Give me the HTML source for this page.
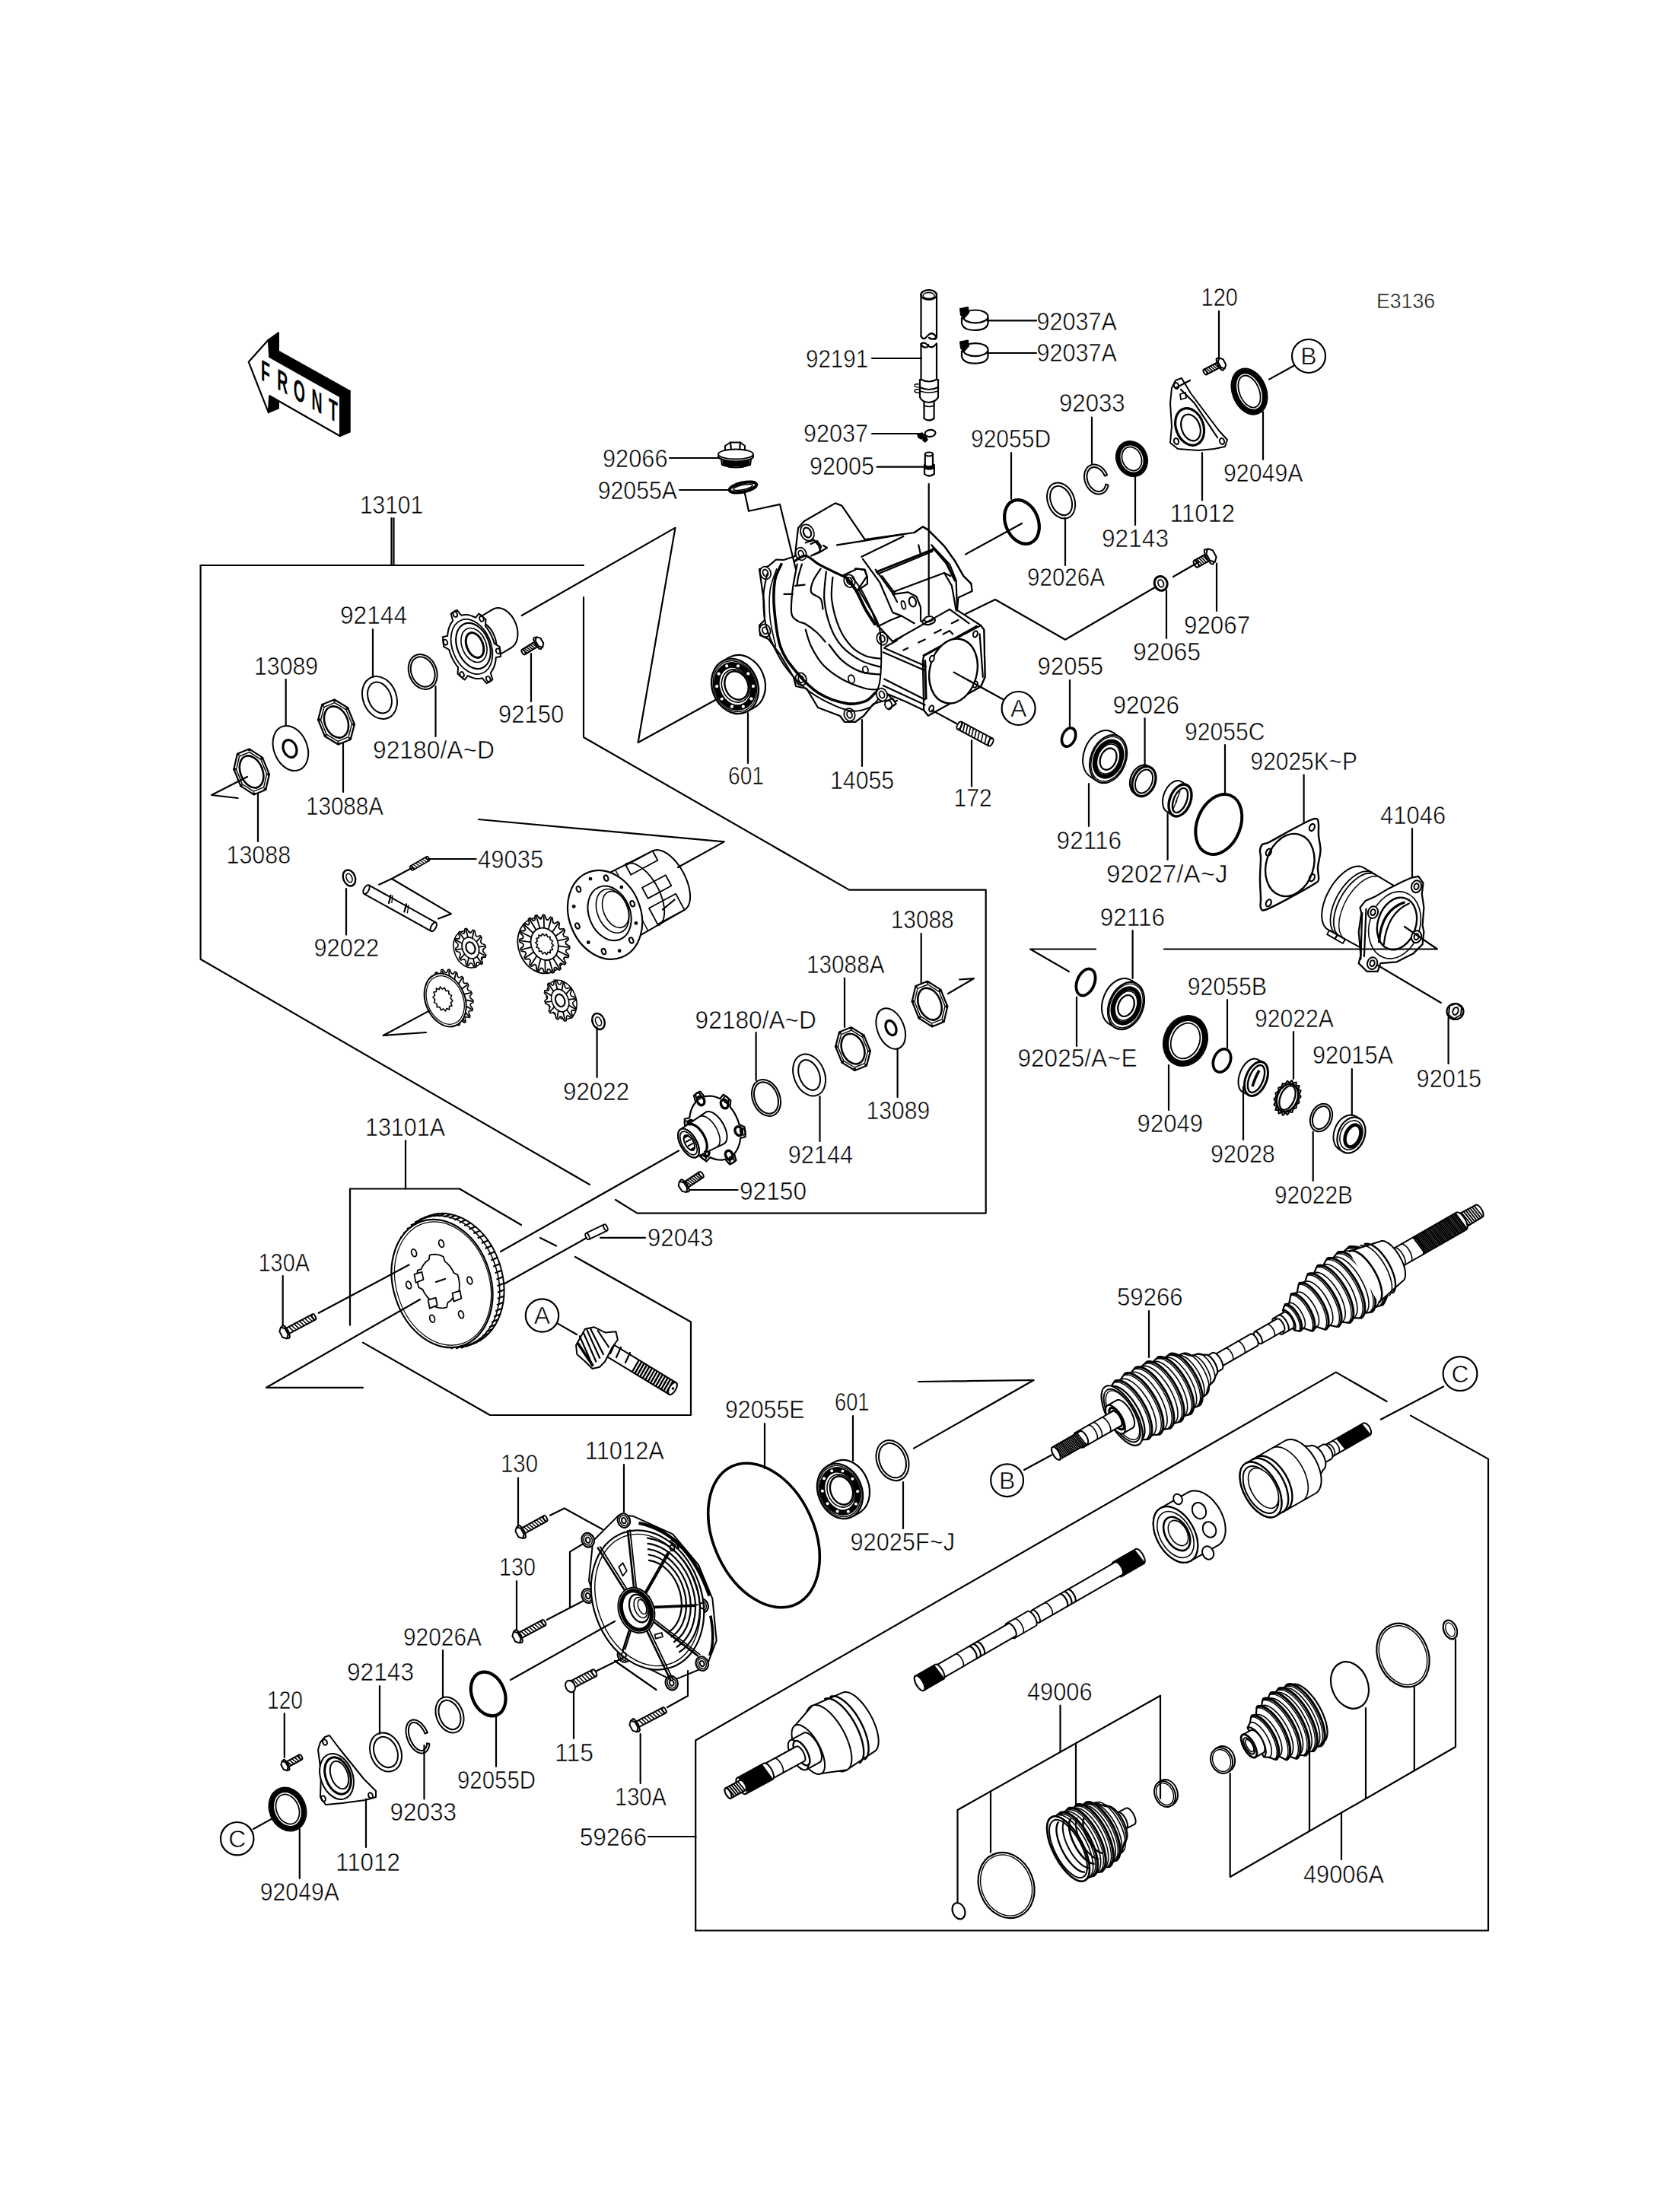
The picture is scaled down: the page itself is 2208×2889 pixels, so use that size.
<!DOCTYPE html>
<html><head><meta charset="utf-8"><style>
html,body{margin:0;padding:0;background:#fff;}
svg{display:block;}
text{font-family:"Liberation Sans",sans-serif;fill:#000;}
.lb{stroke:#fff;stroke-width:0.6px;}
.s{fill:none;stroke:#000;stroke-width:2.2;stroke-linejoin:round;stroke-linecap:round;}
.t{fill:none;stroke:#000;stroke-width:3.6;}
.f{fill:#000;stroke:none;}
.w{fill:#fff;stroke:#000;stroke-width:2.2;stroke-linejoin:round;}
.h{fill:none;stroke:#000;stroke-width:1.4;}
</style></head><body>
<svg xmlns="http://www.w3.org/2000/svg" width="2208" height="2889" viewBox="0 0 2208 2889">
<rect width="2208" height="2889" fill="#fff"/>
<ellipse cx="1343" cy="686" rx="21.5" ry="29.9" transform="rotate(-22 1343 686)" fill="none" stroke="#000" stroke-width="4.2"/>
<ellipse cx="1394.6" cy="658" rx="17.4" ry="24.4" transform="rotate(-22 1394.6 658)" fill="none" stroke="#000" stroke-width="2"/>
<ellipse cx="1394.6" cy="658" rx="13.4" ry="20" transform="rotate(-22 1394.6 658)" fill="none" stroke="#000" stroke-width="2"/>
<path d="M1456.7 637.6 L1456 640 L1455.1 642.3 L1454 644.3 L1452.5 646 L1450.9 647.4 L1449 648.4 L1447 649.1 L1444.9 649.5 L1442.7 649.4 L1440.5 649 L1438.2 648.2 L1436.1 647.1 L1434 645.6 L1432.1 643.8 L1430.3 641.7 L1428.8 639.5 L1427.4 637 L1426.4 634.4 L1425.6 631.7 L1425.2 629 L1425 626.3 L1425.2 623.7 L1425.6 621.1 L1426.4 618.8 L1427.4 616.7 L1428.7 614.8 L1430.3 613.3 L1432 612.1 L1434 611.2 L1436 610.6 L1438.2 610.5 L1440.4 610.7 L1442.6 611.4 L1444.8 612.3 L1447 613.6 L1449 615.3 L1450.8 617.2 L1452.5 619.4 L1453.9 621.8 L1455.1 624.3 L1451.9 625.6 L1450.9 623.5 L1449.7 621.5 L1448.4 619.7 L1446.9 618.1 L1445.3 616.7 L1443.6 615.6 L1441.9 614.8 L1440.2 614.2 L1438.4 614 L1436.8 614.1 L1435.2 614.5 L1433.7 615.1 L1432.3 616.1 L1431.2 617.4 L1430.2 618.9 L1429.4 620.6 L1428.9 622.5 L1428.5 624.5 L1428.5 626.6 L1428.7 628.9 L1429.1 631.1 L1429.7 633.3 L1430.6 635.5 L1431.7 637.5 L1432.9 639.4 L1434.3 641.1 L1435.9 642.6 L1437.5 643.9 L1439.2 644.8 L1441 645.5 L1442.7 645.9 L1444.4 646 L1446.1 645.8 L1447.6 645.2 L1449 644.4 L1450.3 643.3 L1451.4 641.9 L1452.2 640.3 L1452.9 638.5 L1453.3 636.5 Z" fill="none" stroke="#000" stroke-width="2.0" stroke-linejoin="round"/>
<ellipse cx="1487.5" cy="603" rx="20" ry="23.5" transform="rotate(-22 1487.5 603)" fill="#fff" stroke="#000" stroke-width="2"/>
<ellipse cx="1487.5" cy="603" rx="17" ry="20.5" transform="rotate(-22 1487.5 603)" fill="none" stroke="#000" stroke-width="5"/>
<ellipse cx="1487.5" cy="603" rx="12.5" ry="16" transform="rotate(-22 1487.5 603)" fill="none" stroke="#000" stroke-width="1.8"/>
<ellipse cx="1642" cy="514.6" rx="22" ry="31.1" transform="rotate(-22 1642 514.6)" fill="#fff" stroke="#000" stroke-width="2"/>
<ellipse cx="1642" cy="514.6" rx="18.4" ry="27.5" transform="rotate(-22 1642 514.6)" fill="none" stroke="#000" stroke-width="6"/>
<ellipse cx="1642" cy="514.6" rx="13" ry="22.1" transform="rotate(-22 1642 514.6)" fill="none" stroke="#000" stroke-width="1.8"/>
<ellipse cx="1404.6" cy="969" rx="8.5" ry="12.7" transform="rotate(22 1404.6 969)" fill="none" stroke="#000" stroke-width="3.6"/>
<ellipse cx="1601.8" cy="1083.5" rx="28.4" ry="41" transform="rotate(22 1601.8 1083.5)" fill="none" stroke="#000" stroke-width="4"/>
<ellipse cx="1427" cy="1291" rx="11.4" ry="18.4" transform="rotate(22 1427 1291)" fill="none" stroke="#000" stroke-width="3.8"/>
<ellipse cx="1558" cy="1368" rx="28.2" ry="33.7" transform="rotate(22 1558 1368)" fill="#fff" stroke="#000" stroke-width="2"/>
<ellipse cx="1558" cy="1368" rx="24.3" ry="29.8" transform="rotate(22 1558 1368)" fill="none" stroke="#000" stroke-width="6.5"/>
<ellipse cx="1558" cy="1368" rx="18.4" ry="24" transform="rotate(22 1558 1368)" fill="none" stroke="#000" stroke-width="1.8"/>
<ellipse cx="1606" cy="1394" rx="10.9" ry="15.8" transform="rotate(22 1606 1394)" fill="none" stroke="#000" stroke-width="3.6"/>
<ellipse cx="1736.5" cy="1469" rx="13.8" ry="18.9" transform="rotate(22 1736.5 1469)" fill="none" stroke="#000" stroke-width="2"/>
<ellipse cx="1736.5" cy="1469" rx="10.8" ry="15.6" transform="rotate(22 1736.5 1469)" fill="none" stroke="#000" stroke-width="2"/>
<ellipse cx="499" cy="917" rx="21.9" ry="28.9" transform="rotate(-22 499 917)" fill="none" stroke="#000" stroke-width="2"/>
<ellipse cx="499" cy="917" rx="14.9" ry="21.2" transform="rotate(-22 499 917)" fill="none" stroke="#000" stroke-width="2"/>
<ellipse cx="555.7" cy="883" rx="18.1" ry="23.7" transform="rotate(-22 555.7 883)" fill="none" stroke="#000" stroke-width="2"/>
<ellipse cx="555.7" cy="883" rx="15.1" ry="20.4" transform="rotate(-22 555.7 883)" fill="none" stroke="#000" stroke-width="2"/>
<ellipse cx="1063.6" cy="1413" rx="20.1" ry="28.5" transform="rotate(-22 1063.6 1413)" fill="none" stroke="#000" stroke-width="2"/>
<ellipse cx="1063.6" cy="1413" rx="13.1" ry="20.8" transform="rotate(-22 1063.6 1413)" fill="none" stroke="#000" stroke-width="2"/>
<ellipse cx="1007" cy="1443" rx="17.9" ry="24.9" transform="rotate(-22 1007 1443)" fill="none" stroke="#000" stroke-width="2"/>
<ellipse cx="1007" cy="1443" rx="14.9" ry="21.6" transform="rotate(-22 1007 1443)" fill="none" stroke="#000" stroke-width="2"/>
<ellipse cx="641.7" cy="2226.5" rx="21.5" ry="29.9" transform="rotate(-22 641.7 2226.5)" fill="none" stroke="#000" stroke-width="4.2"/>
<ellipse cx="591" cy="2254" rx="17.4" ry="24.4" transform="rotate(-22 591 2254)" fill="none" stroke="#000" stroke-width="2"/>
<ellipse cx="591" cy="2254" rx="13.4" ry="20" transform="rotate(-22 591 2254)" fill="none" stroke="#000" stroke-width="2"/>
<path d="M564.4 2292.3 L564 2294.9 L563.4 2297.3 L562.4 2299.4 L561.2 2301.2 L559.7 2302.6 L558.1 2303.7 L556.2 2304.3 L554.3 2304.5 L552.2 2304.3 L550 2303.6 L547.9 2302.5 L545.7 2301.1 L543.7 2299.3 L541.7 2297.1 L539.9 2294.7 L538.2 2292 L536.8 2289.2 L535.6 2286.2 L534.6 2283.1 L534 2280.1 L533.6 2277.1 L533.5 2274.1 L533.7 2271.4 L534.3 2268.9 L535.1 2266.6 L536.2 2264.6 L537.5 2263 L539.1 2261.8 L540.8 2261 L542.7 2260.5 L544.8 2260.6 L546.9 2261 L549 2261.9 L551.2 2263.1 L553.3 2264.8 L555.3 2266.8 L557.2 2269.1 L559 2271.6 L560.5 2274.4 L561.9 2277.3 L558.6 2278.6 L557.5 2276.1 L556.2 2273.8 L554.8 2271.6 L553.3 2269.6 L551.7 2267.9 L550 2266.4 L548.3 2265.3 L546.6 2264.5 L545 2264.1 L543.5 2264 L542 2264.2 L540.7 2264.9 L539.6 2265.8 L538.6 2267.1 L537.8 2268.7 L537.3 2270.6 L537 2272.7 L536.9 2275 L537.1 2277.4 L537.4 2280 L538.1 2282.5 L538.9 2285.1 L539.9 2287.6 L541.1 2290.1 L542.5 2292.4 L543.9 2294.4 L545.5 2296.3 L547.2 2297.9 L548.8 2299.2 L550.5 2300.1 L552.2 2300.8 L553.8 2301 L555.3 2300.9 L556.7 2300.5 L557.9 2299.7 L558.9 2298.5 L559.8 2297.1 L560.5 2295.4 L560.9 2293.4 L561.1 2291.2 Z" fill="none" stroke="#000" stroke-width="2.0" stroke-linejoin="round"/>
<ellipse cx="507" cy="2303" rx="20" ry="26.3" transform="rotate(-22 507 2303)" fill="none" stroke="#000" stroke-width="2"/>
<ellipse cx="507" cy="2303" rx="15" ry="20.8" transform="rotate(-22 507 2303)" fill="none" stroke="#000" stroke-width="2"/>
<ellipse cx="378" cy="2378" rx="23.6" ry="29.2" transform="rotate(-22 378 2378)" fill="#fff" stroke="#000" stroke-width="2"/>
<ellipse cx="378" cy="2378" rx="20" ry="25.6" transform="rotate(-22 378 2378)" fill="none" stroke="#000" stroke-width="6"/>
<ellipse cx="378" cy="2378" rx="14.6" ry="20.2" transform="rotate(-22 378 2378)" fill="none" stroke="#000" stroke-width="1.8"/>
<ellipse cx="1004" cy="2018" rx="66" ry="99.9" transform="rotate(-25 1004 2018)" fill="none" stroke="#000" stroke-width="3.6"/>
<ellipse cx="1173" cy="1919.6" rx="20.4" ry="27.4" transform="rotate(-22 1173 1919.6)" fill="none" stroke="#000" stroke-width="2"/>
<ellipse cx="1173" cy="1919.6" rx="16.9" ry="23.5" transform="rotate(-22 1173 1919.6)" fill="none" stroke="#000" stroke-width="2"/>
<path d="M1210.5 387 L1210.5 442" class="s"/>
<path d="M1231 387 L1231 442" class="s"/>
<ellipse cx="1220.7" cy="387.5" rx="10.3" ry="6.3" transform="rotate(0 1220.7 387.5)" class="s" />
<ellipse cx="1220.7" cy="388.5" rx="7.5" ry="4" transform="rotate(0 1220.7 388.5)" class="h" />
<path d="M1210.5 442 Q1213 446.5 1216 444.5 L1221 439.5 Q1224 437 1227.5 439.5 Q1231 442 1229.5 444.5 Q1225 447 1221 444 M1231 442 Q1231 445.5 1228 446" class="s"/>
<path d="M1210.5 452 Q1212 450 1216 451 L1221 455 Q1224 457.5 1227.5 455 L1231 451.5 M1210.5 452 Q1213 457.5 1217 456.5 Q1221 456 1220 453" class="s"/>
<path d="M1210.5 452 L1210.5 499" class="s"/>
<path d="M1231 452 L1231 499" class="s"/>
<path d="M1211 499 Q1220.7 504 1230.5 499" class="s"/>
<path d="M1209 499 L1209 522 Q1211 528 1220.7 529 Q1230.5 528 1233 522 L1233 499" class="s"/>
<path d="M1209 509 Q1220.7 515 1233 509" class="s"/>
<path d="M1209 514 Q1220.7 518 1233 514" class="h"/>
<path d="M1208 505 Q1202 504 1202 507 Q1203 509 1208 509 M1208 512 Q1202 511 1202 514 Q1203 517 1208 516" class="h"/>
<path d="M1214.5 528 L1214.5 550 Q1221 555 1227.6 550 L1227.6 528" class="s"/>
<path d="M1214.5 533 Q1221 536 1227.6 533" class="h"/>
<path d="M1264 418 L1264 425 Q1266 434 1281 434 Q1297 434 1298.5 425 L1298.5 418" class="s"/>
<ellipse cx="1282" cy="416" rx="16.5" ry="8.5" transform="rotate(0 1282 416)" class="s" />
<path d="M1268 421 Q1282 428 1296 421" class="h"/>
<path d="M1262 406 L1272 404 L1273 411 L1267 418 L1263 414 Z" fill="#000" stroke="#000" stroke-width="2" stroke-linejoin="round" stroke-linecap="round"/>
<path d="M1264 461.6 L1264 468.6 Q1266 477.6 1281 477.6 Q1297 477.6 1298.5 468.6 L1298.5 461.6" class="s"/>
<ellipse cx="1282" cy="459.6" rx="16.5" ry="8.5" transform="rotate(0 1282 459.6)" class="s" />
<path d="M1268 464.6 Q1282 471.6 1296 464.6" class="h"/>
<path d="M1262 449.6 L1272 447.6 L1273 454.6 L1267 461.6 L1263 457.6 Z" fill="#000" stroke="#000" stroke-width="2" stroke-linejoin="round" stroke-linecap="round"/>
<ellipse cx="1222.5" cy="569.5" rx="7" ry="4.5" transform="rotate(-8 1222.5 569.5)" class="s" />
<path d="M1206 571 L1212 569 L1215 573 L1211 577 L1207 575 Z" fill="#000" stroke="#000" stroke-width="1.5" stroke-linejoin="round" stroke-linecap="round"/>
<path d="M1213 575 L1217 574 L1219 578 L1216 581 L1213 579 Z" fill="#000" stroke="#000" stroke-width="1.5" stroke-linejoin="round" stroke-linecap="round"/>
<path d="M1215.8 597 L1215.8 611 M1226 597 L1226 611" class="s"/>
<ellipse cx="1221" cy="597" rx="5.1" ry="2.5" transform="rotate(0 1221 597)" class="s" />
<path d="M1215 611 Q1221 616 1227.8 611 M1215 611 L1215 623 Q1221 628 1227.8 623 L1227.8 611" class="s"/>
<path d="M1215 614 Q1221 618 1227.8 614" class="t"/>
<path d="M953 586 L960 581.5 L973 581.5 L979 586 L979 592 L953 592 Z" fill="#fff" stroke="#000" stroke-width="2" stroke-linejoin="round" stroke-linecap="round"/>
<path d="M960 581.5 L961 592 M973 581.5 L972 592" class="s"/>
<ellipse cx="967" cy="600" rx="23" ry="6.5" transform="rotate(0 967 600)" fill="#fff" stroke="#000" stroke-width="2.2"/>
<ellipse cx="967" cy="597" rx="23" ry="6.5" transform="rotate(0 967 597)" fill="#fff" stroke="#000" stroke-width="2"/>
<path d="M948 603 L949 611 Q967 618 986 611 L987 603" class="s"/>
<path d="M950 606 Q967 612 985 606 M950 609 Q967 615 985 609" class="t"/>
<ellipse cx="976.5" cy="640.5" rx="18" ry="6" transform="rotate(-12 976.5 640.5)" fill="none" stroke="#000" stroke-width="4.2"/>
<ellipse cx="976.5" cy="640.5" rx="13" ry="3" transform="rotate(-12 976.5 640.5)" fill="none" stroke="#000" stroke-width="1.5"/>
<path d="M1049 694 L1057 685 L1097.8 661.4 L1106.4 664.6 L1136.7 709.2 L1187.4 702.2 L1201.5 700 L1212.8 692.3 L1219.9 696.5 L1241 717.7 L1255 737.4 L1266.4 757.2 L1276.3 767 L1277.7 777 L1259.4 785.4 L1258 802 L1289 822 L1293.2 827.7 L1294.6 889.8 L1289 902.5 L1219.9 940.5 L1214.2 933.5 L1190 922 L1166 912 L1162 921 L1148 925 L1135 941 L1124 949 L1110 949 L1104 941 L1075 930 L1060 905 L1046 902 L1043 890 L1025 860 L1010 840 L999 835 L998 822 L1005 815 L1004 790 L1000 762 L998 748 L1010 744 L1020 735.5 L1030 736 L1045 731 L1046 720 L1049 694 Z" fill="#fff" stroke="#000" stroke-width="2.2" stroke-linejoin="round" stroke-linecap="round"/>
<ellipse cx="1006" cy="753" rx="7" ry="8.5" transform="rotate(-20 1006 753)" fill="#fff" stroke="#000" stroke-width="1.8"/>
<ellipse cx="1006" cy="753" rx="3.3" ry="4.6" transform="rotate(-20 1006 753)" fill="#fff" stroke="#000" stroke-width="1.8"/>
<ellipse cx="1052.7" cy="728" rx="7" ry="8.5" transform="rotate(-20 1052.7 728)" fill="#fff" stroke="#000" stroke-width="1.8"/>
<ellipse cx="1052.7" cy="728" rx="3.3" ry="4.6" transform="rotate(-20 1052.7 728)" fill="#fff" stroke="#000" stroke-width="1.8"/>
<ellipse cx="1116.5" cy="763.7" rx="7" ry="8.5" transform="rotate(-20 1116.5 763.7)" fill="#fff" stroke="#000" stroke-width="1.8"/>
<ellipse cx="1116.5" cy="763.7" rx="3.3" ry="4.6" transform="rotate(-20 1116.5 763.7)" fill="#fff" stroke="#000" stroke-width="1.8"/>
<ellipse cx="1159.5" cy="839.3" rx="7" ry="8.5" transform="rotate(-20 1159.5 839.3)" fill="#fff" stroke="#000" stroke-width="1.8"/>
<ellipse cx="1159.5" cy="839.3" rx="3.3" ry="4.6" transform="rotate(-20 1159.5 839.3)" fill="#fff" stroke="#000" stroke-width="1.8"/>
<ellipse cx="1159" cy="913" rx="7" ry="8.5" transform="rotate(-20 1159 913)" fill="#fff" stroke="#000" stroke-width="1.8"/>
<ellipse cx="1159" cy="913" rx="3.3" ry="4.6" transform="rotate(-20 1159 913)" fill="#fff" stroke="#000" stroke-width="1.8"/>
<ellipse cx="1116.5" cy="939.4" rx="7" ry="8.5" transform="rotate(-20 1116.5 939.4)" fill="#fff" stroke="#000" stroke-width="1.8"/>
<ellipse cx="1116.5" cy="939.4" rx="3.3" ry="4.6" transform="rotate(-20 1116.5 939.4)" fill="#fff" stroke="#000" stroke-width="1.8"/>
<ellipse cx="1052.7" cy="892.7" rx="7" ry="8.5" transform="rotate(-20 1052.7 892.7)" fill="#fff" stroke="#000" stroke-width="1.8"/>
<ellipse cx="1052.7" cy="892.7" rx="3.3" ry="4.6" transform="rotate(-20 1052.7 892.7)" fill="#fff" stroke="#000" stroke-width="1.8"/>
<ellipse cx="1005.4" cy="828.8" rx="7" ry="8.5" transform="rotate(-20 1005.4 828.8)" fill="#fff" stroke="#000" stroke-width="1.8"/>
<ellipse cx="1005.4" cy="828.8" rx="3.3" ry="4.6" transform="rotate(-20 1005.4 828.8)" fill="#fff" stroke="#000" stroke-width="1.8"/>
<ellipse cx="1061" cy="700" rx="4.8" ry="6.8" transform="rotate(-25 1061 700)" fill="#fff" stroke="#000" stroke-width="2.2"/>
<ellipse cx="1061" cy="700" rx="8.5" ry="11" transform="rotate(-25 1061 700)" fill="none" stroke="#000" stroke-width="1.8"/>
<path d="M1065.7 715 L1074 711 L1079 718 L1077 726 L1070 729" class="s"/>
<path d="M1077 726 L1087 720 L1082 717" class="s"/>
<path d="M1008.4 753.9 C1007.6 758.6 1003.9 771.3 1003.5 782.1 C1003.1 793 1003.7 807.7 1006 819 C1008.2 830.3 1012.3 839.7 1017 849.7 C1021.7 859.7 1027.3 870 1034.2 879.2 C1041.2 888.4 1049.8 897.6 1058.8 905 C1067.8 912.4 1078.2 918.5 1088.3 923.4 C1098.3 928.3 1109.8 933.4 1119 934.5 C1128.2 935.5 1137.6 932.2 1143.6 929.6 C1149.5 926.9 1152.8 920.3 1154.6 918.5" fill="none" stroke="#000" stroke-width="2.0" stroke-linejoin="round" stroke-linecap="round"/>
<path d="M1026.9 741.6 C1025.4 745.3 1019.8 753.9 1018.3 763.7 C1016.7 773.5 1016.4 786.2 1017.6 800.6 C1018.9 814.9 1021 836.2 1025.6 849.7 C1030.2 863.2 1036.9 871.4 1045.3 881.6 C1053.7 891.9 1064.7 904 1076 911.1 C1087.3 918.3 1102.6 922.9 1112.9 924.6 C1123.1 926.4 1131.3 923.8 1137.4 921.6 C1143.6 919.3 1147.7 912.9 1149.7 911.1" fill="none" stroke="#000" stroke-width="3.6" stroke-linejoin="round" stroke-linecap="round"/>
<path d="M1020.7 747.7 C1019.3 752.4 1013.5 765.1 1012.1 776 C1010.7 786.8 1010.9 800.6 1012.1 812.9 C1013.3 825.1 1018.3 843.6 1019.5 849.7" fill="none" stroke="#000" stroke-width="1.6" stroke-linejoin="round" stroke-linecap="round"/>
<path d="M1044.1 737.9 C1046.5 736.7 1053.5 729.9 1058.8 730.5 C1064.1 731.2 1069 737.7 1076 741.6 C1083 745.5 1094.4 750.9 1100.6 753.9 C1106.7 756.9 1110.8 758.5 1112.9 759.4" fill="none" stroke="#000" stroke-width="3.2" stroke-linejoin="round" stroke-linecap="round"/>
<path d="M1112.9 760 C1114.9 762.7 1121 769.2 1125.1 776 C1129.2 782.8 1133.3 793.2 1137.4 800.6 C1141.5 807.9 1147.7 816.9 1149.7 820.2" fill="none" stroke="#000" stroke-width="4.0" stroke-linejoin="round" stroke-linecap="round"/>
<path d="M1120.2 758.8 C1122.3 761.7 1128.4 769 1132.5 776 C1136.6 783 1140.9 792.4 1144.8 800.6 C1148.7 808.8 1153.6 814.9 1155.8 825.1 C1158.1 835.4 1158.3 849.7 1158.3 862 C1158.3 874.3 1157.3 890.7 1155.8 898.8 C1154.4 907 1150.7 909.1 1149.7 911.1" fill="none" stroke="#000" stroke-width="2.0" stroke-linejoin="round" stroke-linecap="round"/>
<path d="M1047.7 741.6 C1046.7 747.3 1042.8 765.1 1041.6 776 C1040.4 786.8 1039.1 800 1040.4 806.7 C1041.6 813.5 1045.9 814.3 1049 816.5 C1052 818.8 1054.7 817.8 1058.8 820.2 C1062.9 822.7 1069.2 827.4 1073.5 831.3 C1077.8 835.2 1082.8 841.5 1084.6 843.6" class="s"/>
<path d="M1078.5 747.7 C1076.8 750.4 1070.7 758.6 1068.6 763.7 C1066.6 768.8 1064.5 774.6 1066.2 778.5 C1067.8 782.3 1075.9 783.4 1078.5 787.1 C1081 790.7 1081 798.3 1081.5 800.6" class="s"/>
<path d="M1085.8 751.4 C1085.4 757.6 1082.3 776 1083.4 788.3 C1084.4 800.6 1088.1 814.9 1092 825.1 C1095.9 835.4 1100.2 842.5 1106.7 849.7 C1113.3 856.9 1122.9 863.6 1131.3 868.1 C1139.7 872.6 1152.8 875.3 1157.1 876.7" class="s"/>
<path d="M1094.4 758.8 C1094.2 763.7 1091.8 777.2 1093.2 788.3 C1094.6 799.3 1098.7 814.9 1103 825.1 C1107.3 835.4 1113.3 843.6 1119 849.7 C1124.7 855.8 1131.1 859.3 1137.4 862 C1143.8 864.7 1153.8 865.1 1157.1 865.7" class="s"/>
<path d="M1058.8 827.6 C1060 831.3 1062.3 841.9 1066.2 849.7 C1070.1 857.5 1075.4 867.1 1082.1 874.3 C1088.9 881.4 1097.5 887.6 1106.7 892.7 C1115.9 897.8 1129.4 902.7 1137.4 905 C1145.4 907.2 1151.8 906 1154.6 906.2" class="s"/>
<path d="M1089.5 847.2 C1092.4 850.7 1099.7 862.2 1106.7 868.1 C1113.7 874.1 1122.9 879.8 1131.3 882.9 C1139.7 885.9 1152.8 885.9 1157.1 886.6" class="s"/>
<path d="M1053.9 741.6 C1053.1 744.5 1050 754.1 1049 758.8 C1047.9 763.5 1047.9 768 1047.7 769.9" class="s"/>
<ellipse cx="1119" cy="892.7" rx="4" ry="5.5" transform="rotate(-15 1119 892.7)" fill="none" stroke="#000" stroke-width="1.8"/>
<ellipse cx="1137.4" cy="880.4" rx="3.5" ry="4.5" transform="rotate(-15 1137.4 880.4)" fill="none" stroke="#000" stroke-width="1.8"/>
<path d="M1045.3 769.9 L1057.6 768.6" class="s"/>
<path d="M1030.5 780.9 L1041.6 780.9" class="s"/>
<path d="M1058.8 713.3 L1069.9 709.7 L1076 717 L1078.5 724.4 L1066.2 730.5" class="s"/>
<path d="M1107.9 756.3 L1126.4 747.7 L1136.2 749 L1139.9 758.8 L1139.9 767.4 L1127.6 776" class="s"/>
<path d="M1100 716.3 L1136.7 710.6 L1187.4 702.2" class="s"/>
<path d="M1132.4 731.8 L1187.4 705" class="s"/>
<path d="M1152.2 751.6 L1226.9 721.9" fill="none" stroke="#000" stroke-width="3" stroke-linejoin="round" stroke-linecap="round"/>
<path d="M1153.6 754.4 L1225.5 724.8" class="s"/>
<path d="M1173.3 778.3 L1241 753 L1249.5 757.2" class="s"/>
<path d="M1241 753 L1250.9 769.9 L1256.6 802.3" class="s"/>
<path d="M1224.1 716.3 L1248.1 741.7 L1256.6 762.8 L1258 802.3" class="s"/>
<path d="M1226.9 720.5 L1243.9 740.3 L1255.1 762.8" fill="none" stroke="#000" stroke-width="3.2" stroke-linejoin="round" stroke-linecap="round"/>
<path d="M1150.8 748.7 L1173.3 779.8 L1179 791" class="s"/>
<path d="M1159.2 757.2 L1176.2 779.8" class="s"/>
<path d="M1133.9 734.6 L1156.4 765.7 L1173.3 805.1 L1184.6 809.4" class="s"/>
<path d="M1124 747.3 L1136.7 748.7 L1139.5 757.2 L1128.2 774.1" class="s"/>
<path d="M1128.2 774.1 L1146.5 805.1 L1153.6 823.5 L1170.5 815 L1184.6 809.4 L1201.6 819.3" class="s"/>
<path d="M1173.3 781.2 L1193.1 778.3 L1204.4 784 L1210 798.1 L1210 816.4" class="s"/>
<ellipse cx="1199.4" cy="791" rx="4.5" ry="6.5" transform="rotate(-15 1199.4 791)" fill="none" stroke="#000" stroke-width="2.2"/>
<ellipse cx="1187.4" cy="795.3" rx="2.5" ry="5.5" transform="rotate(-15 1187.4 795.3)" fill="none" stroke="#000" stroke-width="1.8"/>
<path d="M1219.9 696.5 L1241 717.7 L1255.1 737.4 L1266.4 757.2 L1276.3 767.1" class="s"/>
<path d="M1207.2 716.3 L1210 729" class="s"/>
<path d="M1201.6 700.1 L1212.8 692.3 L1219.9 696.5" class="s"/>
<ellipse cx="1220.6" cy="816.4" rx="8.5" ry="4.5" transform="rotate(-10 1220.6 816.4)" fill="#fff" stroke="#000" stroke-width="2.2"/>
<ellipse cx="1220.6" cy="813.6" rx="6" ry="3.5" transform="rotate(-10 1220.6 813.6)" fill="#fff" stroke="#000" stroke-width="2"/>
<path d="M1214.2 861.6 L1289 822.1 L1293.2 827.7 L1294.6 889.8 L1289 902.5 L1219.9 940.6 L1214.2 933.5 L1212.8 868.6 Z" fill="#fff" stroke="#000" stroke-width="2.2" stroke-linejoin="round" stroke-linecap="round"/>
<path d="M1214.2 861.6 L1248.1 843.2 L1283.4 823.5" fill="none" stroke="#000" stroke-width="3.2" stroke-linejoin="round" stroke-linecap="round"/>
<path d="M1287.6 833.4 L1291.8 889.8" class="s"/>
<ellipse cx="1253" cy="882" rx="31" ry="43" transform="rotate(14 1253 882)" fill="#fff" stroke="#000" stroke-width="2.4"/>
<ellipse cx="1281.9" cy="833.4" rx="2.8" ry="4.2" transform="rotate(20 1281.9 833.4)" fill="#fff" stroke="#000" stroke-width="2"/>
<ellipse cx="1224.8" cy="865.8" rx="2.8" ry="4.2" transform="rotate(20 1224.8 865.8)" fill="#fff" stroke="#000" stroke-width="2"/>
<ellipse cx="1281.9" cy="899.6" rx="2.8" ry="4.2" transform="rotate(20 1281.9 899.6)" fill="#fff" stroke="#000" stroke-width="2"/>
<ellipse cx="1224.1" cy="931.4" rx="2.8" ry="4.2" transform="rotate(20 1224.1 931.4)" fill="#fff" stroke="#000" stroke-width="2"/>
<path d="M1162.1 851.7 L1217.1 875.7" class="s"/>
<path d="M1160.6 857.3 L1215.7 881.3" class="s"/>
<path d="M1162.1 892.6 L1215.7 919.4" class="s"/>
<path d="M1160.6 901.1 L1215.7 926.4" class="s"/>
<path d="M1155 823.5 L1173.3 843.2 L1184.6 837.6" class="s"/>
<path d="M1173.3 843.2 L1248.1 800.9 L1273.5 819.3" class="s"/>
<path d="M1163.5 850.3 L1179 841.8" class="s"/>
<path d="M1215.7 868.6 L1217.1 918" fill="none" stroke="#000" stroke-width="3" stroke-linejoin="round" stroke-linecap="round"/>
<path d="M1166.3 912.3 L1176.2 922.2 L1179 920.8" class="s"/>
<path d="M1187.4 854.5 L1193.1 851.7" class="s"/>
<path d="M1207.2 844.6 L1215.7 840.4" class="s"/>
<path d="M1228.3 831.9 L1236.8 827.7" class="s"/>
<path d="M1250.9 819.3 L1259.4 815" class="s"/>
<path d="M1239.6 833.4 L1248.1 829.1 L1252.3 833.4" class="s"/>
<ellipse cx="1167.7" cy="926.4" rx="4.5" ry="6" transform="rotate(-20 1167.7 926.4)" fill="none" stroke="#000" stroke-width="1.8"/>
<path d="M1163.5 922.2 L1173.3 918 L1177.6 925 L1167.7 932.1" class="s"/>
<ellipse cx="1447.6" cy="991.6" rx="22.9" ry="32.7" transform="rotate(22 1447.6 991.6)" fill="#fff" stroke="#000" stroke-width="2"/><path d="M1471.8 968.8 L1462.8 962.8 L1432.4 1020.4 L1441.4 1026.4 Z" fill="#fff" stroke="none"/><path d="M1471.8 968.8 L1462.8 962.8 M1441.4 1026.4 L1432.4 1020.4" fill="none" stroke="#000" stroke-width="2"/><ellipse cx="1456.6" cy="997.6" rx="22.9" ry="32.7" transform="rotate(22 1456.6 997.6)" fill="#fff" stroke="#000" stroke-width="2.2"/>
<ellipse cx="1456.6" cy="997.6" rx="21.3" ry="30.4" transform="rotate(22 1456.6 997.6)" fill="none" stroke="#000" stroke-width="1.4"/>
<ellipse cx="1456.6" cy="997.6" rx="16.9" ry="24.2" transform="rotate(22 1456.6 997.6)" fill="none" stroke="#000" stroke-width="5.5"/>
<ellipse cx="1456.6" cy="997.6" rx="14.2" ry="20.3" transform="rotate(22 1456.6 997.6)" fill="none" stroke="#000" stroke-width="1.6"/>
<ellipse cx="1456.6" cy="997.6" rx="10.3" ry="14.7" transform="rotate(22 1456.6 997.6)" fill="#fff" stroke="#000" stroke-width="2.2"/>
<ellipse cx="1500.5" cy="1025" rx="14.6" ry="20.2" transform="rotate(22 1500.5 1025)" fill="#fff" stroke="#000" stroke-width="2.2"/><path d="M1513 1009.3 L1510 1007.3 L1491 1042.7 L1494 1044.7 Z" fill="#fff" stroke="none"/><path d="M1513 1009.3 L1510 1007.3 M1494 1044.7 L1491 1042.7" fill="none" stroke="#000" stroke-width="2.2"/><ellipse cx="1503.5" cy="1027" rx="14.6" ry="20.2" transform="rotate(22 1503.5 1027)" fill="#fff" stroke="#000" stroke-width="3.2"/>
<ellipse cx="1503.5" cy="1027" rx="10.6" ry="16.2" transform="rotate(22 1503.5 1027)" fill="none" stroke="#000" stroke-width="2"/>
<ellipse cx="1543" cy="1047" rx="13.5" ry="22" transform="rotate(22 1543 1047)" fill="#fff" stroke="#000" stroke-width="2"/><path d="M1560.5 1032.3 L1552.5 1027.3 L1533.5 1066.7 L1541.5 1071.7 Z" fill="#fff" stroke="none"/><path d="M1560.5 1032.3 L1552.5 1027.3 M1541.5 1071.7 L1533.5 1066.7" fill="none" stroke="#000" stroke-width="2"/><ellipse cx="1551" cy="1052" rx="13.5" ry="22" transform="rotate(22 1551 1052)" fill="#fff" stroke="#000" stroke-width="3.4"/>
<ellipse cx="1551" cy="1052" rx="8.5" ry="17" transform="rotate(22 1551 1052)" fill="none" stroke="#000" stroke-width="2.4"/>
<path d="M1541 1065 L1547 1052 L1545 1055 L1551 1040" class="h"/>
<ellipse cx="1472" cy="1317" rx="22.4" ry="32.2" transform="rotate(22 1472 1317)" fill="#fff" stroke="#000" stroke-width="2"/><path d="M1494.5 1293.4 L1486.5 1288.4 L1457.5 1345.6 L1465.5 1350.6 Z" fill="#fff" stroke="none"/><path d="M1494.5 1293.4 L1486.5 1288.4 M1465.5 1350.6 L1457.5 1345.6" fill="none" stroke="#000" stroke-width="2"/><ellipse cx="1480" cy="1322" rx="22.4" ry="32.2" transform="rotate(22 1480 1322)" fill="#fff" stroke="#000" stroke-width="2.2"/>
<ellipse cx="1480" cy="1322" rx="20.8" ry="29.9" transform="rotate(22 1480 1322)" fill="none" stroke="#000" stroke-width="1.4"/>
<ellipse cx="1480" cy="1322" rx="16.6" ry="23.8" transform="rotate(22 1480 1322)" fill="none" stroke="#000" stroke-width="5.5"/>
<ellipse cx="1480" cy="1322" rx="13.9" ry="20" transform="rotate(22 1480 1322)" fill="none" stroke="#000" stroke-width="1.6"/>
<ellipse cx="1480" cy="1322" rx="10.1" ry="14.5" transform="rotate(22 1480 1322)" fill="#fff" stroke="#000" stroke-width="2.2"/>
<ellipse cx="1643" cy="1414" rx="13.7" ry="23.6" transform="rotate(22 1643 1414)" fill="#fff" stroke="#000" stroke-width="2"/><path d="M1660.4 1396.4 L1652.4 1392.4 L1633.6 1435.6 L1641.6 1439.6 Z" fill="#fff" stroke="none"/><path d="M1660.4 1396.4 L1652.4 1392.4 M1641.6 1439.6 L1633.6 1435.6" fill="none" stroke="#000" stroke-width="2"/><ellipse cx="1651" cy="1418" rx="13.7" ry="23.6" transform="rotate(22 1651 1418)" fill="#fff" stroke="#000" stroke-width="3"/>
<ellipse cx="1651" cy="1418" rx="9.2" ry="19.1" transform="rotate(22 1651 1418)" fill="none" stroke="#000" stroke-width="2.4"/>
<path d="M1646 1428 Q1650 1415 1655 1407" class="t"/>
<path d="M1707.6 1449.3 L1703.9 1451.6 L1703.6 1456.5 L1699.8 1457.2 L1698.2 1462.1 L1694.8 1461.1 L1692.1 1465.3 L1689.4 1462.7 L1685.9 1465.9 L1684.3 1462 L1680.5 1463.7 L1680.2 1459 L1676.4 1459 L1677.5 1454.1 L1674.3 1452.4 L1676.5 1447.8 L1674.3 1444.6 L1677.4 1441 L1676.4 1436.7 L1680.1 1434.4 L1680.4 1429.5 L1684.2 1428.8 L1685.8 1423.9 L1689.2 1424.9 L1691.9 1420.7 L1694.6 1423.3 L1698.1 1420.1 L1699.7 1424 L1703.5 1422.3 L1703.8 1427 L1707.6 1427 L1706.5 1431.9 L1709.7 1433.6 L1707.5 1438.2 L1709.7 1441.4 L1706.6 1445 Z" fill="#fff" stroke="#000" stroke-width="2" stroke-linejoin="round" stroke-linecap="round"/>
<ellipse cx="1692" cy="1443" rx="13.5" ry="19.1" transform="rotate(22 1692 1443)" fill="none" stroke="#000" stroke-width="3"/>
<ellipse cx="1692" cy="1443" rx="9.3" ry="16.7" transform="rotate(22 1692 1443)" fill="#fff" stroke="#000" stroke-width="2.2"/>
<ellipse cx="1771" cy="1489" rx="17.4" ry="24.4" transform="rotate(22 1771 1489)" fill="#fff" stroke="#000" stroke-width="2"/><path d="M1786.9 1470.3 L1781.9 1467.3 L1760.1 1510.7 L1765.1 1513.7 Z" fill="#fff" stroke="none"/><path d="M1786.9 1470.3 L1781.9 1467.3 M1765.1 1513.7 L1760.1 1510.7" fill="none" stroke="#000" stroke-width="2"/><ellipse cx="1776" cy="1492" rx="17.4" ry="24.4" transform="rotate(22 1776 1492)" fill="#fff" stroke="#000" stroke-width="2.2"/>
<ellipse cx="1776" cy="1492" rx="14.2" ry="20" transform="rotate(22 1776 1492)" fill="none" stroke="#000" stroke-width="1.5"/>
<ellipse cx="1778" cy="1493" rx="9.5" ry="15.1" transform="rotate(22 1778 1493)" fill="#fff" stroke="#000" stroke-width="4.5"/>
<ellipse cx="1912.5" cy="1329.5" rx="11" ry="10.5" transform="rotate(0 1912.5 1329.5)" fill="#fff" stroke="#000" stroke-width="2.2"/>
<path d="M1905 1322 L1914 1319 L1921 1324 L1920 1334 L1911 1339 L1904 1334 Z" fill="#fff" stroke="#000" stroke-width="2" stroke-linejoin="round" stroke-linecap="round"/>
<ellipse cx="1913" cy="1329" rx="3.5" ry="5" transform="rotate(20 1913 1329)" fill="none" stroke="#000" stroke-width="2"/>
<ellipse cx="1525.7" cy="766.8" rx="8.3" ry="9.5" transform="rotate(-20 1525.7 766.8)" fill="#fff" stroke="#000" stroke-width="3"/>
<ellipse cx="1525.7" cy="766.8" rx="3.5" ry="5" transform="rotate(-20 1525.7 766.8)" fill="none" stroke="#000" stroke-width="1.8"/>
<path d="M1585.2 728 L1569.6 736.6 L1574.4 745.4 L1590 736.8 Z" fill="#fff" stroke="none"/><path d="M1585.2 728 L1569.6 736.6 M1574.4 745.4 L1590 736.8" fill="none" stroke="#000" stroke-width="2"/><ellipse cx="1587.6" cy="732.4" rx="2.5" ry="5" transform="rotate(151.2 1587.6 732.4)" fill="#fff" stroke="#000" stroke-width="2"/><ellipse cx="1572" cy="741" rx="2.5" ry="5" transform="rotate(151.2 1572 741)" fill="#fff" stroke="#000" stroke-width="2"/><path d="M1580.9 730.4 L1588.3 737.7 M1578.2 731.9 L1585.6 739.2 M1575.5 733.4 L1582.9 740.7 M1572.7 734.9 L1580.2 742.2 M1570 736.4 L1577.5 743.7 " fill="none" stroke="#000" stroke-width="1.5"/><ellipse cx="1588.9" cy="731.7" rx="3.5" ry="11" transform="rotate(151.2 1588.9 731.7)" fill="#fff" stroke="#000" stroke-width="2"/><path d="M1585.4 727.9 L1587.2 721.2 L1593.8 723.3 L1598.6 732.1 L1596.8 738.8 L1590.2 736.7 Z" fill="#fff" stroke="#000" stroke-width="2" stroke-linejoin="round"/>
<path d="M1600.7 476 L1582.2 485.6 L1585.8 492.4 L1604.2 482.7 Z" fill="#fff" stroke="none"/><path d="M1600.7 476 L1582.2 485.6 M1585.8 492.4 L1604.2 482.7" fill="none" stroke="#000" stroke-width="2"/><ellipse cx="1602.5" cy="479.4" rx="1.9" ry="3.8" transform="rotate(152.4 1602.5 479.4)" fill="#fff" stroke="#000" stroke-width="2"/><ellipse cx="1584" cy="489" rx="1.9" ry="3.8" transform="rotate(152.4 1584 489)" fill="#fff" stroke="#000" stroke-width="2"/><path d="M1596.1 478.4 L1602.2 483.8 M1593.4 479.8 L1599.6 485.1 M1590.7 481.2 L1596.9 486.5 M1588 482.6 L1594.2 487.9 M1585.4 484 L1591.5 489.3 M1582.7 485.4 L1588.9 490.7 " fill="none" stroke="#000" stroke-width="1.5"/><ellipse cx="1603.5" cy="478.8" rx="2.8" ry="8.8" transform="rotate(152.4 1603.5 478.8)" fill="#fff" stroke="#000" stroke-width="2"/><path d="M1600.8 475.7 L1602.3 470.4 L1607.5 472.2 L1611.2 479.3 L1609.7 484.6 L1604.5 482.8 Z" fill="#fff" stroke="#000" stroke-width="2" stroke-linejoin="round"/>
<path d="M1258.4 958.3 L1299.4 980.3 L1304.6 970.7 L1263.6 948.7 Z" fill="#fff" stroke="none"/><path d="M1258.4 958.3 L1299.4 980.3 M1304.6 970.7 L1263.6 948.7" fill="none" stroke="#000" stroke-width="2"/><ellipse cx="1261" cy="953.5" rx="2.8" ry="5.5" transform="rotate(28.2 1261 953.5)" fill="#fff" stroke="#000" stroke-width="2"/><ellipse cx="1302" cy="975.5" rx="2.8" ry="5.5" transform="rotate(28.2 1302 975.5)" fill="#fff" stroke="#000" stroke-width="2"/>
<path d="M1261.7 960.1 L1264.3 948.9 M1265.5 962.1 L1268.1 951 M1269.3 964.2 L1271.9 953.1 M1273.1 966.2 L1275.7 955.1 M1276.9 968.3 L1279.5 957.2 M1280.7 970.4 L1283.3 959.2 " fill="none" stroke="#000" stroke-width="1.6"/>
<path d="M1284.7 972.6 L1287.3 961.4 M1289.4 975.1 L1291.9 963.9 M1294.1 977.6 L1296.6 966.4 M1298.7 980.1 L1301.3 968.9 " fill="none" stroke="#000" stroke-width="1.6"/>
<path d="M1545 500 L1553 497 L1565 517 L1602 566 L1613 578 L1610 587 L1596 590 L1575 592 L1548 590 L1538 582 L1540 560 L1538 530 L1540 510 Z" fill="#fff" stroke="#000" stroke-width="2" stroke-linejoin="round" stroke-linecap="round"/>
<path d="M1552 512 L1570 530 L1600 575" class="s"/>
<ellipse cx="1563.6" cy="561" rx="18" ry="25" transform="rotate(-20 1563.6 561)" fill="#fff" stroke="#000" stroke-width="3.2"/>
<ellipse cx="1565" cy="562" rx="12" ry="18" transform="rotate(-20 1565 562)" fill="#fff" stroke="#000" stroke-width="2.2"/>
<ellipse cx="1546" cy="507" rx="3" ry="4" transform="rotate(-20 1546 507)" fill="none" stroke="#000" stroke-width="2"/>
<ellipse cx="1546" cy="580" rx="3" ry="4" transform="rotate(-20 1546 580)" fill="none" stroke="#000" stroke-width="2"/>
<ellipse cx="1606" cy="580" rx="3" ry="4" transform="rotate(-20 1606 580)" fill="none" stroke="#000" stroke-width="2"/>
<path d="M1551 518 L1558 516 L1559 523 L1552 525 Z" fill="none" stroke="#000" stroke-width="1.8" stroke-linejoin="round" stroke-linecap="round"/>
<path d="M1659 1110 C1661 1108.2 1662 1110 1668 1107 C1674 1104 1686 1096.8 1695 1092 C1704 1087.2 1716 1080.6 1722 1078 C1728 1075.4 1729.2 1075.5 1731 1076.5 C1732.8 1077.5 1732.7 1080.4 1733 1084 C1733.3 1087.6 1732.6 1092.3 1733 1098 C1733.4 1103.7 1735.7 1111 1735.5 1118 C1735.3 1125 1732.4 1133.7 1732 1140 C1731.6 1146.3 1733.8 1152.3 1733 1156 C1732.2 1159.7 1733 1158.2 1727 1162 C1721 1165.8 1707.5 1173.4 1697 1179 C1686.5 1184.6 1670.7 1193.2 1664 1195.5 C1657.3 1197.8 1658.2 1195.6 1657 1193 C1655.8 1190.4 1657.2 1186.3 1657 1180 C1656.8 1173.7 1656 1163.7 1656 1155 C1656 1146.3 1657 1134.2 1657 1128 C1657 1121.8 1655.7 1121 1656 1118 C1656.3 1115 1657 1111.8 1659 1110 Z" fill="#fff" stroke="#000" stroke-width="2.4" stroke-linejoin="round"/>
<ellipse cx="1695.3" cy="1137" rx="31" ry="42" transform="rotate(18 1695.3 1137)" fill="none" stroke="#000" stroke-width="2.4"/>
<ellipse cx="1724.4" cy="1087.5" rx="3.2" ry="4.8" transform="rotate(25 1724.4 1087.5)" fill="none" stroke="#000" stroke-width="2.2"/>
<ellipse cx="1667.3" cy="1120.2" rx="3.2" ry="4.8" transform="rotate(25 1667.3 1120.2)" fill="none" stroke="#000" stroke-width="2.2"/>
<ellipse cx="1667.3" cy="1186.9" rx="3.2" ry="4.8" transform="rotate(25 1667.3 1186.9)" fill="none" stroke="#000" stroke-width="2.2"/>
<ellipse cx="1724.4" cy="1153.6" rx="3.2" ry="4.8" transform="rotate(25 1724.4 1153.6)" fill="none" stroke="#000" stroke-width="2.2"/>
<path d="M1799.6 1251.9 L1745.4 1221.9 L1742.8 1220 L1740.7 1217.4 L1739 1214.1 L1737.9 1210.4 L1737.3 1206.1 L1737.2 1201.4 L1737.7 1196.3 L1738.7 1191 L1740.2 1185.5 L1742.2 1179.9 L1744.7 1174.4 L1747.6 1169 L1750.8 1163.8 L1754.3 1158.8 L1758.1 1154.3 L1762.1 1150.2 L1766.2 1146.7 L1770.3 1143.7 L1774.4 1141.4 L1778.4 1139.8 L1782.3 1138.8 L1785.9 1138.6 L1789.2 1139.1 L1792.2 1140.4 L1845.4 1172.1 Z" fill="#fff" stroke="none" stroke-width="0" stroke-linejoin="round" stroke-linecap="round"/><path d="M1799.6 1251.9 L1745.4 1221.9 L1742.8 1220 L1740.7 1217.4 L1739 1214.1 L1737.9 1210.4 L1737.3 1206.1 L1737.2 1201.4 L1737.7 1196.3 L1738.7 1191 L1740.2 1185.5 L1742.2 1179.9 L1744.7 1174.4 L1747.6 1169 L1750.8 1163.8 L1754.3 1158.8 L1758.1 1154.3 L1762.1 1150.2 L1766.2 1146.7 L1770.3 1143.7 L1774.4 1141.4 L1778.4 1139.8 L1782.3 1138.8 L1785.9 1138.6 L1789.2 1139.1 L1792.2 1140.4 L1845.4 1172.1" fill="none" stroke="#000" stroke-width="2" stroke-linejoin="round"/><ellipse cx="1822.5" cy="1212" rx="23.9" ry="46" transform="rotate(-150.1 1822.5 1212)" fill="#fff" stroke="#000" stroke-width="2"/>
<path d="M1761 1230.9 L1758.4 1228.9 L1756.3 1226.3 L1754.6 1223.1 L1753.5 1219.3 L1752.9 1215 L1752.8 1210.3 L1753.3 1205.3 L1754.3 1199.9 L1755.8 1194.5 L1757.8 1188.9 L1760.3 1183.4 L1763.2 1177.9 L1766.4 1172.7 L1770 1167.8 L1773.7 1163.3 L1777.7 1159.2 L1781.8 1155.6 L1785.9 1152.7 L1790 1150.4 L1794 1148.7 L1797.9 1147.8 L1801.5 1147.6 L1804.8 1148.1 L1807.8 1149.3" fill="none" stroke="#000" stroke-width="1.8"/>
<path d="M1756.6 1228.4 L1754.1 1226.4 L1751.9 1223.8 L1750.3 1220.6 L1749.2 1216.8 L1748.6 1212.5 L1748.5 1207.8 L1749 1202.8 L1750 1197.5 L1751.5 1192 L1753.5 1186.4 L1756 1180.9 L1758.8 1175.4 L1762.1 1170.2 L1765.6 1165.3 L1769.4 1160.8 L1773.4 1156.7 L1777.5 1153.1 L1781.6 1150.2 L1785.7 1147.9 L1789.7 1146.2 L1793.5 1145.3 L1797.2 1145.1 L1800.5 1145.6 L1803.4 1146.9" fill="none" stroke="#000" stroke-width="1.8"/>
<path d="M1767.9 1234.8 L1765.3 1232.9 L1763.2 1230.3 L1761.6 1227.1 L1760.4 1223.3 L1759.8 1219 L1759.8 1214.3 L1760.2 1209.2 L1761.3 1203.9 L1762.8 1198.4 L1764.8 1192.9 L1767.2 1187.3 L1770.1 1181.9 L1773.3 1176.7 L1776.9 1171.8 L1780.7 1167.2 L1784.7 1163.2 L1788.7 1159.6 L1792.9 1156.7 L1797 1154.3 L1801 1152.7 L1804.8 1151.8 L1808.4 1151.6 L1811.7 1152.1 L1814.7 1153.3" fill="none" stroke="#000" stroke-width="1.4"/>
<path d="M1767.9 1234.8 L1764.9 1240 L1744.1 1228.1 L1747.1 1222.9 Z" fill="#fff" stroke="#000" stroke-width="1.8" stroke-linejoin="round" stroke-linecap="round"/>
<path d="M1757.5 1228.9 L1754.5 1234.1" class="s"/>
<path d="M1855.4 1153.6 L1864.3 1151.8 L1870.5 1160.7 L1868.8 1175 L1871.4 1192.9 L1869.6 1216.1 L1871.4 1225 L1869.6 1241.1 L1857.1 1253.6 L1835.7 1264.3 L1814.3 1266.1 L1810.7 1276.8 L1796.4 1276.8 L1785.7 1266.1 L1788.4 1255.4 L1785.7 1225 L1789.3 1200 L1787.5 1192.9 L1794.6 1183.9 L1807.1 1178.6 L1825 1167.9 L1842.9 1158.9 Z" fill="#fff" stroke="#000" stroke-width="2.2" stroke-linejoin="round" stroke-linecap="round"/>
<ellipse cx="1833" cy="1216" rx="33" ry="45" transform="rotate(18 1833 1216)" fill="none" stroke="#000" stroke-width="1.6"/>
<ellipse cx="1836" cy="1214" rx="25" ry="35" transform="rotate(18 1836 1214)" fill="#fff" stroke="#000" stroke-width="2.4"/>
<path d="M1846.4 1185.7 Q1814.3 1196.4 1812.5 1239.3" fill="none" stroke="#000" stroke-width="3.2"/>
<path d="M1851.8 1187.5 Q1823.2 1200 1818.8 1241.1" class="s"/>
<path d="M1790.2 1200 L1788.4 1260.7" class="s"/>
<path d="M1795.5 1194.6 L1792.9 1257.1" class="s"/>
<ellipse cx="1861.6" cy="1165.2" rx="6.5" ry="8" transform="rotate(15 1861.6 1165.2)" fill="#fff" stroke="#000" stroke-width="2"/>
<ellipse cx="1861.6" cy="1165.2" rx="3" ry="4" transform="rotate(15 1861.6 1165.2)" fill="#fff" stroke="#000" stroke-width="2"/>
<ellipse cx="1804.5" cy="1199.1" rx="6.5" ry="8" transform="rotate(15 1804.5 1199.1)" fill="#fff" stroke="#000" stroke-width="2"/>
<ellipse cx="1804.5" cy="1199.1" rx="3" ry="4" transform="rotate(15 1804.5 1199.1)" fill="#fff" stroke="#000" stroke-width="2"/>
<ellipse cx="1861.6" cy="1231.2" rx="6.5" ry="8" transform="rotate(15 1861.6 1231.2)" fill="#fff" stroke="#000" stroke-width="2"/>
<ellipse cx="1861.6" cy="1231.2" rx="3" ry="4" transform="rotate(15 1861.6 1231.2)" fill="#fff" stroke="#000" stroke-width="2"/>
<ellipse cx="1803.6" cy="1266.1" rx="6.5" ry="8" transform="rotate(15 1803.6 1266.1)" fill="#fff" stroke="#000" stroke-width="2"/>
<ellipse cx="1803.6" cy="1266.1" rx="3" ry="4" transform="rotate(15 1803.6 1266.1)" fill="#fff" stroke="#000" stroke-width="2"/>
<path d="M353.9 1017.9 L349.2 1038.1 L333.7 1044.4 L316.3 1033.1 L307.3 1010.9 L312 990.7 L327.5 984.4 L344.9 995.7 Z" fill="#fff" stroke="#000" stroke-width="2.2" stroke-linejoin="round" stroke-linecap="round"/><path d="M350.6 1017.4 L346.6 1034.8 L333.2 1040.2 L318.3 1030.5 L310.6 1011.4 L314.6 994 L328 988.6 L342.9 998.3 Z" fill="none" stroke="#000" stroke-width="1.4" stroke-linejoin="round" stroke-linecap="round"/><ellipse cx="330.6" cy="1014.4" rx="14.5" ry="21.9" transform="rotate(-22 330.6 1014.4)" fill="#fff" stroke="#000" stroke-width="2.6"/><circle cx="353" cy="1017.8" r="2" fill="#000"/><circle cx="348.5" cy="1037.2" r="2" fill="#000"/><circle cx="333.5" cy="1043.2" r="2" fill="#000"/><circle cx="316.9" cy="1032.4" r="2" fill="#000"/><circle cx="308.2" cy="1011" r="2" fill="#000"/><circle cx="312.7" cy="991.6" r="2" fill="#000"/><circle cx="327.7" cy="985.6" r="2" fill="#000"/><circle cx="344.3" cy="996.4" r="2" fill="#000"/>
<path d="M465.9 952 L460.7 971.9 L444.5 978.5 L426.9 967.7 L418.1 946 L423.3 926.1 L439.5 919.5 L457.1 930.3 Z" fill="#fff" stroke="#000" stroke-width="2.2" stroke-linejoin="round" stroke-linecap="round"/><path d="M462.5 951.6 L458 968.7 L444.2 974.3 L429 965.1 L421.5 946.4 L426 929.3 L439.8 923.7 L455 932.9 Z" fill="none" stroke="#000" stroke-width="1.4" stroke-linejoin="round" stroke-linecap="round"/><ellipse cx="442" cy="949" rx="15" ry="21.4" transform="rotate(-22 442 949)" fill="#fff" stroke="#000" stroke-width="2.6"/><circle cx="464.9" cy="951.9" r="2" fill="#000"/><circle cx="459.9" cy="971" r="2" fill="#000"/><circle cx="444.4" cy="977.3" r="2" fill="#000"/><circle cx="427.5" cy="967" r="2" fill="#000"/><circle cx="419.1" cy="946.1" r="2" fill="#000"/><circle cx="424.1" cy="927" r="2" fill="#000"/><circle cx="439.6" cy="920.7" r="2" fill="#000"/><circle cx="456.5" cy="931" r="2" fill="#000"/>
<ellipse cx="381.9" cy="983.5" rx="21.9" ry="30.6" transform="rotate(-22 381.9 983.5)" fill="#fff" stroke="#000" stroke-width="2"/>
<ellipse cx="381" cy="984" rx="8.6" ry="11.8" transform="rotate(-22 381 984)" fill="#fff" stroke="#000" stroke-width="3.2"/>
<ellipse cx="660" cy="826" rx="19" ry="28" transform="rotate(-22 660 826)" fill="#fff" stroke="#000" stroke-width="2"/><path d="M644.3 867.9 L672.3 851.1 L647.7 800.9 L619.7 817.7 Z" fill="#fff" stroke="none"/><path d="M644.3 867.9 L672.3 851.1 M619.7 817.7 L647.7 800.9" fill="none" stroke="#000" stroke-width="2"/><ellipse cx="632" cy="842.8" rx="19" ry="28" transform="rotate(-22 632 842.8)" fill="#fff" stroke="#000" stroke-width="2"/><path d="M647.4 838.9 L648.7 842.5 L649.8 846.1 L656.6 849.8 L657.3 854.1 L657.8 858.4 L658 862.7 L651.8 864.2 L651.5 867.6 L651 870.8 L650.2 873.9 L649.1 876.8 L647.9 879.6 L646.4 882 L644.8 884.3 L647.3 893.2 L644.9 895.2 L642.3 896.9 L639.5 898.2 L633.9 891.3 L631.4 891.8 L628.7 892 L626 891.9 L623.3 891.4 L620.5 890.6 L617.7 889.5 L614.9 888.2 L610.7 893.4 L607.5 891.1 L604.5 888.5 L601.5 885.5 L602.1 877.2 L599.8 874.3 L597.8 871.2 L595.9 867.9 L594.1 864.6 L592.6 861.1 L591.3 857.5 L590.2 853.9 L583.4 850.2 L582.7 845.9 L582.2 841.6 L582 837.3 L588.2 835.8 L588.5 832.4 L589 829.2 L589.8 826.1 L590.9 823.2 L592.1 820.4 L593.6 818 L595.2 815.7 L592.7 806.8 L595.1 804.8 L597.7 803.1 L600.5 801.8 L606.1 808.7 L608.6 808.2 L611.3 808 L614 808.1 L616.7 808.6 L619.5 809.4 L622.3 810.5 L625.1 811.8 L629.3 806.6 L632.5 808.9 L635.5 811.5 L638.5 814.5 L637.9 822.8 L640.2 825.7 L642.2 828.8 L644.1 832.1 L645.9 835.4 Z" fill="#fff" stroke="#000" stroke-width="2" stroke-linejoin="round" stroke-linecap="round"/><ellipse cx="654.6" cy="855.8" rx="2.6" ry="3.6" transform="rotate(-22 654.6 855.8)" fill="none" stroke="#000" stroke-width="1.8"/><ellipse cx="641.7" cy="892.4" rx="2.6" ry="3.6" transform="rotate(-22 641.7 892.4)" fill="none" stroke="#000" stroke-width="1.8"/><ellipse cx="607.1" cy="886.6" rx="2.6" ry="3.6" transform="rotate(-22 607.1 886.6)" fill="none" stroke="#000" stroke-width="1.8"/><ellipse cx="585.4" cy="844.2" rx="2.6" ry="3.6" transform="rotate(-22 585.4 844.2)" fill="none" stroke="#000" stroke-width="1.8"/><ellipse cx="598.3" cy="807.6" rx="2.6" ry="3.6" transform="rotate(-22 598.3 807.6)" fill="none" stroke="#000" stroke-width="1.8"/><ellipse cx="632.9" cy="813.4" rx="2.6" ry="3.6" transform="rotate(-22 632.9 813.4)" fill="none" stroke="#000" stroke-width="1.8"/><ellipse cx="620" cy="850" rx="25.3" ry="37.5" transform="rotate(-22 620 850)" fill="none" stroke="#000" stroke-width="1.8"/><ellipse cx="622" cy="849" rx="21.1" ry="31.2" transform="rotate(-22 622 849)" fill="none" stroke="#000" stroke-width="2.2"/><ellipse cx="623" cy="848" rx="15.8" ry="23.4" transform="rotate(-22 623 848)" fill="none" stroke="#000" stroke-width="1.6"/><ellipse cx="624" cy="848" rx="10.6" ry="17.2" transform="rotate(-22 624 848)" fill="#fff" stroke="#000" stroke-width="3"/>
<path d="M703.6 842.9 L686 853.8 L690 860.2 L707.6 849.3 Z" fill="#fff" stroke="none"/><path d="M703.6 842.9 L686 853.8 M690 860.2 L707.6 849.3" fill="none" stroke="#000" stroke-width="2"/><ellipse cx="705.6" cy="846.1" rx="1.9" ry="3.8" transform="rotate(148.2 705.6 846.1)" fill="#fff" stroke="#000" stroke-width="2"/><ellipse cx="688" cy="857" rx="1.9" ry="3.8" transform="rotate(148.2 688 857)" fill="#fff" stroke="#000" stroke-width="2"/><path d="M699.2 845.6 L705.7 850.5 M696.6 847.2 L703.2 852.1 M694.1 848.8 L700.6 853.7 M691.5 850.3 L698.1 855.2 M689 851.9 L695.5 856.8 M686.4 853.5 L693 858.4 " fill="none" stroke="#000" stroke-width="1.5"/><ellipse cx="706.6" cy="845.5" rx="2.8" ry="8.8" transform="rotate(148.2 706.6 845.5)" fill="#fff" stroke="#000" stroke-width="2"/><path d="M703.7 842.6 L704.8 837.2 L710.1 838.6 L714.3 845.4 L713.2 850.8 L707.9 849.4 Z" fill="#fff" stroke="#000" stroke-width="2" stroke-linejoin="round"/>
<path d="M1245.3 1323 L1240.6 1343.1 L1225 1349.4 L1207.6 1338.3 L1198.7 1316.2 L1203.4 1296.1 L1219 1289.8 L1236.4 1300.9 Z" fill="#fff" stroke="#000" stroke-width="2.2" stroke-linejoin="round" stroke-linecap="round"/><path d="M1242 1322.5 L1238 1339.8 L1224.5 1345.2 L1209.6 1335.6 L1202 1316.7 L1206 1299.4 L1219.5 1294 L1234.4 1303.6 Z" fill="none" stroke="#000" stroke-width="1.4" stroke-linejoin="round" stroke-linecap="round"/><ellipse cx="1222" cy="1319.6" rx="14.5" ry="21.8" transform="rotate(-22 1222 1319.6)" fill="#fff" stroke="#000" stroke-width="2.6"/><circle cx="1244.4" cy="1322.9" r="2" fill="#000"/><circle cx="1239.8" cy="1342.2" r="2" fill="#000"/><circle cx="1224.8" cy="1348.2" r="2" fill="#000"/><circle cx="1208.2" cy="1337.5" r="2" fill="#000"/><circle cx="1199.6" cy="1316.3" r="2" fill="#000"/><circle cx="1204.2" cy="1297" r="2" fill="#000"/><circle cx="1219.2" cy="1291" r="2" fill="#000"/><circle cx="1235.8" cy="1301.7" r="2" fill="#000"/>
<path d="M1143.9 1381.5 L1138.9 1400.7 L1123.5 1407 L1106.6 1396.6 L1098.1 1375.7 L1103.1 1356.5 L1118.5 1350.2 L1135.4 1360.6 Z" fill="#fff" stroke="#000" stroke-width="2.2" stroke-linejoin="round" stroke-linecap="round"/><path d="M1140.7 1381.1 L1136.4 1397.6 L1123.1 1403 L1108.6 1394.1 L1101.3 1376.1 L1105.6 1359.6 L1118.9 1354.2 L1133.4 1363.1 Z" fill="none" stroke="#000" stroke-width="1.4" stroke-linejoin="round" stroke-linecap="round"/><ellipse cx="1121" cy="1378.6" rx="14.4" ry="20.6" transform="rotate(-22 1121 1378.6)" fill="#fff" stroke="#000" stroke-width="2.6"/><circle cx="1143" cy="1381.4" r="2" fill="#000"/><circle cx="1138.2" cy="1399.8" r="2" fill="#000"/><circle cx="1123.4" cy="1405.8" r="2" fill="#000"/><circle cx="1107.2" cy="1395.9" r="2" fill="#000"/><circle cx="1099" cy="1375.8" r="2" fill="#000"/><circle cx="1103.8" cy="1357.4" r="2" fill="#000"/><circle cx="1118.6" cy="1351.4" r="2" fill="#000"/><circle cx="1134.8" cy="1361.3" r="2" fill="#000"/>
<ellipse cx="1170.7" cy="1352" rx="17.5" ry="28" transform="rotate(-22 1170.7 1352)" fill="#fff" stroke="#000" stroke-width="2"/>
<ellipse cx="1171" cy="1351" rx="6.5" ry="10" transform="rotate(-22 1171 1351)" fill="#fff" stroke="#000" stroke-width="3.2"/>
<path d="M969.1 1470.7 L970.4 1474.2 L971.5 1477.9 L978.5 1481.3 L979.2 1485.7 L979.6 1490 L979.7 1494.3 L973.1 1495.9 L972.7 1499.4 L972 1502.7 L971 1505.8 L969.9 1508.8 L968.5 1511.5 L966.9 1514.1 L965 1516.4 L967.5 1525.2 L964.8 1527.3 L962 1529.1 L959.1 1530.5 L953.3 1523.7 L950.6 1524.3 L947.8 1524.6 L944.9 1524.5 L942 1524.1 L939.1 1523.4 L936.2 1522.4 L933.3 1521.1 L928.6 1526.5 L925.3 1524.2 L922.1 1521.7 L919.1 1518.8 L919.9 1510.4 L917.6 1507.5 L915.5 1504.5 L913.6 1501.3 L911.8 1497.9 L910.3 1494.4 L909 1490.9 L907.9 1487.3 L900.9 1483.8 L900.2 1479.5 L899.8 1475.1 L899.7 1470.8 L906.3 1469.2 L906.7 1465.8 L907.4 1462.5 L908.3 1459.3 L909.5 1456.4 L910.9 1453.6 L912.5 1451.1 L914.3 1448.8 L911.9 1439.9 L914.5 1437.8 L917.3 1436 L920.3 1434.6 L926 1441.4 L928.8 1440.8 L931.6 1440.6 L934.4 1440.7 L937.4 1441 L940.3 1441.7 L943.2 1442.8 L946.1 1444.1 L950.7 1438.7 L954 1440.9 L957.2 1443.5 L960.3 1446.3 L959.4 1454.8 L961.7 1457.6 L963.9 1460.7 L965.8 1463.9 L967.5 1467.2 Z" fill="#fff" stroke="#000" stroke-width="2.2" stroke-linejoin="round" stroke-linecap="round"/>
<ellipse cx="976.2" cy="1487.4" rx="3.2" ry="4.4" transform="rotate(-22 976.2 1487.4)" fill="none" stroke="#000" stroke-width="2"/>
<ellipse cx="970.7" cy="1486.7" rx="4.5" ry="6" transform="rotate(-22 970.7 1486.7)" fill="none" stroke="#000" stroke-width="3.5"/>
<ellipse cx="961.6" cy="1524.6" rx="3.2" ry="4.4" transform="rotate(-22 961.6 1524.6)" fill="none" stroke="#000" stroke-width="2"/>
<ellipse cx="958.2" cy="1518.2" rx="4.5" ry="6" transform="rotate(-22 958.2 1518.2)" fill="none" stroke="#000" stroke-width="3.5"/>
<ellipse cx="925" cy="1519.7" rx="3.2" ry="4.4" transform="rotate(-22 925 1519.7)" fill="none" stroke="#000" stroke-width="2"/>
<ellipse cx="927.2" cy="1514.1" rx="4.5" ry="6" transform="rotate(-22 927.2 1514.1)" fill="none" stroke="#000" stroke-width="3.5"/>
<ellipse cx="903.1" cy="1477.7" rx="3.2" ry="4.4" transform="rotate(-22 903.1 1477.7)" fill="none" stroke="#000" stroke-width="2"/>
<ellipse cx="908.7" cy="1478.4" rx="4.5" ry="6" transform="rotate(-22 908.7 1478.4)" fill="none" stroke="#000" stroke-width="3.5"/>
<ellipse cx="917.8" cy="1440.5" rx="3.2" ry="4.4" transform="rotate(-22 917.8 1440.5)" fill="none" stroke="#000" stroke-width="2"/>
<ellipse cx="921.1" cy="1446.9" rx="4.5" ry="6" transform="rotate(-22 921.1 1446.9)" fill="none" stroke="#000" stroke-width="3.5"/>
<ellipse cx="954.4" cy="1445.4" rx="3.2" ry="4.4" transform="rotate(-22 954.4 1445.4)" fill="none" stroke="#000" stroke-width="2"/>
<ellipse cx="952.1" cy="1451" rx="4.5" ry="6" transform="rotate(-22 952.1 1451)" fill="none" stroke="#000" stroke-width="3.5"/>
<path d="M894.5 1484.3 L927.7 1461.8 L929.2 1461.2 L930.8 1460.9 L932.6 1461.1 L934.5 1461.6 L936.5 1462.4 L938.6 1463.6 L940.7 1465.2 L942.7 1467 L944.7 1469.1 L946.6 1471.4 L948.4 1473.9 L950.1 1476.6 L951.6 1479.4 L952.8 1482.2 L953.9 1485 L954.7 1487.8 L955.2 1490.5 L955.5 1493.1 L955.5 1495.4 L955.2 1497.6 L954.7 1499.5 L953.9 1501.1 L952.9 1502.4 L951.6 1503.4 L915.5 1520.7 Z" fill="#fff" stroke="none" stroke-width="0" stroke-linejoin="round" stroke-linecap="round"/><path d="M894.5 1484.3 L927.7 1461.8 L929.2 1461.2 L930.8 1460.9 L932.6 1461.1 L934.5 1461.6 L936.5 1462.4 L938.6 1463.6 L940.7 1465.2 L942.7 1467 L944.7 1469.1 L946.6 1471.4 L948.4 1473.9 L950.1 1476.6 L951.6 1479.4 L952.8 1482.2 L953.9 1485 L954.7 1487.8 L955.2 1490.5 L955.5 1493.1 L955.5 1495.4 L955.2 1497.6 L954.7 1499.5 L953.9 1501.1 L952.9 1502.4 L951.6 1503.4 L915.5 1520.7" fill="none" stroke="#000" stroke-width="2" stroke-linejoin="round"/><ellipse cx="905" cy="1502.5" rx="10.5" ry="21" transform="rotate(-29.9 905 1502.5)" fill="#fff" stroke="#000" stroke-width="2"/>
<path d="M904.9 1478.3 L906.2 1477.8 L907.7 1477.6 L909.2 1477.7 L910.9 1478.1 L912.6 1478.9 L914.4 1479.9 L916.3 1481.3 L918.1 1482.9 L919.8 1484.7 L921.5 1486.8 L923.1 1489 L924.5 1491.3 L925.8 1493.7 L926.9 1496.2 L927.8 1498.7 L928.5 1501.1 L929 1503.5 L929.2 1505.7 L929.2 1507.8 L929 1509.7 L928.6 1511.3 L927.9 1512.8 L927 1513.9 L925.9 1514.7" fill="none" stroke="#000" stroke-width="3.2"/>
<path d="M919.5 1467.6 L920.9 1467 L922.5 1466.8 L924.2 1466.9 L926.1 1467.4 L928 1468.2 L930 1469.4 L931.9 1470.9 L933.9 1472.6 L935.8 1474.6 L937.7 1476.9 L939.4 1479.3 L941 1481.8 L942.4 1484.5 L943.6 1487.2 L944.6 1489.9 L945.4 1492.6 L945.9 1495.1 L946.2 1497.6 L946.2 1499.9 L945.9 1502 L945.4 1503.8 L944.7 1505.3 L943.7 1506.6 L942.5 1507.5" fill="none" stroke="#000" stroke-width="1.6"/>
<ellipse cx="905" cy="1502.5" rx="10.5" ry="21" transform="rotate(-29.9 905 1502.5)" fill="#fff" stroke="#000" stroke-width="2.2"/>
<ellipse cx="905" cy="1502.5" rx="8.5" ry="17" transform="rotate(-29.9 905 1502.5)" fill="#fff" stroke="#000" stroke-width="1.6"/>
<ellipse cx="905.9" cy="1502" rx="5.5" ry="11" transform="rotate(-30 905.9 1502)" fill="#fff" stroke="#000" stroke-width="2"/>
<path d="M898.8 1495.7 L904 1492.7" class="s"/>
<path d="M901.8 1500.9 L907 1497.9" class="s"/>
<path d="M904.8 1506.1 L910 1503.1" class="s"/>
<path d="M907.8 1511.3 L913 1508.3" class="s"/>
<path d="M903.5 1561.4 L924.1 1547.7 L919.1 1540.3 L898.6 1553.9 Z" fill="#fff" stroke="none"/><path d="M903.5 1561.4 L924.1 1547.7 M919.1 1540.3 L898.6 1553.9" fill="none" stroke="#000" stroke-width="2"/><ellipse cx="901" cy="1557.6" rx="2.2" ry="4.5" transform="rotate(-33.6 901 1557.6)" fill="#fff" stroke="#000" stroke-width="2"/><ellipse cx="921.6" cy="1544" rx="2.2" ry="4.5" transform="rotate(-33.6 921.6 1544)" fill="#fff" stroke="#000" stroke-width="2"/><path d="M908.4 1558.2 L900.9 1552.3 M910.9 1556.5 L903.5 1550.6 M913.5 1554.8 L906 1548.9 M916 1553.1 L908.6 1547.3 M918.6 1551.4 L911.1 1545.6 M921.1 1549.7 L913.6 1543.9 M923.7 1548 L916.2 1542.2 " fill="none" stroke="#000" stroke-width="1.5"/><ellipse cx="900" cy="1558.4" rx="3" ry="9.4" transform="rotate(-33.6 900 1558.4)" fill="#fff" stroke="#000" stroke-width="2"/><path d="M903.2 1561.3 L902.2 1567.1 L896.5 1565.8 L891.8 1558.7 L892.8 1552.9 L898.5 1554.2 Z" fill="#fff" stroke="#000" stroke-width="2" stroke-linejoin="round"/>
<path d="M773.9 1629.1 L797.9 1617.6 L794.1 1609.4 L770.1 1620.9 Z" fill="#fff" stroke="none"/><path d="M773.9 1629.1 L797.9 1617.6 M794.1 1609.4 L770.1 1620.9" fill="none" stroke="#000" stroke-width="1.8"/><ellipse cx="772" cy="1625" rx="2.2" ry="4.5" transform="rotate(-25.6 772 1625)" fill="#fff" stroke="#000" stroke-width="1.8"/><ellipse cx="796" cy="1613.5" rx="2.2" ry="4.5" transform="rotate(-25.6 796 1613.5)" fill="#fff" stroke="#000" stroke-width="1.8"/>
<path d="M542.6 1143.8 L564.1 1131.4 L560.9 1125.8 L539.4 1138.2 Z" fill="#fff" stroke="none"/><path d="M542.6 1143.8 L564.1 1131.4 M560.9 1125.8 L539.4 1138.2" fill="none" stroke="#000" stroke-width="1.6"/><ellipse cx="541" cy="1141" rx="1.6" ry="3.2" transform="rotate(-30 541 1141)" fill="#fff" stroke="#000" stroke-width="1.6"/><ellipse cx="562.5" cy="1128.6" rx="1.6" ry="3.2" transform="rotate(-30 562.5 1128.6)" fill="#fff" stroke="#000" stroke-width="1.6"/>
<path d="M545.9 1142 L540.1 1138 M548.9 1140.3 L543.1 1136.2 M551.9 1138.5 L546.1 1134.5 M554.9 1136.8 L549.1 1132.7 M557.9 1135 L552.1 1131 M560.9 1133.3 L555.1 1129.2 M563.9 1131.5 L558.1 1127.5 " fill="none" stroke="#000" stroke-width="1.2"/>
<ellipse cx="459" cy="1154" rx="7.8" ry="10.8" transform="rotate(-22 459 1154)" fill="#fff" stroke="#000" stroke-width="2.4"/>
<ellipse cx="459" cy="1154" rx="3.6" ry="6" transform="rotate(-22 459 1154)" fill="none" stroke="#000" stroke-width="1.6"/>
<ellipse cx="786.5" cy="1342.5" rx="7.8" ry="10.8" transform="rotate(-22 786.5 1342.5)" fill="#fff" stroke="#000" stroke-width="2.4"/>
<ellipse cx="786.5" cy="1342.5" rx="3.6" ry="6" transform="rotate(-22 786.5 1342.5)" fill="none" stroke="#000" stroke-width="1.6"/>
<path d="M498.2 1162.7 L514.8 1155 L592.9 1201.1 L576.2 1207.5" class="s"/>
<path d="M478.4 1174.8 L566.7 1223.9 L573 1212.6 L484.7 1163.4 Z" fill="#fff" stroke="none"/><path d="M478.4 1174.8 L566.7 1223.9 M573 1212.6 L484.7 1163.4" fill="none" stroke="#000" stroke-width="2"/><ellipse cx="481.5" cy="1169.1" rx="3.2" ry="6.5" transform="rotate(29.1 481.5 1169.1)" fill="#fff" stroke="#000" stroke-width="2"/><ellipse cx="569.8" cy="1218.2" rx="3.2" ry="6.5" transform="rotate(29.1 569.8 1218.2)" fill="#fff" stroke="#000" stroke-width="2"/>
<path d="M513.5 1176.8 L511 1187" class="s"/>
<path d="M534 1188.3 L531.4 1198.5" class="s"/>
<path d="M516.1 1176.8 L514.8 1187" class="h"/>
<path d="M537.1 1189.6 L535.3 1200.3" class="h"/>
<ellipse cx="615.4" cy="1247.9" rx="18.4" ry="25" transform="rotate(-22 615.4 1247.9)" fill="#fff" stroke="#000" stroke-width="1.6"/><path d="M632.8 1240.1 L637.5 1241.9 L638.3 1245.2 L634.7 1248 L634.8 1250.6 L638.7 1255 L638.1 1258.1 L633.4 1257.9 L632.4 1259.9 L634.4 1265.7 L632.6 1267.6 L628.1 1264.5 L626.3 1265.5 L625.8 1271.1 L623.3 1271.4 L620.2 1266.2 L618.1 1265.7 L615.3 1269.7 L612.7 1268.3 L611.8 1262.4 L609.9 1260.7 L605.6 1262 L603.6 1259.2 L605.2 1254.2 L604 1251.7 L599.3 1249.9 L598.5 1246.6 L602.1 1243.8 L602 1241.2 L598.1 1236.8 L598.7 1233.7 L603.4 1233.9 L604.4 1231.9 L602.4 1226.1 L604.2 1224.2 L608.7 1227.3 L610.5 1226.3 L611 1220.7 L613.5 1220.4 L616.6 1225.6 L618.7 1226.1 L621.5 1222.1 L624.1 1223.5 L625 1229.4 L626.9 1231.1 L631.2 1229.8 L633.2 1232.6 L631.6 1237.6 Z" fill="#fff" stroke="#000" stroke-width="1.6" stroke-linejoin="round" stroke-linecap="round"/><path d="M637.4 1243.6 L629.2 1244.6 M637.8 1256.2 L629.4 1251.8 M633.1 1266.1 L626.7 1257.3 M624.4 1270.5 L621.8 1259.9 M614.1 1268.4 L616 1258.6 M605 1260.2 L610.8 1254 M599.4 1248.2 L607.6 1247.2 M599 1235.6 L607.4 1240 M603.7 1225.7 L610.1 1234.5 M612.4 1221.3 L615 1231.9 M622.7 1223.4 L620.8 1233.2 M631.8 1231.6 L626 1237.8 " fill="none" stroke="#000" stroke-width="1.8"/><ellipse cx="618.4" cy="1245.9" rx="10.7" ry="14.5" transform="rotate(-22 618.4 1245.9)" fill="#fff" stroke="#000" stroke-width="1.6"/><ellipse cx="618.4" cy="1245.9" rx="5.8" ry="7.9" transform="rotate(-22 618.4 1245.9)" fill="#fff" stroke="#000" stroke-width="2.2"/>
<ellipse cx="711.7" cy="1242.8" rx="30.2" ry="37.5" transform="rotate(-22 711.7 1242.8)" fill="#fff" stroke="#000" stroke-width="1.8"/><path d="M741.1 1230.5 L746.3 1231.8 L747.2 1234.8 L743.3 1238.2 L743.8 1240.8 L748.6 1243.8 L748.7 1246.8 L744 1248.5 L743.7 1251 L747.7 1255.5 L747 1258.3 L741.8 1258.1 L740.9 1260.2 L743.7 1265.8 L742.3 1268 L737.2 1266 L735.6 1267.6 L737 1273.6 L734.9 1275.1 L730.4 1271.4 L728.4 1272.3 L728.1 1278.2 L725.7 1278.8 L722.1 1273.8 L720 1273.9 L718.1 1279.2 L715.5 1278.8 L713.3 1273 L711.1 1272.3 L707.8 1276.4 L705.3 1275.1 L704.7 1269 L702.7 1267.6 L698.3 1270.1 L696.1 1268 L697.1 1262.3 L695.5 1260.3 L690.5 1260.9 L688.9 1258.3 L691.4 1253.5 L690.3 1251.1 L685.1 1249.8 L684.2 1246.8 L688.1 1243.4 L687.6 1240.8 L682.8 1237.8 L682.7 1234.8 L687.4 1233.1 L687.7 1230.6 L683.7 1226.1 L684.4 1223.3 L689.6 1223.5 L690.5 1221.4 L687.7 1215.8 L689.1 1213.6 L694.2 1215.6 L695.8 1214 L694.4 1208 L696.5 1206.5 L701 1210.2 L703 1209.3 L703.3 1203.4 L705.7 1202.8 L709.3 1207.8 L711.4 1207.7 L713.3 1202.4 L715.9 1202.8 L718.1 1208.6 L720.3 1209.3 L723.6 1205.2 L726.1 1206.5 L726.7 1212.6 L728.7 1214 L733.1 1211.5 L735.3 1213.6 L734.3 1219.3 L735.9 1221.3 L740.9 1220.7 L742.5 1223.3 L740 1228.1 Z" fill="#fff" stroke="#000" stroke-width="1.8" stroke-linejoin="round" stroke-linecap="round"/><path d="M745.8 1233.5 L732.8 1236.7 M747.7 1245.2 L733.8 1243.3 M746.5 1256.4 L733.1 1249.7 M742.2 1266.1 L730.7 1255.2 M735.4 1273.4 L726.8 1259.3 M726.6 1277.4 L721.9 1261.6 M716.7 1277.9 L716.3 1261.8 M706.8 1274.7 L710.7 1260 M697.7 1268.2 L705.5 1256.4 M690.4 1259.1 L701.4 1251.2 M685.6 1248.1 L698.6 1244.9 M683.7 1236.4 L697.6 1238.3 M684.9 1225.2 L698.3 1231.9 M689.2 1215.5 L700.7 1226.4 M696 1208.2 L704.6 1222.3 M704.8 1204.2 L709.5 1220 M714.7 1203.7 L715.1 1219.8 M724.6 1206.9 L720.7 1221.6 M733.7 1213.4 L725.9 1225.2 M741 1222.5 L730 1230.4 " fill="none" stroke="#000" stroke-width="1.8"/><ellipse cx="715.7" cy="1240.8" rx="17.5" ry="21.7" transform="rotate(-22 715.7 1240.8)" fill="#fff" stroke="#000" stroke-width="1.8"/><path d="M726.3 1236.5 L724.9 1239.8 L727.6 1242.7 L725 1244.7 L726.5 1248.4 L723.2 1248.8 L723.3 1252.7 L720 1251.3 L718.5 1254.6 L715.9 1251.8 L713.2 1253.8 L711.7 1250.1 L708.4 1250.4 L708.4 1246.5 L705.1 1245.1 L706.5 1241.8 L703.8 1238.9 L706.4 1236.9 L704.9 1233.2 L708.2 1232.8 L708.1 1228.9 L711.4 1230.3 L712.9 1227 L715.5 1229.8 L718.2 1227.8 L719.7 1231.5 L723 1231.2 L723 1235.1 Z" fill="#fff" stroke="#000" stroke-width="1.6" stroke-linejoin="round" stroke-linecap="round"/>
<ellipse cx="738.2" cy="1314" rx="18.6" ry="26.6" transform="rotate(-22 738.2 1314)" fill="#fff" stroke="#000" stroke-width="1.6"/><path d="M750.8 1309.1 L755.6 1311.1 L756.5 1314.6 L752.9 1317.5 L753 1320.3 L757 1325 L756.5 1328.2 L751.7 1327.9 L750.7 1330.1 L752.9 1336.2 L751 1338.2 L746.4 1334.8 L744.6 1335.8 L744.2 1341.7 L741.6 1342 L738.4 1336.5 L736.2 1335.9 L733.5 1340.1 L730.8 1338.6 L729.8 1332.3 L727.8 1330.5 L723.4 1331.7 L721.3 1328.8 L722.9 1323.5 L721.6 1320.9 L716.8 1318.9 L715.9 1315.4 L719.5 1312.5 L719.4 1309.7 L715.4 1305 L715.9 1301.8 L720.7 1302.1 L721.7 1299.9 L719.5 1293.8 L721.4 1291.8 L726 1295.2 L727.8 1294.2 L728.2 1288.3 L730.8 1288 L734 1293.5 L736.2 1294.1 L738.9 1289.9 L741.6 1291.4 L742.6 1297.7 L744.6 1299.5 L749 1298.3 L751.1 1301.2 L749.5 1306.5 Z" fill="#fff" stroke="#000" stroke-width="1.6" stroke-linejoin="round" stroke-linecap="round"/><path d="M755.5 1312.9 L747.1 1313.8 M756.2 1326.3 L747.5 1321.4 M751.5 1336.6 L744.9 1327.2 M742.7 1341.1 L739.9 1329.8 M732.2 1338.6 L733.9 1328.4 M722.8 1329.9 L728.6 1323.4 M716.9 1317.1 L725.3 1316.2 M716.2 1303.7 L724.9 1308.6 M720.9 1293.4 L727.5 1302.8 M729.7 1288.9 L732.5 1300.2 M740.2 1291.4 L738.5 1301.6 M749.6 1300.1 L743.8 1306.6 " fill="none" stroke="#000" stroke-width="1.8"/><ellipse cx="736.2" cy="1315" rx="10.8" ry="15.4" transform="rotate(-22 736.2 1315)" fill="#fff" stroke="#000" stroke-width="1.6"/><ellipse cx="736.2" cy="1315" rx="5.9" ry="8.4" transform="rotate(-22 736.2 1315)" fill="#fff" stroke="#000" stroke-width="2.2"/>
<path d="M615.2 1301.6 L619.4 1303.2 L620.3 1306 L617.5 1309.2 L618 1311.7 L621.8 1314.7 L622 1317.6 L618.4 1319.3 L618.2 1321.7 L621.3 1325.9 L620.8 1328.5 L616.6 1328.6 L615.8 1330.7 L618 1335.6 L616.7 1337.7 L612.5 1336.2 L611.2 1337.8 L612.1 1343 L610.3 1344.3 L606.4 1341.4 L604.6 1342.2 L604.2 1347.2 L602 1347.7 L598.8 1343.5 L596.8 1343.6 L595.1 1347.8 L592.8 1347.4 L590.6 1342.5 L588.6 1341.7 L585.8 1344.9 L583.5 1343.6 L582.5 1338.4 L580.6 1336.9 L577 1338.6 L575 1336.6 L575.4 1331.6 L573.8 1329.6 L569.7 1329.6 L568.2 1327.1 L569.9 1322.8 L568.8 1320.4 L564.6 1318.8 L563.7 1316 L566.5 1312.8 L566 1310.3 L562.2 1307.3 L562 1304.4 L565.6 1302.7 L565.8 1300.3 L562.7 1296.1 L563.2 1293.5 L567.4 1293.4 L568.2 1291.3 L566 1286.4 L567.3 1284.3 L571.5 1285.8 L572.8 1284.2 L571.9 1279 L573.7 1277.7 L577.6 1280.6 L579.4 1279.8 L579.8 1274.8 L582 1274.3 L585.2 1278.5 L587.2 1278.4 L588.9 1274.2 L591.2 1274.6 L593.4 1279.5 L595.4 1280.3 L598.2 1277.1 L600.5 1278.4 L601.5 1283.6 L603.4 1285.1 L607 1283.4 L609 1285.4 L608.6 1290.4 L610.2 1292.4 L614.3 1292.4 L615.8 1294.9 L614.1 1299.2 Z" fill="#fff" stroke="#000" stroke-width="1.6" stroke-linejoin="round" stroke-linecap="round"/><path d="M619 1304.8 L609.3 1307 M621 1316 L610.6 1314.2 M620.2 1326.7 L610 1321.1 M616.6 1335.9 L607.7 1326.9 M610.6 1342.7 L603.9 1331.3 M602.8 1346.3 L598.9 1333.6 M593.9 1346.5 L593.2 1333.7 M584.8 1343.3 L587.4 1331.6 M576.5 1336.8 L582.1 1327.5 M569.6 1327.8 L577.7 1321.8 M565 1317.2 L574.7 1315 M563 1306 L573.4 1307.8 M563.8 1295.3 L574 1300.9 M567.4 1286.1 L576.3 1295.1 M573.4 1279.3 L580.1 1290.7 M581.2 1275.7 L585.1 1288.4 M590.1 1275.5 L590.8 1288.3 M599.2 1278.7 L596.6 1290.4 M607.5 1285.2 L601.9 1294.5 M614.4 1294.2 L606.3 1300.2 " fill="none" stroke="#000" stroke-width="1.8"/><ellipse cx="592" cy="1311" rx="17.6" ry="23.7" transform="rotate(-22 592 1311)" fill="#fff" stroke="#000" stroke-width="1.6"/><ellipse cx="592" cy="1311" rx="11.4" ry="15.3" transform="rotate(-22 592 1311)" fill="#fff" stroke="#000" stroke-width="2.2"/>
<ellipse cx="585.2" cy="1314.5" rx="25.9" ry="36.1" transform="rotate(-22 585.2 1314.5)" fill="#fff" stroke="#000" stroke-width="2"/>
<ellipse cx="585.2" cy="1314.5" rx="23.6" ry="32.9" transform="rotate(-22 585.2 1314.5)" fill="none" stroke="#000" stroke-width="1.3"/>
<path d="M593.5 1308.4 L592.2 1312.1 L595 1315.5 L592.4 1317.8 L594 1322.1 L590.5 1322.5 L590.6 1326.9 L587 1325.4 L585.5 1328.9 L582.5 1325.8 L579.7 1327.8 L577.9 1323.6 L574.3 1323.8 L574.1 1319.4 L570.5 1317.6 L571.8 1313.9 L569 1310.5 L571.6 1308.2 L570 1303.9 L573.5 1303.5 L573.4 1299.1 L577 1300.6 L578.5 1297.1 L581.5 1300.2 L584.3 1298.2 L586.1 1302.4 L589.7 1302.2 L589.9 1306.6 Z" fill="#fff" stroke="#000" stroke-width="1.6" stroke-linejoin="round" stroke-linecap="round"/>
<path d="M790.8 1152.4 L857.7 1118.5 L860.4 1117.5 L863.4 1117.1 L866.7 1117.4 L870.2 1118.5 L873.8 1120.1 L877.5 1122.4 L881.2 1125.3 L884.9 1128.8 L888.5 1132.7 L891.9 1137.1 L895.1 1141.8 L898 1146.7 L900.5 1151.9 L902.7 1157.1 L904.5 1162.4 L905.9 1167.5 L906.7 1172.5 L907.1 1177.2 L907 1181.5 L906.4 1185.5 L905.4 1189 L903.8 1191.9 L901.9 1194.2 L899.6 1195.9 L834.5 1233.3 Z" fill="#fff" stroke="none" stroke-width="0" stroke-linejoin="round" stroke-linecap="round"/><path d="M790.8 1152.4 L857.7 1118.5 L860.4 1117.5 L863.4 1117.1 L866.7 1117.4 L870.2 1118.5 L873.8 1120.1 L877.5 1122.4 L881.2 1125.3 L884.9 1128.8 L888.5 1132.7 L891.9 1137.1 L895.1 1141.8 L898 1146.7 L900.5 1151.9 L902.7 1157.1 L904.5 1162.4 L905.9 1167.5 L906.7 1172.5 L907.1 1177.2 L907 1181.5 L906.4 1185.5 L905.4 1189 L903.8 1191.9 L901.9 1194.2 L899.6 1195.9 L834.5 1233.3" fill="none" stroke="#000" stroke-width="2" stroke-linejoin="round"/><ellipse cx="812.7" cy="1192.9" rx="23" ry="46" transform="rotate(-28.4 812.7 1192.9)" fill="#fff" stroke="#000" stroke-width="2"/>
<path d="M853 1193.8 L888.1 1174.8 L899.6 1195.9 L864.4 1214.9 Z" fill="#fff" stroke="#000" stroke-width="1.8" stroke-linejoin="round" stroke-linecap="round"/>
<path d="M822.5 1137.5 L857.7 1118.5 L864.4 1130.8 L829.2 1149.8 Z" fill="#fff" stroke="#000" stroke-width="1.8" stroke-linejoin="round" stroke-linecap="round"/>
<path d="M844 1166.8 L874.8 1150.2 L882.4 1164.2 L851.6 1180.9 Z" fill="#fff" stroke="#000" stroke-width="1.8" stroke-linejoin="round" stroke-linecap="round"/>
<path d="M821.6 1135.8 L824.4 1134.7 L827.5 1134.3 L831 1134.7 L834.6 1135.7 L838.4 1137.5 L842.3 1139.9 L846.2 1142.9 L850 1146.5 L853.8 1150.6 L857.3 1155.2 L860.6 1160.1 L863.7 1165.3 L866.4 1170.7 L868.6 1176.1 L870.5 1181.6 L871.9 1187 L872.8 1192.2 L873.2 1197.1 L873.1 1201.7 L872.5 1205.8 L871.4 1209.4 L869.8 1212.5 L867.8 1214.9 L865.3 1216.7" fill="none" stroke="#000" stroke-width="1.8"/>
<path d="M852.1 1223.8 L808.4 1142.9" class="h"/>
<path d="M870.9 1195.5 L886.6 1182.5" class="s"/>
<ellipse cx="795.1" cy="1202.4" rx="47" ry="60" transform="rotate(-22 795.1 1202.4)" fill="#fff" stroke="#000" stroke-width="2.2"/>
<ellipse cx="801.1" cy="1200.4" rx="27" ry="37" transform="rotate(-22 801.1 1200.4)" fill="#fff" stroke="#000" stroke-width="2"/>
<ellipse cx="805.1" cy="1197.4" rx="20" ry="30" transform="rotate(-22 805.1 1197.4)" fill="none" stroke="#000" stroke-width="1.6"/>
<ellipse cx="809.1" cy="1195.4" rx="16" ry="25" transform="rotate(-22 809.1 1195.4)" fill="none" stroke="#000" stroke-width="1.6"/>
<ellipse cx="831.2" cy="1187.8" rx="2.6" ry="3.8" transform="rotate(-22 831.2 1187.8)" fill="none" stroke="#000" stroke-width="2"/>
<circle cx="835.9" cy="1213.4" r="2.4" fill="#000"/>
<ellipse cx="829.7" cy="1236" rx="2.6" ry="3.8" transform="rotate(-22 829.7 1236)" fill="none" stroke="#000" stroke-width="2"/>
<circle cx="814.2" cy="1249.7" r="2.4" fill="#000"/>
<ellipse cx="793.5" cy="1250.6" rx="2.6" ry="3.8" transform="rotate(-22 793.5 1250.6)" fill="none" stroke="#000" stroke-width="2"/>
<circle cx="773.3" cy="1238.7" r="2.4" fill="#000"/>
<ellipse cx="758.9" cy="1217" rx="2.6" ry="3.8" transform="rotate(-22 758.9 1217)" fill="none" stroke="#000" stroke-width="2"/>
<circle cx="754.2" cy="1191.4" r="2.4" fill="#000"/>
<ellipse cx="760.4" cy="1168.7" rx="2.6" ry="3.8" transform="rotate(-22 760.4 1168.7)" fill="none" stroke="#000" stroke-width="2"/>
<circle cx="776" cy="1155.1" r="2.4" fill="#000"/>
<ellipse cx="796.6" cy="1154.1" rx="2.6" ry="3.8" transform="rotate(-22 796.6 1154.1)" fill="none" stroke="#000" stroke-width="2"/>
<circle cx="816.8" cy="1166.1" r="2.4" fill="#000"/>
<ellipse cx="593" cy="1682" rx="67" ry="89" transform="rotate(-18 593 1682)" fill="#fff" stroke="#000" stroke-width="2"/>
<path d="M656.7 1661.3 L648.3 1664.8 M659.1 1669.7 L650.7 1673.2 M660.9 1678.2 L652.5 1681.7 M662 1686.8 L653.6 1690.3 M662.4 1695.3 L654 1698.8 M662.2 1703.6 L653.8 1707.1 M661.3 1711.8 L652.9 1715.3 M659.7 1719.7 L651.3 1723.2 M657.5 1727.2 L649.1 1730.7 M654.7 1734.3 L646.3 1737.8 M651.3 1740.9 L642.9 1744.4 M647.3 1746.9 L638.9 1750.4 M642.8 1752.3 L634.4 1755.8 M637.8 1757 L629.4 1760.5 M632.4 1761 L624 1764.5 M626.6 1764.2 L618.2 1767.7 M620.5 1766.6 L612.1 1770.1 M614.1 1768.3 L605.7 1771.8 M607.5 1769.1 L599.1 1772.6 M600.8 1769 L592.4 1772.5 M594 1768.1 L585.6 1771.6 M587.2 1766.4 L578.8 1769.9 M580.5 1763.9 L572.1 1767.4 M573.8 1760.6 L565.4 1764.1 M567.4 1756.5 L559 1760 M561.2 1751.7 L552.8 1755.2 M555.3 1746.2 L546.9 1749.7 M549.8 1740.2 L541.4 1743.7 M544.7 1733.5 L536.3 1737 M540 1726.4 L531.6 1729.9 M535.9 1718.8 L527.5 1722.3 M532.3 1710.9 L523.9 1714.4 M529.3 1702.7 L520.9 1706.2 M526.9 1694.3 L518.5 1697.8 M525.1 1685.8 L516.7 1689.3 M524 1677.2 L515.6 1680.7 M523.6 1668.7 L515.2 1672.2 M523.8 1660.4 L515.4 1663.9 M524.7 1652.2 L516.3 1655.7 M526.3 1644.3 L517.9 1647.8 M528.5 1636.8 L520.1 1640.3 M531.3 1629.7 L522.9 1633.2 M534.7 1623.1 L526.3 1626.6 M538.7 1617.1 L530.3 1620.6 M543.2 1611.7 L534.8 1615.2 M548.2 1607 L539.8 1610.5 M553.6 1603 L545.2 1606.5 M559.4 1599.8 L551 1603.3 M565.5 1597.4 L557.1 1600.9 M571.9 1595.7 L563.5 1599.2 M578.5 1594.9 L570.1 1598.4 M585.2 1595 L576.8 1598.5 M592 1595.9 L583.6 1599.4 M598.8 1597.6 L590.4 1601.1 M605.5 1600.1 L597.1 1603.6 M612.2 1603.4 L603.8 1606.9 M618.6 1607.5 L610.2 1611 M624.8 1612.3 L616.4 1615.8 M630.7 1617.8 L622.3 1621.3 M636.2 1623.8 L627.8 1627.3 M641.3 1630.5 L632.9 1634 M646 1637.6 L637.6 1641.1 M650.1 1645.2 L641.7 1648.7 M653.7 1653.1 L645.3 1656.6 " fill="none" stroke="#000" stroke-width="2.2"/>
<ellipse cx="588.2" cy="1684" rx="66" ry="88" transform="rotate(-18 588.2 1684)" fill="none" stroke="#000" stroke-width="1.6"/>
<ellipse cx="581" cy="1687" rx="64" ry="86" transform="rotate(-18 581 1687)" fill="#fff" stroke="#000" stroke-width="2.2"/>
<ellipse cx="582" cy="1687" rx="61" ry="83" transform="rotate(-18 582 1687)" fill="none" stroke="#000" stroke-width="1.2"/>
<path d="M601.6 1675.7 L602.8 1680.2 L603.6 1684.9 L603.9 1689.5 L603.7 1694 L603.1 1698.3 L598.3 1699.8 L596.9 1703 L595.2 1705.9 L593.2 1708.5 L590.9 1710.6 L588.3 1712.3 L587.2 1718.4 L583.7 1719.1 L580.2 1719.3 L576.5 1718.9 L572.9 1717.9 L569.3 1716.3 L567.3 1709.9 L564.4 1707.6 L561.8 1704.9 L559.4 1701.8 L557.3 1698.5 L555.5 1694.9 L550.4 1692.3 L549.2 1687.8 L548.4 1683.1 L548.1 1678.5 L548.3 1674 L548.9 1669.7 L553.7 1668.2 L555.1 1665 L556.8 1662.1 L558.8 1659.5 L561.1 1657.4 L563.7 1655.7 L564.8 1649.6 L568.3 1648.9 L571.8 1648.7 L575.5 1649.1 L579.1 1650.1 L582.7 1651.7 L584.7 1658.1 L587.6 1660.4 L590.2 1663.1 L592.6 1666.2 L594.7 1669.5 L596.5 1673.1 Z" fill="#fff" stroke="#000" stroke-width="1.8" stroke-linejoin="round" stroke-linecap="round"/>
<path d="M562.7 1708.7 L572.7 1705.7 L574.7 1715.7 L564.7 1719.7 Z" fill="#fff" stroke="#000" stroke-width="1.8" stroke-linejoin="round" stroke-linecap="round"/>
<path d="M544.5 1674.9 L554.5 1671.9 L556.5 1681.9 L546.5 1685.9 Z" fill="#fff" stroke="#000" stroke-width="1.8" stroke-linejoin="round" stroke-linecap="round"/>
<path d="M594.5 1699.7 L604.5 1696.7 L606.5 1706.7 L596.5 1710.7 Z" fill="#fff" stroke="#000" stroke-width="1.8" stroke-linejoin="round" stroke-linecap="round"/>
<ellipse cx="617.3" cy="1683.1" rx="3.2" ry="5" transform="rotate(-18 617.3 1683.1)" fill="#fff" stroke="#000" stroke-width="1.8"/>
<ellipse cx="606" cy="1727.8" rx="3.2" ry="5" transform="rotate(-18 606 1727.8)" fill="#fff" stroke="#000" stroke-width="1.8"/>
<ellipse cx="568.1" cy="1733.2" rx="3.2" ry="5" transform="rotate(-18 568.1 1733.2)" fill="#fff" stroke="#000" stroke-width="1.8"/>
<ellipse cx="537.1" cy="1689.1" rx="3.2" ry="5" transform="rotate(-18 537.1 1689.1)" fill="#fff" stroke="#000" stroke-width="1.8"/>
<ellipse cx="544.1" cy="1646.8" rx="3.2" ry="5" transform="rotate(-18 544.1 1646.8)" fill="#fff" stroke="#000" stroke-width="1.8"/>
<ellipse cx="580.1" cy="1634.5" rx="3.2" ry="5" transform="rotate(-18 580.1 1634.5)" fill="#fff" stroke="#000" stroke-width="1.8"/>
<path d="M573 1685 L585 1681" class="s"/>
<path d="M795.3 1781.7 L879.3 1832.7 L888.7 1817.3 L804.7 1766.3 Z" fill="#fff" stroke="none"/><path d="M795.3 1781.7 L879.3 1832.7 M888.7 1817.3 L804.7 1766.3" fill="none" stroke="#000" stroke-width="2"/><ellipse cx="800" cy="1774" rx="4" ry="9" transform="rotate(31.3 800 1774)" fill="#fff" stroke="#000" stroke-width="2"/><ellipse cx="884" cy="1825" rx="4" ry="9" transform="rotate(31.3 884 1825)" fill="#fff" stroke="#000" stroke-width="2"/>
<path d="M808 1766 L802 1779" class="s"/>
<path d="M816 1771 L810 1784" class="s"/>
<path d="M828 1778 L822 1791" class="s"/>
<path d="M839.6 1788 L830.4 1804 M843.1 1790.1 L833.9 1806.1 M846.5 1792.2 L837.3 1808.2 M850 1794.2 L840.8 1810.2 M853.4 1796.3 L844.2 1812.3 M856.9 1798.4 L847.7 1814.4 M860.4 1800.5 L851.2 1816.5 M863.8 1802.5 L854.6 1818.5 M867.3 1804.6 L858.1 1820.6 M870.8 1806.7 L861.6 1822.7 M874.2 1808.8 L865 1824.8 M877.7 1810.8 L868.5 1826.8 M881.1 1812.9 L871.9 1828.9 M884.6 1815 L875.4 1831 " fill="none" stroke="#000" stroke-width="2.4"/>
<ellipse cx="884" cy="1825" rx="4.2" ry="9" transform="rotate(31 884 1825)" fill="#fff" stroke="#000" stroke-width="2"/>
<circle cx="884.5" cy="1825" r="1.8" fill="#000"/>
<path d="M757.1 1768.1 L769 1746.7 L781 1744.3 L795.2 1751.4 L809.5 1750.2 L811.9 1761 L804.8 1770.5 L795.2 1789.5 L788.1 1796.7 L778.6 1799 L769 1789.5 L758.3 1780 Z" fill="#fff" stroke="#000" stroke-width="2" stroke-linejoin="round" stroke-linecap="round"/>
<path d="M761.9 1756.2 L778.6 1794.3" class="s"/>
<path d="M766.7 1751.4 L783.3 1789.5" class="s"/>
<path d="M771.4 1747.9 L788.1 1784.8" class="s"/>
<path d="M776.2 1746.7 L792.9 1780" class="s"/>
<path d="M785.7 1749 L800 1770.5" class="s"/>
<path d="M759.5 1765.7 L778.6 1794.3" fill="none" stroke="#000" stroke-width="3.5" stroke-linejoin="round" stroke-linecap="round"/>
<path d="M378.7 1753.7 L414.5 1734.7 L410.5 1727.3 L374.8 1746.3 Z" fill="#fff" stroke="none"/><path d="M378.7 1753.7 L414.5 1734.7 M410.5 1727.3 L374.8 1746.3" fill="none" stroke="#000" stroke-width="2"/><ellipse cx="376.8" cy="1750" rx="2.1" ry="4.2" transform="rotate(-28 376.8 1750)" fill="#fff" stroke="#000" stroke-width="2"/><ellipse cx="412.5" cy="1731" rx="2.1" ry="4.2" transform="rotate(-28 412.5 1731)" fill="#fff" stroke="#000" stroke-width="2"/><path d="M386 1749.9 L379.4 1743.9 M389.5 1748 L382.9 1742 M393 1746.1 L386.4 1740.1 M396.5 1744.3 L389.9 1738.3 M400 1742.4 L393.4 1736.4 M403.5 1740.5 L396.9 1734.5 M407 1738.7 L400.4 1732.7 M410.5 1736.8 L403.9 1730.8 M414 1734.9 L407.4 1728.9 " fill="none" stroke="#000" stroke-width="1.5"/><ellipse cx="375.6" cy="1750.6" rx="3" ry="9.4" transform="rotate(-28 375.6 1750.6)" fill="#fff" stroke="#000" stroke-width="2"/><path d="M378.6 1753.9 L377 1759.5 L371.4 1757.7 L367.4 1750.1 L369 1744.5 L374.6 1746.3 Z" fill="#fff" stroke="#000" stroke-width="2" stroke-linejoin="round"/>
<path d="M813.3 1991.4 L831.7 1992.7 L884.1 2016.3 L918.1 2056.9 L936.4 2101.4 L941.7 2156.4 L928.6 2190.5 L884.1 2208.8 L831.7 2182.6 L795 2140.7 L774 2077.9 L779.3 2025.5 Z" fill="#fff" stroke="#000" stroke-width="2" stroke-linejoin="round" stroke-linecap="round"/>
<path d="M839.5 2001.9 Q903.7 2015 932.5 2097.5" fill="none" stroke="#000" stroke-width="4.5"/>
<path d="M933.8 2123.7 Q940.4 2156.4 932.5 2176.1" fill="none" stroke="#000" stroke-width="3.5"/>
<ellipse cx="819.9" cy="1998.6" rx="8" ry="9.5" transform="rotate(-20 819.9 1998.6)" fill="#fff" stroke="#000" stroke-width="2.2"/>
<ellipse cx="819.9" cy="1998.6" rx="5.5" ry="7" transform="rotate(-20 819.9 1998.6)" fill="none" stroke="#000" stroke-width="1.4"/>
<ellipse cx="772.7" cy="2024.2" rx="8" ry="9.5" transform="rotate(-20 772.7 2024.2)" fill="#fff" stroke="#000" stroke-width="2.2"/>
<ellipse cx="772.7" cy="2024.2" rx="5.5" ry="7" transform="rotate(-20 772.7 2024.2)" fill="none" stroke="#000" stroke-width="1.4"/>
<ellipse cx="883.4" cy="2034.6" rx="8" ry="9.5" transform="rotate(-20 883.4 2034.6)" fill="#fff" stroke="#000" stroke-width="2.2"/>
<ellipse cx="883.4" cy="2034.6" rx="5.5" ry="7" transform="rotate(-20 883.4 2034.6)" fill="none" stroke="#000" stroke-width="1.4"/>
<ellipse cx="772.7" cy="2097.5" rx="8" ry="9.5" transform="rotate(-20 772.7 2097.5)" fill="#fff" stroke="#000" stroke-width="2.2"/>
<ellipse cx="772.7" cy="2097.5" rx="5.5" ry="7" transform="rotate(-20 772.7 2097.5)" fill="none" stroke="#000" stroke-width="1.4"/>
<ellipse cx="922.7" cy="2110.6" rx="8" ry="9.5" transform="rotate(-20 922.7 2110.6)" fill="#fff" stroke="#000" stroke-width="2.2"/>
<ellipse cx="922.7" cy="2110.6" rx="5.5" ry="7" transform="rotate(-20 922.7 2110.6)" fill="none" stroke="#000" stroke-width="1.4"/>
<ellipse cx="819.9" cy="2175.4" rx="8" ry="9.5" transform="rotate(-20 819.9 2175.4)" fill="#fff" stroke="#000" stroke-width="2.2"/>
<ellipse cx="819.9" cy="2175.4" rx="5.5" ry="7" transform="rotate(-20 819.9 2175.4)" fill="none" stroke="#000" stroke-width="1.4"/>
<ellipse cx="922.7" cy="2186.6" rx="8" ry="9.5" transform="rotate(-20 922.7 2186.6)" fill="#fff" stroke="#000" stroke-width="2.2"/>
<ellipse cx="922.7" cy="2186.6" rx="5.5" ry="7" transform="rotate(-20 922.7 2186.6)" fill="none" stroke="#000" stroke-width="1.4"/>
<ellipse cx="882.7" cy="2212.1" rx="8" ry="9.5" transform="rotate(-20 882.7 2212.1)" fill="#fff" stroke="#000" stroke-width="2.2"/>
<ellipse cx="882.7" cy="2212.1" rx="5.5" ry="7" transform="rotate(-20 882.7 2212.1)" fill="none" stroke="#000" stroke-width="1.4"/>
<ellipse cx="851" cy="2103" rx="71" ry="94" transform="rotate(-20 851 2103)" fill="#fff" stroke="#000" stroke-width="2.2"/>
<ellipse cx="851" cy="2103" rx="66" ry="89" transform="rotate(-20 851 2103)" fill="none" stroke="#000" stroke-width="1.4"/>
<ellipse cx="819.9" cy="1998.6" rx="2.8" ry="3.8" transform="rotate(-20 819.9 1998.6)" fill="none" stroke="#000" stroke-width="2"/>
<ellipse cx="772.7" cy="2024.2" rx="2.8" ry="3.8" transform="rotate(-20 772.7 2024.2)" fill="none" stroke="#000" stroke-width="2"/>
<ellipse cx="883.4" cy="2034.6" rx="2.8" ry="3.8" transform="rotate(-20 883.4 2034.6)" fill="none" stroke="#000" stroke-width="2"/>
<ellipse cx="772.7" cy="2097.5" rx="2.8" ry="3.8" transform="rotate(-20 772.7 2097.5)" fill="none" stroke="#000" stroke-width="2"/>
<ellipse cx="922.7" cy="2110.6" rx="2.8" ry="3.8" transform="rotate(-20 922.7 2110.6)" fill="none" stroke="#000" stroke-width="2"/>
<ellipse cx="819.9" cy="2175.4" rx="2.8" ry="3.8" transform="rotate(-20 819.9 2175.4)" fill="none" stroke="#000" stroke-width="2"/>
<ellipse cx="922.7" cy="2186.6" rx="2.8" ry="3.8" transform="rotate(-20 922.7 2186.6)" fill="none" stroke="#000" stroke-width="2"/>
<ellipse cx="882.7" cy="2212.1" rx="2.8" ry="3.8" transform="rotate(-20 882.7 2212.1)" fill="none" stroke="#000" stroke-width="2"/>
<path d="M851 2021.6 A61.1 80.8 -20 0 1 893 2171.3" class="s"/>
<path d="M851.5 2028.9 A55.4 73.3 -20 0 1 889.6 2164.7" class="s"/>
<path d="M851.9 2036.2 A49.7 65.8 -20 0 1 886.1 2158" class="s"/>
<path d="M852.4 2043.5 A44 58.3 -20 0 1 882.7 2151.4" class="s"/>
<path d="M852.9 2050.8 A38.3 50.8 -20 0 1 879.2 2144.8" class="s"/>
<path d="M836 2114 L877.5 2041.2" fill="none" stroke="#000" stroke-width="2.6" stroke-linejoin="round" stroke-linecap="round"/>
<path d="M839 2112.5 L880.5 2039.7" fill="none" stroke="#000" stroke-width="1.8" stroke-linejoin="round" stroke-linecap="round"/>
<path d="M836 2114 L914.2 2110.6" fill="none" stroke="#000" stroke-width="2.6" stroke-linejoin="round" stroke-linecap="round"/>
<path d="M839 2112.5 L917.2 2109.1" fill="none" stroke="#000" stroke-width="1.8" stroke-linejoin="round" stroke-linecap="round"/>
<path d="M836 2114 L916.8 2176.1" fill="none" stroke="#000" stroke-width="2.6" stroke-linejoin="round" stroke-linecap="round"/>
<path d="M839 2112.5 L919.8 2174.6" fill="none" stroke="#000" stroke-width="1.8" stroke-linejoin="round" stroke-linecap="round"/>
<path d="M836 2114 L785.8 2034.6" fill="none" stroke="#000" stroke-width="2.6" stroke-linejoin="round" stroke-linecap="round"/>
<path d="M839 2112.5 L788.8 2033.1" fill="none" stroke="#000" stroke-width="1.8" stroke-linejoin="round" stroke-linecap="round"/>
<path d="M836 2114 L825.1 2012.4" fill="none" stroke="#000" stroke-width="2.6" stroke-linejoin="round" stroke-linecap="round"/>
<path d="M839 2112.5 L828.1 2010.9" fill="none" stroke="#000" stroke-width="1.8" stroke-linejoin="round" stroke-linecap="round"/>
<path d="M836 2114 L881.4 2208.8" fill="none" stroke="#000" stroke-width="2.6" stroke-linejoin="round" stroke-linecap="round"/>
<path d="M839 2112.5 L884.4 2207.3" fill="none" stroke="#000" stroke-width="1.8" stroke-linejoin="round" stroke-linecap="round"/>
<path d="M836 2114 L818.6 2169.5" fill="none" stroke="#000" stroke-width="2.6" stroke-linejoin="round" stroke-linecap="round"/>
<path d="M839 2112.5 L821.6 2168" fill="none" stroke="#000" stroke-width="1.8" stroke-linejoin="round" stroke-linecap="round"/>
<ellipse cx="836.4" cy="2116.5" rx="23" ry="30.5" transform="rotate(-20 836.4 2116.5)" fill="#fff" stroke="#000" stroke-width="2"/>
<ellipse cx="836.4" cy="2116.5" rx="19" ry="26.5" transform="rotate(-20 836.4 2116.5)" fill="#fff" stroke="#000" stroke-width="5"/>
<ellipse cx="840" cy="2114" rx="12" ry="19" transform="rotate(-20 840 2114)" fill="#fff" stroke="#000" stroke-width="2.2"/>
<ellipse cx="842" cy="2113" rx="8" ry="14" transform="rotate(-20 842 2113)" fill="none" stroke="#000" stroke-width="1.6"/>
<ellipse cx="844" cy="2112" rx="5" ry="10" transform="rotate(-20 844 2112)" fill="none" stroke="#000" stroke-width="1.4"/>
<path d="M813.3 2059.5 L818.6 2054.3 L823.8 2064.8 L818.6 2071.3 Z" fill="#fff" stroke="#000" stroke-width="1.8" stroke-linejoin="round" stroke-linecap="round"/>
<path d="M860.5 2148.6 L869.6 2146 L871 2151.2 L861.8 2153.8 Z" fill="#fff" stroke="#000" stroke-width="1.8" stroke-linejoin="round" stroke-linecap="round"/>
<path d="M688.8 2016.2 L718.7 1999.7 L714.7 1992.3 L684.7 2008.9 Z" fill="#fff" stroke="none"/><path d="M688.8 2016.2 L718.7 1999.7 M714.7 1992.3 L684.7 2008.9" fill="none" stroke="#000" stroke-width="2"/><ellipse cx="686.7" cy="2012.5" rx="2.1" ry="4.2" transform="rotate(-28.9 686.7 2012.5)" fill="#fff" stroke="#000" stroke-width="2"/><ellipse cx="716.7" cy="1996" rx="2.1" ry="4.2" transform="rotate(-28.9 716.7 1996)" fill="#fff" stroke="#000" stroke-width="2"/><path d="M695.1 2012.7 L688.4 2006.8 M698.4 2010.9 L691.7 2005 M701.7 2009.1 L695.1 2003.1 M705 2007.2 L698.4 2001.3 M708.4 2005.4 L701.7 1999.5 M711.7 2003.6 L705 1997.7 M715 2001.7 L708.3 1995.8 M718.3 1999.9 L711.6 1994 " fill="none" stroke="#000" stroke-width="1.5"/><ellipse cx="685.6" cy="2013.2" rx="3" ry="9.4" transform="rotate(-28.9 685.6 2013.2)" fill="#fff" stroke="#000" stroke-width="2"/><path d="M688.6 2016.4 L687.1 2022 L681.5 2020.3 L677.4 2012.8 L678.9 2007.2 L684.5 2008.9 Z" fill="#fff" stroke="#000" stroke-width="2" stroke-linejoin="round"/>
<path d="M684.7 2153.7 L716.6 2136.7 L712.6 2129.3 L680.8 2146.3 Z" fill="#fff" stroke="none"/><path d="M684.7 2153.7 L716.6 2136.7 M712.6 2129.3 L680.8 2146.3" fill="none" stroke="#000" stroke-width="2"/><ellipse cx="682.7" cy="2150" rx="2.1" ry="4.2" transform="rotate(-28.1 682.7 2150)" fill="#fff" stroke="#000" stroke-width="2"/><ellipse cx="714.6" cy="2133" rx="2.1" ry="4.2" transform="rotate(-28.1 714.6 2133)" fill="#fff" stroke="#000" stroke-width="2"/><path d="M691.4 2150.1 L684.8 2144.1 M694.9 2148.3 L688.3 2142.3 M698.5 2146.4 L691.9 2140.4 M702 2144.5 L695.4 2138.5 M705.5 2142.6 L698.9 2136.6 M709.1 2140.7 L702.5 2134.7 M712.6 2138.8 L706 2132.8 M716.1 2136.9 L709.5 2130.9 " fill="none" stroke="#000" stroke-width="1.5"/><ellipse cx="681.6" cy="2150.6" rx="3" ry="9.4" transform="rotate(-28.1 681.6 2150.6)" fill="#fff" stroke="#000" stroke-width="2"/><path d="M684.6 2153.8 L683 2159.5 L677.4 2157.7 L673.4 2150.2 L675 2144.5 L680.6 2146.3 Z" fill="#fff" stroke="#000" stroke-width="2" stroke-linejoin="round"/>
<path d="M838.7 2270.7 L875 2251.7 L871 2244.3 L834.8 2263.3 Z" fill="#fff" stroke="none"/><path d="M838.7 2270.7 L875 2251.7 M871 2244.3 L834.8 2263.3" fill="none" stroke="#000" stroke-width="2"/><ellipse cx="836.8" cy="2267" rx="2.1" ry="4.2" transform="rotate(-27.7 836.8 2267)" fill="#fff" stroke="#000" stroke-width="2"/><ellipse cx="873" cy="2248" rx="2.1" ry="4.2" transform="rotate(-27.7 873 2248)" fill="#fff" stroke="#000" stroke-width="2"/><path d="M846 2266.9 L839.5 2260.9 M849.6 2265 L843 2259 M853.2 2263.2 L846.6 2257.1 M856.7 2261.3 L850.2 2255.2 M860.3 2259.4 L853.7 2253.4 M863.8 2257.6 L857.3 2251.5 M867.4 2255.7 L860.8 2249.6 M871 2253.8 L864.4 2247.8 M874.5 2252 L867.9 2245.9 " fill="none" stroke="#000" stroke-width="1.5"/><ellipse cx="835.6" cy="2267.6" rx="3" ry="9.4" transform="rotate(-27.7 835.6 2267.6)" fill="#fff" stroke="#000" stroke-width="2"/><path d="M838.6 2270.9 L837 2276.5 L831.4 2274.6 L827.4 2267.1 L829 2261.5 L834.6 2263.4 Z" fill="#fff" stroke="#000" stroke-width="2" stroke-linejoin="round"/>
<path d="M754.3 2218.4 L783.3 2203.4 L778.7 2194.6 L749.7 2209.6 Z" fill="#fff" stroke="none"/><path d="M754.3 2218.4 L783.3 2203.4 M778.7 2194.6 L749.7 2209.6" fill="none" stroke="#000" stroke-width="2"/><ellipse cx="752" cy="2214" rx="2.5" ry="5" transform="rotate(-27.3 752 2214)" fill="#fff" stroke="#000" stroke-width="2"/><ellipse cx="781" cy="2199" rx="2.5" ry="5" transform="rotate(-27.3 781 2199)" fill="#fff" stroke="#000" stroke-width="2"/>
<path d="M760.6 2215.2 L753.4 2207.8 M764.3 2213.3 L757 2205.8 M768 2211.4 L760.7 2203.9 M771.6 2209.5 L764.4 2202 M775.3 2207.6 L768 2200.1 M779 2205.7 L771.7 2198.2 M782.6 2203.7 L775.4 2196.3 " fill="none" stroke="#000" stroke-width="1.5"/>
<ellipse cx="749.5" cy="2216.5" rx="6" ry="8" transform="rotate(-28 749.5 2216.5)" fill="#fff" stroke="#000" stroke-width="2"/>
<path d="M427 2283 L433 2281 L445 2297 L478 2338 L494 2354 L494 2362 L480 2366 L450 2370 L428 2372 L421 2362 L422 2330 L418 2300 L421 2290 Z" fill="#fff" stroke="#000" stroke-width="2" stroke-linejoin="round" stroke-linecap="round"/>
<ellipse cx="442.5" cy="2335" rx="21" ry="31" transform="rotate(-20 442.5 2335)" fill="#fff" stroke="#000" stroke-width="2"/>
<ellipse cx="444" cy="2334" rx="16" ry="25" transform="rotate(-20 444 2334)" fill="#fff" stroke="#000" stroke-width="3"/>
<ellipse cx="446" cy="2333" rx="11" ry="19" transform="rotate(-20 446 2333)" fill="#fff" stroke="#000" stroke-width="2"/>
<ellipse cx="427" cy="2290" rx="2.8" ry="3.8" transform="rotate(-20 427 2290)" fill="none" stroke="#000" stroke-width="2"/>
<ellipse cx="425" cy="2364" rx="2.8" ry="3.8" transform="rotate(-20 425 2364)" fill="none" stroke="#000" stroke-width="2"/>
<ellipse cx="487" cy="2360" rx="2.8" ry="3.8" transform="rotate(-20 487 2360)" fill="none" stroke="#000" stroke-width="2"/>
<path d="M378.8 2322.5 L396.7 2312.8 L393.3 2306.4 L375.4 2316.2 Z" fill="#fff" stroke="none"/><path d="M378.8 2322.5 L396.7 2312.8 M393.3 2306.4 L375.4 2316.2" fill="none" stroke="#000" stroke-width="2"/><ellipse cx="377.1" cy="2319.3" rx="1.8" ry="3.6" transform="rotate(-28.5 377.1 2319.3)" fill="#fff" stroke="#000" stroke-width="2"/><ellipse cx="395" cy="2309.6" rx="1.8" ry="3.6" transform="rotate(-28.5 395 2309.6)" fill="#fff" stroke="#000" stroke-width="2"/><path d="M383.3 2320.1 L377.2 2315.2 M386.5 2318.3 L380.4 2313.4 M389.8 2316.5 L383.7 2311.6 M393 2314.8 L387 2309.9 M396.3 2313 L390.2 2308.1 " fill="none" stroke="#000" stroke-width="1.5"/><ellipse cx="376.2" cy="2319.8" rx="2.4" ry="7.7" transform="rotate(-28.5 376.2 2319.8)" fill="#fff" stroke="#000" stroke-width="2"/><path d="M378.6 2322.5 L377.3 2327.2 L372.7 2325.7 L369.4 2319.5 L370.7 2314.8 L375.3 2316.3 Z" fill="#fff" stroke="#000" stroke-width="2" stroke-linejoin="round"/>
<path d="M1913.9 1597.3 L1939.6 1583.8 L1940 1583.6 L1940.6 1583.6 L1941.2 1583.7 L1941.8 1583.9 L1942.5 1584.3 L1943.2 1584.7 L1943.9 1585.4 L1944.7 1586.1 L1945.4 1586.9 L1946.1 1587.8 L1946.7 1588.7 L1947.3 1589.7 L1947.9 1590.8 L1948.4 1591.8 L1948.8 1592.8 L1949.1 1593.9 L1949.4 1594.9 L1949.5 1595.8 L1949.6 1596.6 L1949.6 1597.4 L1949.4 1598.1 L1949.2 1598.7 L1948.9 1599.1 L1948.5 1599.4 L1923.9 1614.7 Z" fill="#fff" stroke="none" stroke-width="0" stroke-linejoin="round" stroke-linecap="round"/><path d="M1913.9 1597.3 L1939.6 1583.8 L1940 1583.6 L1940.6 1583.6 L1941.2 1583.7 L1941.8 1583.9 L1942.5 1584.3 L1943.2 1584.7 L1943.9 1585.4 L1944.7 1586.1 L1945.4 1586.9 L1946.1 1587.8 L1946.7 1588.7 L1947.3 1589.7 L1947.9 1590.8 L1948.4 1591.8 L1948.8 1592.8 L1949.1 1593.9 L1949.4 1594.9 L1949.5 1595.8 L1949.6 1596.6 L1949.6 1597.4 L1949.4 1598.1 L1949.2 1598.7 L1948.9 1599.1 L1948.5 1599.4 L1923.9 1614.7" fill="none" stroke="#000" stroke-width="2" stroke-linejoin="round"/><ellipse cx="1918.9" cy="1606" rx="4.2" ry="10" transform="rotate(-29.8 1918.9 1606)" fill="#fff" stroke="#000" stroke-width="2"/>
<path d="M1927.8 1612.5 L1915.2 1596.6 M1930.5 1610.9 L1917.9 1595 M1933.2 1609.3 L1920.6 1593.5 M1935.9 1607.8 L1923.4 1591.9 M1938.6 1606.2 L1926.1 1590.4 M1941.3 1604.7 L1928.8 1588.8 M1944 1603.1 L1931.5 1587.3 M1946.8 1601.6 L1934.2 1585.7 M1949.5 1600 L1936.9 1584.2 " fill="none" stroke="#000" stroke-width="1.8"/>
<path d="M1819.6 1647.9 L1914.2 1593.7 L1914.8 1593.5 L1915.6 1593.4 L1916.5 1593.6 L1917.4 1593.9 L1918.4 1594.4 L1919.4 1595.1 L1920.5 1596 L1921.5 1597 L1922.5 1598.2 L1923.5 1599.5 L1924.5 1600.9 L1925.4 1602.3 L1926.2 1603.8 L1926.9 1605.3 L1927.5 1606.8 L1928 1608.3 L1928.3 1609.7 L1928.5 1611.1 L1928.6 1612.3 L1928.6 1613.4 L1928.4 1614.4 L1928.1 1615.2 L1927.7 1615.8 L1927.1 1616.3 L1832.5 1670.5 Z" fill="#fff" stroke="none" stroke-width="0" stroke-linejoin="round" stroke-linecap="round"/><path d="M1819.6 1647.9 L1914.2 1593.7 L1914.8 1593.5 L1915.6 1593.4 L1916.5 1593.6 L1917.4 1593.9 L1918.4 1594.4 L1919.4 1595.1 L1920.5 1596 L1921.5 1597 L1922.5 1598.2 L1923.5 1599.5 L1924.5 1600.9 L1925.4 1602.3 L1926.2 1603.8 L1926.9 1605.3 L1927.5 1606.8 L1928 1608.3 L1928.3 1609.7 L1928.5 1611.1 L1928.6 1612.3 L1928.6 1613.4 L1928.4 1614.4 L1928.1 1615.2 L1927.7 1615.8 L1927.1 1616.3 L1832.5 1670.5" fill="none" stroke="#000" stroke-width="2" stroke-linejoin="round"/><ellipse cx="1826.1" cy="1659.2" rx="5.5" ry="13" transform="rotate(-29.8 1826.1 1659.2)" fill="#fff" stroke="#000" stroke-width="2"/>
<path d="M1872.9 1647.4 L1857.3 1626.3 M1874.8 1646.3 L1859.2 1625.2 M1876.7 1645.2 L1861.2 1624.1 M1878.6 1644.1 L1863.1 1623 M1880.5 1643 L1865 1621.9 M1882.4 1641.9 L1866.9 1620.8 M1884.3 1640.8 L1868.8 1619.7 M1886.2 1639.7 L1870.7 1618.7 M1888.1 1638.6 L1872.6 1617.6 M1890 1637.5 L1874.5 1616.5 M1892 1636.4 L1876.4 1615.4 M1893.9 1635.3 L1878.3 1614.3 M1895.8 1634.2 L1880.2 1613.2 M1897.7 1633.2 L1882.2 1612.1 M1899.6 1632.1 L1884.1 1611 M1901.5 1631 L1886 1609.9 M1903.4 1629.9 L1887.9 1608.8 M1905.3 1628.8 L1889.8 1607.7 M1907.2 1627.7 L1891.7 1606.6 M1909.1 1626.6 L1893.6 1605.5 M1911 1625.5 L1895.5 1604.4 M1913 1624.4 L1897.4 1603.3 M1914.9 1623.3 L1899.3 1602.2 M1916.8 1622.2 L1901.2 1601.2 M1918.7 1621.1 L1903.1 1600.1 M1920.6 1620 L1905.1 1599 M1922.5 1618.9 L1907 1597.9 M1924.4 1617.8 L1908.9 1596.8 M1926.3 1616.7 L1910.8 1595.7 M1928.2 1615.7 L1912.7 1594.6 " fill="none" stroke="#000" stroke-width="2.0"/>
<path d="M1856.9 1626.6 L1857.6 1626.3 L1858.3 1626.2 L1859.2 1626.4 L1860.1 1626.7 L1861.1 1627.2 L1862.1 1627.9 L1863.2 1628.8 L1864.2 1629.8 L1865.3 1631 L1866.3 1632.3 L1867.2 1633.7 L1868.1 1635.1 L1868.9 1636.6 L1869.6 1638.1 L1870.2 1639.6 L1870.7 1641.1 L1871.1 1642.5 L1871.3 1643.9 L1871.4 1645.1 L1871.3 1646.2 L1871.2 1647.2 L1870.8 1648 L1870.4 1648.7 L1869.8 1649.1" fill="none" stroke="#000" stroke-width="2.2"/>
<path d="M1841.3 1635.5 L1842 1635.2 L1842.7 1635.2 L1843.6 1635.3 L1844.5 1635.7 L1845.5 1636.2 L1846.5 1636.9 L1847.6 1637.8 L1848.6 1638.8 L1849.7 1640 L1850.7 1641.2 L1851.6 1642.6 L1852.5 1644.1 L1853.3 1645.6 L1854 1647.1 L1854.6 1648.6 L1855.1 1650.1 L1855.4 1651.5 L1855.7 1652.8 L1855.8 1654.1 L1855.7 1655.2 L1855.5 1656.2 L1855.2 1657 L1854.8 1657.6 L1854.2 1658.1" fill="none" stroke="#000" stroke-width="1.6"/>
<path d="M1832.6 1640.5 L1833.3 1640.2 L1834.1 1640.2 L1834.9 1640.3 L1835.8 1640.6 L1836.8 1641.2 L1837.9 1641.9 L1838.9 1642.7 L1839.9 1643.8 L1841 1644.9 L1842 1646.2 L1842.9 1647.6 L1843.8 1649 L1844.6 1650.5 L1845.3 1652.1 L1845.9 1653.6 L1846.4 1655 L1846.8 1656.5 L1847 1657.8 L1847.1 1659.1 L1847 1660.2 L1846.9 1661.1 L1846.5 1662 L1846.1 1662.6 L1845.5 1663" fill="none" stroke="#000" stroke-width="1.6"/>
<path d="M1700.8 1748.3 L1708.5 1749.7 L1713.2 1745.8 L1724.6 1749.6 L1730.5 1743.9 L1741.9 1747.8 L1747.9 1742 L1758.3 1744.1 L1763.8 1737.6 L1773.7 1738.8 L1779.1 1732.2 L1788.6 1732.6 L1794 1726 L1802.4 1724.6 L1807.9 1718 L1815.8 1715.8 L1818.7 1710.7 L1818.7 1710.7 L1820.5 1709.3 L1821.9 1707.3 L1822.8 1704.7 L1823.4 1701.7 L1823.6 1698.1 L1823.3 1694.2 L1822.6 1690 L1821.4 1685.5 L1819.9 1680.8 L1818 1676.1 L1815.8 1671.3 L1813.2 1666.6 L1810.4 1662 L1807.4 1657.6 L1804.3 1653.6 L1801 1649.9 L1797.7 1646.7 L1794.4 1643.9 L1791.2 1641.7 L1788.1 1640 L1785.2 1639 L1782.5 1638.5 L1780 1638.7 L1777.9 1639.6 L1777.9 1639.6 L1772.1 1639.4 L1766.1 1645.1 L1757.7 1646.5 L1752.2 1653.1 L1743.8 1654.5 L1739.4 1662.8 L1730.9 1664.2 L1727 1673.4 L1718.5 1674.7 L1715.1 1684.8 L1707.1 1687 L1704.7 1698.8 L1696.7 1701 L1694.3 1712.8 L1688.6 1715 L1685.9 1722.3 Z" fill="#fff" stroke="#000" stroke-width="2.2" stroke-linejoin="round" stroke-linecap="round"/>
<path d="M1688.6 1715 L1689.6 1714.6 L1690.8 1714.5 L1692.1 1714.7 L1693.5 1715.2 L1695.1 1716 L1696.6 1717.1 L1698.2 1718.4 L1699.9 1720 L1701.4 1721.8 L1703 1723.8 L1704.4 1725.9 L1705.8 1728.1 L1707 1730.4 L1708.1 1732.8 L1709.1 1735.1 L1709.8 1737.4 L1710.3 1739.6 L1710.7 1741.6 L1710.8 1743.5 L1710.8 1745.2 L1710.5 1746.7 L1710 1748 L1709.3 1749 L1708.5 1749.7" fill="none" stroke="#000" stroke-width="3"/>
<path d="M1687 1716.6 L1688 1716.2 L1689.1 1716.1 L1690.4 1716.3 L1691.8 1716.8 L1693.3 1717.6 L1694.8 1718.6 L1696.3 1719.9 L1697.9 1721.5 L1699.4 1723.2 L1700.9 1725.1 L1702.4 1727.2 L1703.7 1729.3 L1704.9 1731.6 L1705.9 1733.8 L1706.8 1736.1 L1707.6 1738.3 L1708.1 1740.4 L1708.4 1742.4 L1708.6 1744.3 L1708.5 1745.9 L1708.2 1747.4 L1707.8 1748.6 L1707.1 1749.6 L1706.3 1750.2" fill="none" stroke="#000" stroke-width="1.4"/>
<path d="M1694.3 1712.8 L1695.3 1712.5 L1696.4 1712.4 L1697.6 1712.6 L1699 1713.1 L1700.4 1713.8 L1701.9 1714.9 L1703.5 1716.1 L1705 1717.6 L1706.5 1719.3 L1708 1721.2 L1709.4 1723.2 L1710.6 1725.4 L1711.8 1727.5 L1712.9 1729.8 L1713.7 1732 L1714.4 1734.1 L1715 1736.2 L1715.3 1738.2 L1715.4 1740 L1715.4 1741.6 L1715.1 1743 L1714.6 1744.2 L1714 1745.1 L1713.2 1745.8" fill="none" stroke="#000" stroke-width="1.6"/>
<path d="M1696.7 1701 L1698.2 1700.5 L1699.9 1700.4 L1701.7 1700.7 L1703.7 1701.4 L1705.8 1702.5 L1708 1704 L1710.3 1705.9 L1712.5 1708.1 L1714.8 1710.6 L1716.9 1713.4 L1719 1716.4 L1720.9 1719.5 L1722.6 1722.7 L1724.1 1726 L1725.4 1729.2 L1726.5 1732.4 L1727.2 1735.5 L1727.7 1738.4 L1727.9 1741.1 L1727.8 1743.5 L1727.4 1745.5 L1726.7 1747.3 L1725.8 1748.7 L1724.6 1749.6" fill="none" stroke="#000" stroke-width="3"/>
<path d="M1695.2 1702.9 L1696.7 1702.3 L1698.3 1702.2 L1700.1 1702.5 L1702 1703.2 L1704.1 1704.3 L1706.2 1705.8 L1708.4 1707.6 L1710.6 1709.7 L1712.7 1712.2 L1714.8 1714.9 L1716.8 1717.7 L1718.6 1720.8 L1720.3 1723.9 L1721.8 1727.1 L1723.1 1730.2 L1724.1 1733.3 L1724.8 1736.3 L1725.3 1739.1 L1725.5 1741.7 L1725.4 1744 L1725 1746 L1724.4 1747.7 L1723.4 1749.1 L1722.3 1750" fill="none" stroke="#000" stroke-width="1.4"/>
<path d="M1704.7 1698.8 L1706 1698.3 L1707.6 1698.2 L1709.3 1698.4 L1711.1 1699.1 L1713.1 1700.2 L1715.2 1701.6 L1717.2 1703.3 L1719.3 1705.4 L1721.4 1707.7 L1723.4 1710.3 L1725.3 1713 L1727.1 1715.9 L1728.7 1718.9 L1730.1 1722 L1731.3 1725 L1732.3 1727.9 L1733 1730.8 L1733.4 1733.5 L1733.6 1736 L1733.5 1738.2 L1733.2 1740.1 L1732.5 1741.8 L1731.7 1743 L1730.5 1743.9" fill="none" stroke="#000" stroke-width="1.6"/>
<path d="M1707.1 1687 L1709 1686.3 L1711 1686.2 L1713.3 1686.5 L1715.9 1687.4 L1718.5 1688.8 L1721.3 1690.7 L1724.1 1693.1 L1726.9 1695.9 L1729.7 1699 L1732.4 1702.5 L1734.9 1706.2 L1737.3 1710.1 L1739.5 1714.1 L1741.4 1718.2 L1743 1722.3 L1744.3 1726.2 L1745.3 1730.1 L1745.9 1733.7 L1746.1 1737 L1746 1740 L1745.5 1742.6 L1744.7 1744.8 L1743.5 1746.5 L1741.9 1747.8" fill="none" stroke="#000" stroke-width="3"/>
<path d="M1705.8 1689 L1707.5 1688.4 L1709.5 1688.2 L1711.8 1688.6 L1714.2 1689.4 L1716.8 1690.8 L1719.4 1692.6 L1722.2 1694.9 L1724.9 1697.6 L1727.6 1700.7 L1730.2 1704 L1732.7 1707.6 L1735 1711.4 L1737.1 1715.3 L1739 1719.3 L1740.5 1723.2 L1741.8 1727.1 L1742.7 1730.8 L1743.3 1734.3 L1743.6 1737.5 L1743.4 1740.4 L1743 1743 L1742.1 1745.1 L1741 1746.8 L1739.5 1747.9" fill="none" stroke="#000" stroke-width="1.4"/>
<path d="M1715.1 1684.8 L1716.8 1684.1 L1718.7 1684 L1720.9 1684.3 L1723.3 1685.2 L1725.8 1686.5 L1728.4 1688.3 L1731 1690.5 L1733.7 1693.1 L1736.3 1696.1 L1738.9 1699.3 L1741.3 1702.8 L1743.5 1706.5 L1745.5 1710.3 L1747.3 1714.2 L1748.9 1718 L1750.1 1721.8 L1751 1725.4 L1751.6 1728.8 L1751.8 1731.9 L1751.7 1734.8 L1751.2 1737.2 L1750.4 1739.3 L1749.3 1740.9 L1747.9 1742" fill="none" stroke="#000" stroke-width="1.6"/>
<path d="M1718.5 1674.7 L1720.6 1673.9 L1723 1673.7 L1725.6 1674.2 L1728.5 1675.2 L1731.5 1676.8 L1734.7 1679 L1737.9 1681.7 L1741.1 1684.8 L1744.3 1688.4 L1747.4 1692.4 L1750.3 1696.6 L1753 1701.1 L1755.5 1705.7 L1757.7 1710.3 L1759.5 1715 L1761 1719.6 L1762.1 1723.9 L1762.8 1728.1 L1763.1 1731.9 L1762.9 1735.3 L1762.4 1738.3 L1761.4 1740.8 L1760 1742.8 L1758.3 1744.1" fill="none" stroke="#000" stroke-width="3"/>
<path d="M1717.2 1676.9 L1719.2 1676.1 L1721.5 1675.9 L1724.1 1676.3 L1726.9 1677.3 L1729.8 1678.9 L1732.9 1681 L1736 1683.6 L1739.1 1686.7 L1742.2 1690.2 L1745.2 1694 L1748 1698.1 L1750.7 1702.4 L1753.1 1706.9 L1755.2 1711.4 L1757 1715.9 L1758.4 1720.3 L1759.5 1724.6 L1760.2 1728.6 L1760.4 1732.3 L1760.3 1735.6 L1759.8 1738.5 L1758.8 1740.9 L1757.5 1742.8 L1755.8 1744.2" fill="none" stroke="#000" stroke-width="1.4"/>
<path d="M1727 1673.4 L1728.9 1672.6 L1731.1 1672.4 L1733.5 1672.8 L1736.2 1673.8 L1739 1675.3 L1741.9 1677.3 L1744.9 1679.8 L1747.8 1682.7 L1750.8 1686 L1753.6 1689.7 L1756.3 1693.6 L1758.8 1697.7 L1761.1 1702 L1763.2 1706.3 L1764.9 1710.6 L1766.2 1714.8 L1767.3 1718.9 L1767.9 1722.7 L1768.2 1726.2 L1768 1729.4 L1767.5 1732.2 L1766.6 1734.5 L1765.4 1736.3 L1763.8 1737.6" fill="none" stroke="#000" stroke-width="1.6"/>
<path d="M1730.9 1664.2 L1733.2 1663.3 L1735.7 1663.1 L1738.6 1663.6 L1741.6 1664.7 L1744.9 1666.4 L1748.3 1668.7 L1751.7 1671.6 L1755.2 1675 L1758.6 1678.9 L1761.9 1683.1 L1765.1 1687.7 L1768 1692.5 L1770.6 1697.4 L1773 1702.5 L1775 1707.5 L1776.6 1712.4 L1777.8 1717.1 L1778.5 1721.5 L1778.8 1725.6 L1778.7 1729.3 L1778.1 1732.5 L1777 1735.2 L1775.5 1737.3 L1773.7 1738.8" fill="none" stroke="#000" stroke-width="3"/>
<path d="M1729.7 1666.4 L1731.8 1665.6 L1734.3 1665.4 L1737.1 1665.8 L1740 1666.9 L1743.2 1668.6 L1746.5 1670.8 L1749.8 1673.6 L1753.2 1676.9 L1756.5 1680.7 L1759.7 1684.8 L1762.8 1689.2 L1765.6 1693.9 L1768.2 1698.7 L1770.4 1703.5 L1772.4 1708.4 L1773.9 1713.1 L1775.1 1717.7 L1775.8 1722 L1776.1 1726 L1776 1729.6 L1775.4 1732.7 L1774.4 1735.3 L1772.9 1737.3 L1771.1 1738.8" fill="none" stroke="#000" stroke-width="1.4"/>
<path d="M1739.4 1662.8 L1741.4 1662 L1743.8 1661.8 L1746.5 1662.2 L1749.3 1663.3 L1752.3 1664.9 L1755.5 1667.1 L1758.7 1669.7 L1761.9 1672.9 L1765.1 1676.5 L1768.2 1680.4 L1771.1 1684.7 L1773.8 1689.1 L1776.3 1693.7 L1778.5 1698.4 L1780.3 1703.1 L1781.8 1707.6 L1782.9 1712 L1783.6 1716.1 L1783.9 1719.9 L1783.8 1723.4 L1783.2 1726.4 L1782.2 1728.9 L1780.9 1730.8 L1779.1 1732.2" fill="none" stroke="#000" stroke-width="1.6"/>
<path d="M1743.8 1654.5 L1746.1 1653.6 L1748.8 1653.4 L1751.8 1653.9 L1755 1655 L1758.4 1656.8 L1762 1659.3 L1765.6 1662.3 L1769.2 1665.9 L1772.8 1669.9 L1776.2 1674.3 L1779.5 1679.1 L1782.6 1684.1 L1785.4 1689.3 L1787.8 1694.6 L1789.9 1699.8 L1791.6 1704.9 L1792.8 1709.8 L1793.6 1714.5 L1793.9 1718.8 L1793.8 1722.6 L1793.1 1726 L1792 1728.8 L1790.5 1731 L1788.6 1732.6" fill="none" stroke="#000" stroke-width="3"/>
<path d="M1742.6 1656.7 L1744.8 1655.9 L1747.4 1655.7 L1750.3 1656.1 L1753.4 1657.3 L1756.7 1659 L1760.2 1661.4 L1763.7 1664.3 L1767.2 1667.8 L1770.7 1671.7 L1774 1676 L1777.2 1680.6 L1780.2 1685.5 L1782.9 1690.5 L1785.3 1695.6 L1787.3 1700.7 L1788.9 1705.7 L1790.1 1710.4 L1790.9 1715 L1791.2 1719.1 L1791 1722.9 L1790.4 1726.1 L1789.4 1728.8 L1787.9 1731 L1786 1732.5" fill="none" stroke="#000" stroke-width="1.4"/>
<path d="M1752.2 1653.1 L1754.4 1652.3 L1756.9 1652.1 L1759.7 1652.5 L1762.7 1653.6 L1765.9 1655.3 L1769.2 1657.6 L1772.6 1660.4 L1775.9 1663.7 L1779.3 1667.5 L1782.5 1671.6 L1785.6 1676.1 L1788.4 1680.8 L1791 1685.6 L1793.3 1690.5 L1795.3 1695.4 L1796.8 1700.2 L1798 1704.8 L1798.7 1709.1 L1799 1713.1 L1798.9 1716.7 L1798.3 1719.9 L1797.3 1722.5 L1795.8 1724.5 L1794 1726" fill="none" stroke="#000" stroke-width="1.6"/>
<path d="M1757.7 1646.5 L1760 1645.6 L1762.7 1645.4 L1765.7 1645.9 L1768.9 1647.1 L1772.3 1648.9 L1775.8 1651.3 L1779.5 1654.3 L1783.1 1657.9 L1786.7 1661.9 L1790.1 1666.4 L1793.4 1671.2 L1796.5 1676.2 L1799.3 1681.3 L1801.7 1686.6 L1803.8 1691.8 L1805.5 1697 L1806.7 1701.9 L1807.5 1706.5 L1807.8 1710.8 L1807.6 1714.7 L1807 1718 L1805.9 1720.8 L1804.4 1723.1 L1802.4 1724.6" fill="none" stroke="#000" stroke-width="3"/>
<path d="M1756.5 1648.8 L1758.7 1647.9 L1761.3 1647.7 L1764.2 1648.2 L1767.3 1649.3 L1770.6 1651.1 L1774.1 1653.4 L1777.6 1656.4 L1781.1 1659.8 L1784.6 1663.7 L1787.9 1668.1 L1791.1 1672.7 L1794.1 1677.5 L1796.8 1682.6 L1799.1 1687.7 L1801.2 1692.7 L1802.8 1697.7 L1804 1702.5 L1804.8 1707 L1805.1 1711.2 L1804.9 1714.9 L1804.3 1718.2 L1803.2 1720.9 L1801.8 1723 L1799.9 1724.5" fill="none" stroke="#000" stroke-width="1.4"/>
<path d="M1766.1 1645.1 L1768.3 1644.3 L1770.8 1644.1 L1773.6 1644.6 L1776.6 1645.6 L1779.8 1647.3 L1783.1 1649.6 L1786.4 1652.4 L1789.8 1655.8 L1793.2 1659.5 L1796.4 1663.7 L1799.5 1668.1 L1802.3 1672.8 L1804.9 1677.7 L1807.2 1682.5 L1809.1 1687.4 L1810.7 1692.2 L1811.9 1696.8 L1812.6 1701.2 L1812.9 1705.2 L1812.8 1708.8 L1812.2 1711.9 L1811.1 1714.5 L1809.7 1716.6 L1807.9 1718" fill="none" stroke="#000" stroke-width="1.6"/>
<path d="M1772.1 1639.4 L1774.4 1638.6 L1777 1638.4 L1779.9 1638.8 L1783 1640 L1786.4 1641.7 L1789.8 1644.1 L1793.4 1647.1 L1796.9 1650.6 L1800.4 1654.5 L1803.8 1658.9 L1807 1663.5 L1810 1668.4 L1812.7 1673.5 L1815.1 1678.6 L1817.1 1683.7 L1818.8 1688.7 L1820 1693.6 L1820.8 1698.1 L1821.1 1702.3 L1820.9 1706.1 L1820.3 1709.4 L1819.2 1712.1 L1817.7 1714.3 L1815.8 1715.8" fill="none" stroke="#000" stroke-width="3"/>
<path d="M1770.8 1641.7 L1773 1640.8 L1775.6 1640.6 L1778.4 1641.1 L1781.4 1642.2 L1784.7 1643.9 L1788 1646.2 L1791.5 1649.1 L1794.9 1652.5 L1798.3 1656.3 L1801.6 1660.5 L1804.7 1665 L1807.6 1669.8 L1810.2 1674.7 L1812.6 1679.7 L1814.5 1684.6 L1816.1 1689.5 L1817.3 1694.2 L1818 1698.6 L1818.3 1702.7 L1818.2 1706.3 L1817.6 1709.5 L1816.6 1712.2 L1815.1 1714.3 L1813.3 1715.7" fill="none" stroke="#000" stroke-width="1.4"/>
<path d="M1685.9 1722.3 L1686.6 1722 L1687.5 1721.9 L1688.5 1722.1 L1689.6 1722.4 L1690.7 1723.1 L1691.9 1723.9 L1693.1 1724.9 L1694.3 1726.1 L1695.5 1727.4 L1696.7 1728.9 L1697.8 1730.5 L1698.8 1732.2 L1699.7 1733.9 L1700.5 1735.6 L1701.2 1737.4 L1701.8 1739.1 L1702.2 1740.7 L1702.4 1742.3 L1702.6 1743.7 L1702.5 1745 L1702.3 1746.1 L1701.9 1747 L1701.4 1747.8 L1700.8 1748.3" fill="none" stroke="#000" stroke-width="2.2"/>
<path d="M1772.8 1644.8 L1813.7 1631.7 L1815.3 1631.1 L1817.1 1631 L1819.1 1631.3 L1821.2 1632.1 L1823.5 1633.3 L1825.8 1634.9 L1828.3 1636.9 L1830.7 1639.3 L1833.1 1642 L1835.4 1644.9 L1837.6 1648.1 L1839.6 1651.5 L1841.4 1654.9 L1843.1 1658.4 L1844.5 1661.9 L1845.6 1665.3 L1846.4 1668.6 L1846.9 1671.7 L1847.1 1674.6 L1847 1677.1 L1846.6 1679.4 L1845.9 1681.2 L1844.9 1682.7 L1843.6 1683.8 L1811.6 1712.4 Z" fill="#fff" stroke="none" stroke-width="0" stroke-linejoin="round" stroke-linecap="round"/><path d="M1772.8 1644.8 L1813.7 1631.7 L1815.3 1631.1 L1817.1 1631 L1819.1 1631.3 L1821.2 1632.1 L1823.5 1633.3 L1825.8 1634.9 L1828.3 1636.9 L1830.7 1639.3 L1833.1 1642 L1835.4 1644.9 L1837.6 1648.1 L1839.6 1651.5 L1841.4 1654.9 L1843.1 1658.4 L1844.5 1661.9 L1845.6 1665.3 L1846.4 1668.6 L1846.9 1671.7 L1847.1 1674.6 L1847 1677.1 L1846.6 1679.4 L1845.9 1681.2 L1844.9 1682.7 L1843.6 1683.8 L1811.6 1712.4" fill="none" stroke="#000" stroke-width="2" stroke-linejoin="round"/>
<path d="M1772.8 1644.8 L1774.8 1644 L1777.2 1643.8 L1779.7 1644.2 L1782.5 1645.2 L1785.5 1646.8 L1788.6 1648.9 L1791.7 1651.5 L1794.8 1654.6 L1797.9 1658.1 L1800.9 1662 L1803.8 1666.1 L1806.4 1670.5 L1808.8 1674.9 L1811 1679.5 L1812.8 1684 L1814.2 1688.5 L1815.3 1692.7 L1816 1696.8 L1816.3 1700.5 L1816.1 1703.8 L1815.6 1706.8 L1814.6 1709.2 L1813.3 1711.1 L1811.6 1712.4" fill="none" stroke="#000" stroke-width="2.6"/>
<path d="M1787.2 1637.7 L1789.2 1636.9 L1791.4 1636.8 L1793.9 1637.2 L1796.7 1638.1 L1799.5 1639.7 L1802.5 1641.7 L1805.6 1644.3 L1808.6 1647.3 L1811.7 1650.7 L1814.6 1654.5 L1817.4 1658.5 L1819.9 1662.7 L1822.3 1667.1 L1824.4 1671.5 L1826.1 1675.9 L1827.5 1680.3 L1828.6 1684.4 L1829.3 1688.4 L1829.5 1692 L1829.4 1695.2 L1828.9 1698.1 L1827.9 1700.4 L1826.6 1702.3 L1825 1703.6" fill="none" stroke="#000" stroke-width="1.6"/>
<path d="M1792.9 1635.6 L1794.8 1634.8 L1797 1634.7 L1799.5 1635.1 L1802.1 1636 L1804.9 1637.5 L1807.8 1639.5 L1810.8 1642 L1813.8 1644.9 L1816.7 1648.2 L1819.6 1651.9 L1822.3 1655.8 L1824.8 1659.9 L1827.1 1664.2 L1829.1 1668.5 L1830.8 1672.8 L1832.2 1677 L1833.2 1681.1 L1833.8 1684.9 L1834.1 1688.4 L1834 1691.6 L1833.5 1694.4 L1832.6 1696.7 L1831.3 1698.5 L1829.7 1699.8" fill="none" stroke="#000" stroke-width="2.4"/>
<path d="M1673.5 1732.8 L1687.3 1724.9 L1688 1724.6 L1688.7 1724.6 L1689.5 1724.7 L1690.3 1725 L1691.2 1725.5 L1692.2 1726.2 L1693.1 1727 L1694.1 1727.9 L1695.1 1729 L1696 1730.2 L1696.9 1731.4 L1697.7 1732.8 L1698.4 1734.2 L1699.1 1735.6 L1699.6 1737 L1700.1 1738.3 L1700.4 1739.6 L1700.6 1740.9 L1700.7 1742 L1700.7 1743.1 L1700.5 1743.9 L1700.2 1744.7 L1699.8 1745.3 L1699.3 1745.7 L1685.4 1753.7 Z" fill="#fff" stroke="none" stroke-width="0" stroke-linejoin="round" stroke-linecap="round"/><path d="M1673.5 1732.8 L1687.3 1724.9 L1688 1724.6 L1688.7 1724.6 L1689.5 1724.7 L1690.3 1725 L1691.2 1725.5 L1692.2 1726.2 L1693.1 1727 L1694.1 1727.9 L1695.1 1729 L1696 1730.2 L1696.9 1731.4 L1697.7 1732.8 L1698.4 1734.2 L1699.1 1735.6 L1699.6 1737 L1700.1 1738.3 L1700.4 1739.6 L1700.6 1740.9 L1700.7 1742 L1700.7 1743.1 L1700.5 1743.9 L1700.2 1744.7 L1699.8 1745.3 L1699.3 1745.7 L1685.4 1753.7" fill="none" stroke="#000" stroke-width="2" stroke-linejoin="round"/><ellipse cx="1679.4" cy="1743.2" rx="5" ry="12" transform="rotate(-29.8 1679.4 1743.2)" fill="#fff" stroke="#000" stroke-width="2"/>
<path d="M1680.4 1728.9 L1681 1728.6 L1681.7 1728.6 L1682.5 1728.7 L1683.4 1729 L1684.3 1729.5 L1685.2 1730.1 L1686.2 1730.9 L1687.2 1731.9 L1688.1 1733 L1689 1734.1 L1689.9 1735.4 L1690.7 1736.8 L1691.5 1738.1 L1692.1 1739.5 L1692.7 1740.9 L1693.1 1742.3 L1693.5 1743.6 L1693.7 1744.9 L1693.8 1746 L1693.7 1747 L1693.6 1747.9 L1693.3 1748.7 L1692.9 1749.3 L1692.3 1749.7" fill="none" stroke="#000" stroke-width="2"/>
<path d="M1648.9 1750.3 L1678.4 1733.4 L1678.9 1733.3 L1679.4 1733.2 L1680 1733.3 L1680.7 1733.6 L1681.3 1733.9 L1682.1 1734.4 L1682.8 1735 L1683.5 1735.7 L1684.2 1736.5 L1684.9 1737.4 L1685.6 1738.4 L1686.2 1739.4 L1686.7 1740.4 L1687.2 1741.5 L1687.6 1742.5 L1688 1743.5 L1688.2 1744.5 L1688.4 1745.4 L1688.4 1746.3 L1688.4 1747.1 L1688.3 1747.7 L1688.1 1748.3 L1687.8 1748.7 L1687.4 1749.1 L1657.9 1766 Z" fill="#fff" stroke="none" stroke-width="0" stroke-linejoin="round" stroke-linecap="round"/><path d="M1648.9 1750.3 L1678.4 1733.4 L1678.9 1733.3 L1679.4 1733.2 L1680 1733.3 L1680.7 1733.6 L1681.3 1733.9 L1682.1 1734.4 L1682.8 1735 L1683.5 1735.7 L1684.2 1736.5 L1684.9 1737.4 L1685.6 1738.4 L1686.2 1739.4 L1686.7 1740.4 L1687.2 1741.5 L1687.6 1742.5 L1688 1743.5 L1688.2 1744.5 L1688.4 1745.4 L1688.4 1746.3 L1688.4 1747.1 L1688.3 1747.7 L1688.1 1748.3 L1687.8 1748.7 L1687.4 1749.1 L1657.9 1766" fill="none" stroke="#000" stroke-width="2" stroke-linejoin="round"/><ellipse cx="1653.4" cy="1758.2" rx="3.8" ry="9" transform="rotate(-29.8 1653.4 1758.2)" fill="#fff" stroke="#000" stroke-width="2"/>
<path d="M1665.4 1740.9 L1665.9 1740.7 L1666.4 1740.7 L1667 1740.8 L1667.6 1741 L1668.3 1741.4 L1669 1741.9 L1669.8 1742.5 L1670.5 1743.2 L1671.2 1744 L1671.9 1744.9 L1672.5 1745.8 L1673.2 1746.8 L1673.7 1747.9 L1674.2 1748.9 L1674.6 1750 L1675 1751 L1675.2 1752 L1675.4 1752.9 L1675.4 1753.8 L1675.4 1754.5 L1675.3 1755.2 L1675.1 1755.8 L1674.7 1756.2 L1674.4 1756.5" fill="none" stroke="#000" stroke-width="1.6"/>
<path d="M1588.2 1785.2 L1643.7 1753.3 L1644.2 1753.2 L1644.7 1753.1 L1645.3 1753.2 L1646 1753.4 L1646.6 1753.8 L1647.3 1754.3 L1648.1 1754.9 L1648.8 1755.6 L1649.5 1756.4 L1650.2 1757.3 L1650.9 1758.3 L1651.5 1759.3 L1652 1760.3 L1652.5 1761.3 L1652.9 1762.4 L1653.3 1763.4 L1653.5 1764.4 L1653.7 1765.3 L1653.7 1766.2 L1653.7 1767 L1653.6 1767.6 L1653.4 1768.2 L1653.1 1768.6 L1652.7 1768.9 L1597.1 1800.8 Z" fill="#fff" stroke="none" stroke-width="0" stroke-linejoin="round" stroke-linecap="round"/><path d="M1588.2 1785.2 L1643.7 1753.3 L1644.2 1753.2 L1644.7 1753.1 L1645.3 1753.2 L1646 1753.4 L1646.6 1753.8 L1647.3 1754.3 L1648.1 1754.9 L1648.8 1755.6 L1649.5 1756.4 L1650.2 1757.3 L1650.9 1758.3 L1651.5 1759.3 L1652 1760.3 L1652.5 1761.3 L1652.9 1762.4 L1653.3 1763.4 L1653.5 1764.4 L1653.7 1765.3 L1653.7 1766.2 L1653.7 1767 L1653.6 1767.6 L1653.4 1768.2 L1653.1 1768.6 L1652.7 1768.9 L1597.1 1800.8" fill="none" stroke="#000" stroke-width="2" stroke-linejoin="round"/><ellipse cx="1592.7" cy="1793" rx="3.8" ry="9" transform="rotate(-29.8 1592.7 1793)" fill="#fff" stroke="#000" stroke-width="2"/>
<path d="M1610.7 1772.2 L1611.2 1772 L1611.7 1772 L1612.3 1772.1 L1613 1772.3 L1613.7 1772.7 L1614.4 1773.2 L1615.1 1773.8 L1615.8 1774.5 L1616.5 1775.3 L1617.2 1776.2 L1617.9 1777.2 L1618.5 1778.2 L1619.1 1779.2 L1619.5 1780.2 L1620 1781.3 L1620.3 1782.3 L1620.5 1783.3 L1620.7 1784.2 L1620.8 1785.1 L1620.7 1785.9 L1620.6 1786.5 L1620.4 1787.1 L1620.1 1787.5 L1619.7 1787.8" fill="none" stroke="#000" stroke-width="1.6"/>
<path d="M1626.4 1763.3 L1626.8 1763.1 L1627.4 1763.1 L1628 1763.2 L1628.6 1763.4 L1629.3 1763.7 L1630 1764.2 L1630.7 1764.8 L1631.4 1765.6 L1632.2 1766.4 L1632.8 1767.2 L1633.5 1768.2 L1634.1 1769.2 L1634.7 1770.2 L1635.2 1771.3 L1635.6 1772.3 L1635.9 1773.4 L1636.2 1774.3 L1636.3 1775.3 L1636.4 1776.1 L1636.4 1776.9 L1636.2 1777.6 L1636 1778.1 L1635.7 1778.6 L1635.3 1778.9" fill="none" stroke="#000" stroke-width="1.6"/>
<path d="M1579.5 1786.1 L1593.4 1778.1 L1594 1777.9 L1594.8 1777.8 L1595.6 1778 L1596.5 1778.3 L1597.4 1778.8 L1598.4 1779.5 L1599.4 1780.3 L1600.4 1781.3 L1601.4 1782.4 L1602.4 1783.7 L1603.3 1785 L1604.2 1786.4 L1604.9 1787.8 L1605.6 1789.3 L1606.2 1790.7 L1606.7 1792.1 L1607 1793.5 L1607.2 1794.8 L1607.3 1796 L1607.3 1797.1 L1607.1 1798 L1606.8 1798.8 L1606.4 1799.4 L1605.8 1799.8 L1591.9 1807.8 Z" fill="#fff" stroke="none" stroke-width="0" stroke-linejoin="round" stroke-linecap="round"/><path d="M1579.5 1786.1 L1593.4 1778.1 L1594 1777.9 L1594.8 1777.8 L1595.6 1778 L1596.5 1778.3 L1597.4 1778.8 L1598.4 1779.5 L1599.4 1780.3 L1600.4 1781.3 L1601.4 1782.4 L1602.4 1783.7 L1603.3 1785 L1604.2 1786.4 L1604.9 1787.8 L1605.6 1789.3 L1606.2 1790.7 L1606.7 1792.1 L1607 1793.5 L1607.2 1794.8 L1607.3 1796 L1607.3 1797.1 L1607.1 1798 L1606.8 1798.8 L1606.4 1799.4 L1605.8 1799.8 L1591.9 1807.8" fill="none" stroke="#000" stroke-width="2" stroke-linejoin="round"/><ellipse cx="1585.7" cy="1796.9" rx="5.2" ry="12.5" transform="rotate(-29.8 1585.7 1796.9)" fill="#fff" stroke="#000" stroke-width="2"/>
<path d="M1499.8 1892.3 L1508.7 1891.8 L1514.6 1886.1 L1523.6 1885.6 L1529 1879 L1537.4 1877.6 L1542.9 1871 L1550.8 1868.8 L1555.8 1861.3 L1563.7 1859.1 L1568.2 1850.8 L1575.6 1847.7 L1579.1 1837.6 L1585.5 1832.8 L1588.5 1821.9 L1594.4 1816.2 L1598.4 1807 L1598.4 1807 L1599 1806.5 L1599.5 1805.7 L1599.9 1804.8 L1600.1 1803.7 L1600.2 1802.4 L1600.1 1800.9 L1599.8 1799.4 L1599.4 1797.8 L1598.8 1796 L1598.1 1794.3 L1597.3 1792.5 L1596.4 1790.8 L1595.4 1789.2 L1594.3 1787.6 L1593.1 1786.1 L1591.9 1784.7 L1590.7 1783.5 L1589.5 1782.5 L1588.3 1781.7 L1587.2 1781.1 L1586.1 1780.7 L1585.1 1780.6 L1584.2 1780.6 L1583.5 1780.9 L1583.5 1780.9 L1573.5 1779.7 L1565.6 1782 L1554.7 1779 L1547.3 1782.1 L1536.8 1780 L1530.4 1784.9 L1521 1784.5 L1515 1790.2 L1506.1 1790.7 L1500.1 1796.4 L1491.7 1797.8 L1486.3 1804.4 L1477.8 1805.8 L1472.9 1813.2 L1464.9 1815.4 L1460 1822.9 Z" fill="#fff" stroke="#000" stroke-width="2.2" stroke-linejoin="round" stroke-linecap="round"/>
<path d="M1464.9 1815.4 L1467.2 1814.6 L1469.8 1814.4 L1472.7 1814.8 L1475.9 1816 L1479.2 1817.7 L1482.7 1820.1 L1486.2 1823.1 L1489.8 1826.6 L1493.3 1830.5 L1496.6 1834.9 L1499.9 1839.5 L1502.8 1844.4 L1505.6 1849.5 L1508 1854.6 L1510 1859.7 L1511.6 1864.8 L1512.8 1869.6 L1513.6 1874.1 L1513.9 1878.3 L1513.8 1882.1 L1513.2 1885.4 L1512.1 1888.1 L1510.6 1890.3 L1508.7 1891.8" fill="none" stroke="#000" stroke-width="3"/>
<path d="M1463.7 1817.7 L1465.9 1816.8 L1468.4 1816.6 L1471.2 1817.1 L1474.3 1818.2 L1477.5 1819.9 L1480.9 1822.2 L1484.3 1825.1 L1487.8 1828.5 L1491.2 1832.3 L1494.4 1836.5 L1497.6 1841 L1500.5 1845.8 L1503.1 1850.7 L1505.4 1855.7 L1507.4 1860.7 L1509 1865.5 L1510.2 1870.2 L1510.9 1874.6 L1511.2 1878.7 L1511.1 1882.3 L1510.5 1885.5 L1509.4 1888.2 L1508 1890.3 L1506.1 1891.7" fill="none" stroke="#000" stroke-width="1.4"/>
<path d="M1472.9 1813.2 L1475 1812.4 L1477.5 1812.2 L1480.3 1812.6 L1483.3 1813.7 L1486.5 1815.4 L1489.8 1817.7 L1493.2 1820.5 L1496.6 1823.8 L1499.9 1827.6 L1503.1 1831.7 L1506.2 1836.2 L1509.1 1840.9 L1511.7 1845.7 L1513.9 1850.6 L1515.9 1855.5 L1517.4 1860.3 L1518.6 1864.9 L1519.3 1869.2 L1519.6 1873.2 L1519.5 1876.8 L1518.9 1880 L1517.9 1882.6 L1516.5 1884.6 L1514.6 1886.1" fill="none" stroke="#000" stroke-width="1.6"/>
<path d="M1477.8 1805.8 L1480.2 1804.8 L1482.9 1804.6 L1486 1805.1 L1489.3 1806.3 L1492.8 1808.2 L1496.4 1810.7 L1500.1 1813.7 L1503.8 1817.4 L1507.4 1821.5 L1511 1826.1 L1514.3 1830.9 L1517.5 1836.1 L1520.3 1841.4 L1522.8 1846.7 L1524.9 1852.1 L1526.6 1857.3 L1527.9 1862.3 L1528.7 1867.1 L1529 1871.5 L1528.9 1875.4 L1528.2 1878.9 L1527.1 1881.7 L1525.6 1884 L1523.6 1885.6" fill="none" stroke="#000" stroke-width="3"/>
<path d="M1476.6 1808 L1478.9 1807.2 L1481.6 1807 L1484.5 1807.4 L1487.7 1808.6 L1491.1 1810.4 L1494.6 1812.8 L1498.2 1815.8 L1501.8 1819.3 L1505.3 1823.3 L1508.7 1827.7 L1512 1832.5 L1515 1837.4 L1517.8 1842.6 L1520.2 1847.8 L1522.3 1853 L1524 1858 L1525.2 1862.9 L1526 1867.5 L1526.3 1871.8 L1526.1 1875.6 L1525.5 1879 L1524.4 1881.7 L1522.9 1883.9 L1521 1885.5" fill="none" stroke="#000" stroke-width="1.4"/>
<path d="M1486.3 1804.4 L1488.5 1803.5 L1491 1803.3 L1493.9 1803.8 L1497 1804.9 L1500.2 1806.6 L1503.6 1809 L1507.1 1811.9 L1510.5 1815.3 L1513.9 1819.1 L1517.2 1823.4 L1520.4 1827.9 L1523.3 1832.7 L1526 1837.7 L1528.3 1842.7 L1530.3 1847.7 L1531.9 1852.6 L1533.1 1857.3 L1533.8 1861.7 L1534.1 1865.8 L1534 1869.5 L1533.4 1872.7 L1532.3 1875.4 L1530.9 1877.5 L1529 1879" fill="none" stroke="#000" stroke-width="1.6"/>
<path d="M1491.7 1797.8 L1494.1 1796.9 L1496.8 1796.7 L1499.9 1797.2 L1503.1 1798.3 L1506.6 1800.2 L1510.3 1802.7 L1514 1805.8 L1517.7 1809.4 L1521.3 1813.6 L1524.8 1818.1 L1528.2 1823 L1531.3 1828.1 L1534.2 1833.4 L1536.7 1838.8 L1538.8 1844.1 L1540.5 1849.3 L1541.8 1854.4 L1542.6 1859.1 L1542.9 1863.5 L1542.8 1867.5 L1542.1 1870.9 L1541 1873.8 L1539.4 1876 L1537.4 1877.6" fill="none" stroke="#000" stroke-width="3"/>
<path d="M1490.5 1800.1 L1492.8 1799.2 L1495.4 1799 L1498.4 1799.5 L1501.6 1800.6 L1505 1802.4 L1508.5 1804.8 L1512.1 1807.8 L1515.7 1811.4 L1519.2 1815.4 L1522.6 1819.8 L1525.9 1824.5 L1528.9 1829.5 L1531.7 1834.6 L1534.1 1839.8 L1536.2 1845 L1537.8 1850.1 L1539.1 1855 L1539.9 1859.6 L1540.2 1863.8 L1540 1867.7 L1539.4 1871 L1538.3 1873.8 L1536.8 1876 L1534.9 1877.5" fill="none" stroke="#000" stroke-width="1.4"/>
<path d="M1500.1 1796.4 L1502.4 1795.6 L1504.9 1795.4 L1507.8 1795.8 L1510.8 1796.9 L1514.1 1798.7 L1517.5 1801 L1520.9 1803.9 L1524.4 1807.3 L1527.8 1811.2 L1531.1 1815.4 L1534.3 1820 L1537.2 1824.8 L1539.8 1829.7 L1542.2 1834.7 L1544.2 1839.7 L1545.8 1844.6 L1547 1849.3 L1547.7 1853.8 L1548 1857.9 L1547.9 1861.6 L1547.3 1864.8 L1546.2 1867.4 L1544.8 1869.5 L1542.9 1871" fill="none" stroke="#000" stroke-width="1.6"/>
<path d="M1506.1 1790.7 L1508.4 1789.8 L1511.1 1789.6 L1514.1 1790.1 L1517.3 1791.2 L1520.7 1793.1 L1524.2 1795.5 L1527.8 1798.5 L1531.5 1802.1 L1535 1806.1 L1538.5 1810.6 L1541.8 1815.3 L1544.9 1820.4 L1547.6 1825.5 L1550.1 1830.8 L1552.2 1836 L1553.8 1841.1 L1555.1 1846.1 L1555.9 1850.7 L1556.2 1855 L1556 1858.9 L1555.4 1862.2 L1554.3 1865 L1552.8 1867.2 L1550.8 1868.8" fill="none" stroke="#000" stroke-width="3"/>
<path d="M1504.8 1793 L1507.1 1792.1 L1509.7 1791.9 L1512.6 1792.4 L1515.7 1793.5 L1519 1795.3 L1522.5 1797.6 L1526 1800.6 L1529.5 1804 L1532.9 1807.9 L1536.3 1812.2 L1539.5 1816.9 L1542.5 1821.7 L1545.2 1826.8 L1547.5 1831.8 L1549.5 1836.9 L1551.2 1841.9 L1552.4 1846.7 L1553.1 1851.2 L1553.4 1855.3 L1553.3 1859.1 L1552.7 1862.3 L1551.6 1865.1 L1550.1 1867.2 L1548.3 1868.7" fill="none" stroke="#000" stroke-width="1.4"/>
<path d="M1515 1790.2 L1517.1 1789.4 L1519.6 1789.2 L1522.3 1789.6 L1525.2 1790.7 L1528.3 1792.3 L1531.5 1794.6 L1534.8 1797.3 L1538.1 1800.6 L1541.4 1804.3 L1544.6 1808.3 L1547.6 1812.6 L1550.3 1817.2 L1552.9 1821.9 L1555.1 1826.7 L1557 1831.5 L1558.5 1836.1 L1559.7 1840.6 L1560.4 1844.9 L1560.7 1848.8 L1560.5 1852.3 L1559.9 1855.4 L1559 1857.9 L1557.6 1859.9 L1555.8 1861.3" fill="none" stroke="#000" stroke-width="1.6"/>
<path d="M1521 1784.5 L1523.2 1783.6 L1525.7 1783.4 L1528.6 1783.9 L1531.7 1785 L1534.9 1786.7 L1538.3 1789.1 L1541.8 1792 L1545.2 1795.4 L1548.6 1799.2 L1551.9 1803.5 L1555.1 1808 L1558 1812.8 L1560.7 1817.8 L1563 1822.8 L1565 1827.8 L1566.6 1832.7 L1567.8 1837.4 L1568.5 1841.8 L1568.8 1845.9 L1568.7 1849.6 L1568.1 1852.8 L1567 1855.5 L1565.6 1857.6 L1563.7 1859.1" fill="none" stroke="#000" stroke-width="3"/>
<path d="M1519.7 1786.7 L1521.9 1785.9 L1524.3 1785.7 L1527.1 1786.1 L1530.1 1787.2 L1533.2 1788.9 L1536.5 1791.1 L1539.9 1794 L1543.2 1797.3 L1546.5 1801 L1549.7 1805.1 L1552.8 1809.5 L1555.6 1814.2 L1558.2 1819 L1560.5 1823.8 L1562.4 1828.7 L1564 1833.4 L1565.1 1838 L1565.8 1842.3 L1566.1 1846.3 L1566 1849.9 L1565.4 1853 L1564.4 1855.6 L1563 1857.6 L1561.2 1859.1" fill="none" stroke="#000" stroke-width="1.4"/>
<path d="M1530.4 1784.9 L1532.4 1784.1 L1534.6 1783.9 L1537.1 1784.3 L1539.8 1785.3 L1542.7 1786.8 L1545.7 1788.9 L1548.8 1791.5 L1551.8 1794.5 L1554.8 1797.9 L1557.8 1801.6 L1560.5 1805.7 L1563.1 1809.9 L1565.5 1814.3 L1567.5 1818.7 L1569.3 1823.1 L1570.7 1827.4 L1571.8 1831.6 L1572.4 1835.5 L1572.7 1839.1 L1572.6 1842.4 L1572 1845.2 L1571.1 1847.6 L1569.8 1849.5 L1568.2 1850.8" fill="none" stroke="#000" stroke-width="1.6"/>
<path d="M1536.8 1780 L1538.9 1779.2 L1541.2 1779.1 L1543.7 1779.5 L1546.5 1780.5 L1549.5 1782 L1552.6 1784.2 L1555.7 1786.8 L1558.8 1789.9 L1561.9 1793.4 L1564.9 1797.2 L1567.8 1801.4 L1570.4 1805.7 L1572.8 1810.2 L1575 1814.7 L1576.8 1819.3 L1578.2 1823.7 L1579.3 1828 L1580 1832 L1580.3 1835.7 L1580.1 1839.1 L1579.6 1842 L1578.6 1844.4 L1577.3 1846.3 L1575.6 1847.7" fill="none" stroke="#000" stroke-width="3"/>
<path d="M1535.5 1782.1 L1537.5 1781.4 L1539.7 1781.2 L1542.2 1781.6 L1544.9 1782.6 L1547.8 1784.1 L1550.8 1786.1 L1553.8 1788.7 L1556.8 1791.7 L1559.9 1795.1 L1562.8 1798.8 L1565.5 1802.8 L1568.1 1807 L1570.4 1811.4 L1572.5 1815.8 L1574.2 1820.2 L1575.7 1824.5 L1576.7 1828.7 L1577.4 1832.6 L1577.6 1836.2 L1577.5 1839.4 L1577 1842.2 L1576 1844.6 L1574.8 1846.4 L1573.1 1847.8" fill="none" stroke="#000" stroke-width="1.4"/>
<path d="M1547.3 1782.1 L1548.9 1781.5 L1550.8 1781.3 L1552.9 1781.7 L1555.2 1782.5 L1557.6 1783.8 L1560.2 1785.5 L1562.7 1787.7 L1565.3 1790.2 L1567.8 1793.1 L1570.3 1796.2 L1572.6 1799.6 L1574.8 1803.2 L1576.8 1806.9 L1578.5 1810.6 L1580 1814.3 L1581.2 1818 L1582.1 1821.5 L1582.7 1824.8 L1582.9 1827.8 L1582.8 1830.6 L1582.3 1833 L1581.5 1835 L1580.5 1836.5 L1579.1 1837.6" fill="none" stroke="#000" stroke-width="1.6"/>
<path d="M1554.7 1779 L1556.3 1778.4 L1558.1 1778.2 L1560.2 1778.6 L1562.4 1779.4 L1564.8 1780.6 L1567.2 1782.3 L1569.7 1784.4 L1572.2 1786.8 L1574.6 1789.6 L1577 1792.7 L1579.3 1796 L1581.4 1799.4 L1583.3 1803 L1585 1806.6 L1586.4 1810.2 L1587.6 1813.7 L1588.4 1817.1 L1589 1820.3 L1589.2 1823.3 L1589.1 1825.9 L1588.7 1828.3 L1587.9 1830.2 L1586.9 1831.7 L1585.5 1832.8" fill="none" stroke="#000" stroke-width="1.6"/>
<path d="M1565.6 1782 L1566.8 1781.5 L1568.2 1781.4 L1569.7 1781.6 L1571.3 1782.2 L1573.1 1783.2 L1574.9 1784.4 L1576.7 1786 L1578.6 1787.8 L1580.4 1789.8 L1582.2 1792.1 L1583.9 1794.5 L1585.4 1797.1 L1586.8 1799.8 L1588.1 1802.4 L1589.2 1805.1 L1590 1807.7 L1590.7 1810.2 L1591.1 1812.6 L1591.2 1814.8 L1591.1 1816.8 L1590.8 1818.5 L1590.3 1819.9 L1589.5 1821.1 L1588.5 1821.9" fill="none" stroke="#000" stroke-width="1.6"/>
<path d="M1573.5 1779.7 L1574.6 1779.3 L1575.9 1779.2 L1577.3 1779.4 L1578.8 1780 L1580.4 1780.8 L1582 1781.9 L1583.7 1783.4 L1585.4 1785 L1587.1 1786.9 L1588.7 1789 L1590.2 1791.2 L1591.6 1793.5 L1592.9 1796 L1594.1 1798.4 L1595.1 1800.9 L1595.8 1803.2 L1596.4 1805.5 L1596.8 1807.7 L1596.9 1809.7 L1596.9 1811.5 L1596.6 1813.1 L1596.1 1814.4 L1595.3 1815.4 L1594.4 1816.2" fill="none" stroke="#000" stroke-width="1.6"/>
<path d="M1460 1822.9 L1462.1 1822.1 L1464.4 1821.9 L1467.1 1822.3 L1469.9 1823.4 L1473 1825 L1476.1 1827.2 L1479.3 1829.8 L1482.5 1833 L1485.7 1836.6 L1488.8 1840.5 L1491.7 1844.8 L1494.4 1849.2 L1496.9 1853.8 L1499.1 1858.5 L1500.9 1863.2 L1502.4 1867.7 L1503.5 1872.1 L1504.2 1876.2 L1504.5 1880 L1504.4 1883.5 L1503.8 1886.5 L1502.9 1889 L1501.5 1890.9 L1499.8 1892.3" fill="none" stroke="#000" stroke-width="2.2"/>
<ellipse cx="1474.7" cy="1860.6" rx="18.5" ry="44" transform="rotate(-29.8 1474.7 1860.6)" fill="#fff" stroke="#000" stroke-width="2.2"/>
<ellipse cx="1474.7" cy="1860.6" rx="16.4" ry="39" transform="rotate(-29.8 1474.7 1860.6)" fill="#fff" stroke="#000" stroke-width="2"/>
<ellipse cx="1475.5" cy="1860.1" rx="15.1" ry="36" transform="rotate(-29.8 1475.5 1860.1)" fill="#fff" stroke="#000" stroke-width="1.4"/>
<path d="M1455.5 1847.3 L1467.7 1840.4 L1468.8 1840 L1470 1839.9 L1471.4 1840.1 L1472.9 1840.6 L1474.5 1841.5 L1476.2 1842.6 L1477.8 1844 L1479.5 1845.7 L1481.2 1847.6 L1482.8 1849.6 L1484.4 1851.9 L1485.8 1854.2 L1487.1 1856.6 L1488.2 1859.1 L1489.2 1861.5 L1490 1863.9 L1490.6 1866.2 L1490.9 1868.4 L1491.1 1870.4 L1491 1872.2 L1490.7 1873.7 L1490.2 1875.1 L1489.5 1876.1 L1488.6 1876.8 L1476.4 1883.8 Z" fill="#fff" stroke="none" stroke-width="0" stroke-linejoin="round" stroke-linecap="round"/><path d="M1455.5 1847.3 L1467.7 1840.4 L1468.8 1840 L1470 1839.9 L1471.4 1840.1 L1472.9 1840.6 L1474.5 1841.5 L1476.2 1842.6 L1477.8 1844 L1479.5 1845.7 L1481.2 1847.6 L1482.8 1849.6 L1484.4 1851.9 L1485.8 1854.2 L1487.1 1856.6 L1488.2 1859.1 L1489.2 1861.5 L1490 1863.9 L1490.6 1866.2 L1490.9 1868.4 L1491.1 1870.4 L1491 1872.2 L1490.7 1873.7 L1490.2 1875.1 L1489.5 1876.1 L1488.6 1876.8 L1476.4 1883.8" fill="none" stroke="#000" stroke-width="2" stroke-linejoin="round"/><ellipse cx="1466" cy="1865.6" rx="8.8" ry="21" transform="rotate(-29.8 1466 1865.6)" fill="#fff" stroke="#000" stroke-width="2"/>
<ellipse cx="1467.7" cy="1864.6" rx="6.7" ry="16" transform="rotate(-29.8 1467.7 1864.6)" fill="#fff" stroke="#000" stroke-width="3.2"/>
<ellipse cx="1467.7" cy="1864.6" rx="5" ry="12" transform="rotate(-29.8 1467.7 1864.6)" fill="#fff" stroke="#000" stroke-width="1.6"/>
<path d="M1412.8 1883.4 L1462.3 1855 L1462.8 1854.8 L1463.5 1854.7 L1464.2 1854.9 L1465 1855.1 L1465.8 1855.6 L1466.7 1856.2 L1467.6 1856.9 L1468.5 1857.8 L1469.3 1858.8 L1470.2 1859.9 L1471 1861 L1471.7 1862.3 L1472.4 1863.5 L1473 1864.8 L1473.5 1866.1 L1473.9 1867.3 L1474.2 1868.5 L1474.4 1869.7 L1474.5 1870.7 L1474.5 1871.7 L1474.3 1872.5 L1474 1873.2 L1473.7 1873.7 L1473.2 1874.1 L1423.7 1902.4 Z" fill="#fff" stroke="none" stroke-width="0" stroke-linejoin="round" stroke-linecap="round"/><path d="M1412.8 1883.4 L1462.3 1855 L1462.8 1854.8 L1463.5 1854.7 L1464.2 1854.9 L1465 1855.1 L1465.8 1855.6 L1466.7 1856.2 L1467.6 1856.9 L1468.5 1857.8 L1469.3 1858.8 L1470.2 1859.9 L1471 1861 L1471.7 1862.3 L1472.4 1863.5 L1473 1864.8 L1473.5 1866.1 L1473.9 1867.3 L1474.2 1868.5 L1474.4 1869.7 L1474.5 1870.7 L1474.5 1871.7 L1474.3 1872.5 L1474 1873.2 L1473.7 1873.7 L1473.2 1874.1 L1423.7 1902.4" fill="none" stroke="#000" stroke-width="2" stroke-linejoin="round"/><ellipse cx="1418.3" cy="1892.9" rx="4.6" ry="11" transform="rotate(-29.8 1418.3 1892.9)" fill="#fff" stroke="#000" stroke-width="2"/>
<path d="M1430.2 1873.4 L1430.7 1873.2 L1431.4 1873.1 L1432.1 1873.3 L1432.9 1873.5 L1433.7 1874 L1434.6 1874.6 L1435.5 1875.3 L1436.4 1876.2 L1437.2 1877.2 L1438.1 1878.3 L1438.9 1879.4 L1439.6 1880.7 L1440.3 1881.9 L1440.9 1883.2 L1441.4 1884.5 L1441.8 1885.7 L1442.1 1886.9 L1442.3 1888.1 L1442.4 1889.1 L1442.4 1890.1 L1442.2 1890.9 L1441.9 1891.6 L1441.6 1892.1 L1441.1 1892.5" fill="none" stroke="#000" stroke-width="1.6"/>
<path d="M1436.2 1869.9 L1436.8 1869.7 L1437.4 1869.7 L1438.2 1869.8 L1439 1870.1 L1439.8 1870.5 L1440.7 1871.1 L1441.5 1871.8 L1442.4 1872.7 L1443.3 1873.7 L1444.1 1874.8 L1445 1876 L1445.7 1877.2 L1446.4 1878.4 L1447 1879.7 L1447.5 1881 L1447.9 1882.3 L1448.2 1883.5 L1448.4 1884.6 L1448.5 1885.6 L1448.4 1886.6 L1448.3 1887.4 L1448 1888.1 L1447.6 1888.6 L1447.2 1889" fill="none" stroke="#000" stroke-width="1.6"/>
<path d="M1447.5 1863.5 L1448.1 1863.2 L1448.7 1863.2 L1449.5 1863.3 L1450.2 1863.6 L1451.1 1864 L1451.9 1864.6 L1452.8 1865.4 L1453.7 1866.2 L1454.6 1867.2 L1455.4 1868.3 L1456.2 1869.5 L1457 1870.7 L1457.7 1872 L1458.3 1873.3 L1458.8 1874.5 L1459.2 1875.8 L1459.5 1877 L1459.7 1878.1 L1459.8 1879.2 L1459.7 1880.1 L1459.6 1880.9 L1459.3 1881.6 L1458.9 1882.2 L1458.4 1882.6" fill="none" stroke="#000" stroke-width="1.6"/>
<path d="M1383.2 1902.1 L1419.6 1881.2 L1420.1 1881 L1420.7 1880.9 L1421.3 1881 L1422 1881.3 L1422.7 1881.7 L1423.4 1882.2 L1424.2 1882.8 L1425 1883.6 L1425.7 1884.4 L1426.5 1885.4 L1427.2 1886.4 L1427.8 1887.4 L1428.4 1888.5 L1428.9 1889.6 L1429.3 1890.7 L1429.7 1891.8 L1430 1892.9 L1430.1 1893.8 L1430.2 1894.7 L1430.2 1895.6 L1430 1896.3 L1429.8 1896.9 L1429.5 1897.3 L1429.1 1897.7 L1392.6 1918.5 Z" fill="#fff" stroke="none" stroke-width="0" stroke-linejoin="round" stroke-linecap="round"/><path d="M1383.2 1902.1 L1419.6 1881.2 L1420.1 1881 L1420.7 1880.9 L1421.3 1881 L1422 1881.3 L1422.7 1881.7 L1423.4 1882.2 L1424.2 1882.8 L1425 1883.6 L1425.7 1884.4 L1426.5 1885.4 L1427.2 1886.4 L1427.8 1887.4 L1428.4 1888.5 L1428.9 1889.6 L1429.3 1890.7 L1429.7 1891.8 L1430 1892.9 L1430.1 1893.8 L1430.2 1894.7 L1430.2 1895.6 L1430 1896.3 L1429.8 1896.9 L1429.5 1897.3 L1429.1 1897.7 L1392.6 1918.5" fill="none" stroke="#000" stroke-width="2" stroke-linejoin="round"/><ellipse cx="1387.9" cy="1910.3" rx="4" ry="9.5" transform="rotate(-29.8 1387.9 1910.3)" fill="#fff" stroke="#000" stroke-width="2"/>
<path d="M1397.4 1915.8 L1385.3 1900.8 M1399.4 1914.7 L1387.3 1899.7 M1401.4 1913.5 L1389.3 1898.5 M1403.4 1912.4 L1391.3 1897.4 M1405.4 1911.2 L1393.3 1896.2 M1407.4 1910.1 L1395.3 1895.1 M1409.4 1908.9 L1397.3 1894 M1411.4 1907.8 L1399.3 1892.8 M1413.4 1906.7 L1401.3 1891.7 M1415.4 1905.5 L1403.3 1890.5 M1417.4 1904.4 L1405.3 1889.4 M1419.3 1903.2 L1407.3 1888.2 M1421.3 1902.1 L1409.3 1887.1 M1423.3 1900.9 L1411.3 1885.9 M1425.3 1899.8 L1413.3 1884.8 M1427.3 1898.7 L1415.3 1883.7 " fill="none" stroke="#000" stroke-width="1.9"/>
<ellipse cx="1387.9" cy="1910.3" rx="4" ry="9.5" transform="rotate(-29.8 1387.9 1910.3)" fill="#fff" stroke="#000" stroke-width="2"/>
<path d="M1463 2053 L1492.5 2036 L1493 2035.8 L1493.7 2035.8 L1494.4 2035.9 L1495.2 2036.2 L1496 2036.6 L1496.9 2037.2 L1497.8 2037.9 L1498.7 2038.8 L1499.5 2039.8 L1500.4 2040.9 L1501.2 2042 L1502 2043.3 L1502.6 2044.5 L1503.2 2045.8 L1503.8 2047.1 L1504.2 2048.3 L1504.5 2049.5 L1504.7 2050.7 L1504.7 2051.7 L1504.7 2052.7 L1504.6 2053.5 L1504.3 2054.2 L1503.9 2054.7 L1503.4 2055.1 L1474 2072.1 Z" fill="#fff" stroke="none" stroke-width="0" stroke-linejoin="round" stroke-linecap="round"/><path d="M1463 2053 L1492.5 2036 L1493 2035.8 L1493.7 2035.8 L1494.4 2035.9 L1495.2 2036.2 L1496 2036.6 L1496.9 2037.2 L1497.8 2037.9 L1498.7 2038.8 L1499.5 2039.8 L1500.4 2040.9 L1501.2 2042 L1502 2043.3 L1502.6 2044.5 L1503.2 2045.8 L1503.8 2047.1 L1504.2 2048.3 L1504.5 2049.5 L1504.7 2050.7 L1504.7 2051.7 L1504.7 2052.7 L1504.6 2053.5 L1504.3 2054.2 L1503.9 2054.7 L1503.4 2055.1 L1474 2072.1" fill="none" stroke="#000" stroke-width="2" stroke-linejoin="round"/><ellipse cx="1468.5" cy="2062.6" rx="4.6" ry="11" transform="rotate(-30 1468.5 2062.6)" fill="#fff" stroke="#000" stroke-width="2"/>
<path d="M1477 2070.3 L1463.4 2052.8 M1478.7 2069.4 L1465.1 2051.8 M1480.4 2068.4 L1466.8 2050.8 M1482.1 2067.4 L1468.5 2049.9 M1483.7 2066.5 L1470.2 2048.9 M1485.4 2065.5 L1471.8 2047.9 M1487.1 2064.5 L1473.5 2047 M1488.8 2063.6 L1475.2 2046 M1490.5 2062.6 L1476.9 2045 M1492.1 2061.6 L1478.5 2044.1 M1493.8 2060.7 L1480.2 2043.1 M1495.5 2059.7 L1481.9 2042.1 M1497.2 2058.7 L1483.6 2041.2 M1498.8 2057.8 L1485.3 2040.2 M1500.5 2056.8 L1486.9 2039.2 M1502.2 2055.8 L1488.6 2038.3 M1503.9 2054.9 L1490.3 2037.3 " fill="none" stroke="#000" stroke-width="2.6"/>
<path d="M1356.3 2116.3 L1465.5 2053.3 L1466 2053.1 L1466.5 2053.1 L1467.2 2053.2 L1467.8 2053.4 L1468.6 2053.8 L1469.3 2054.3 L1470.1 2055 L1470.9 2055.7 L1471.6 2056.6 L1472.3 2057.5 L1473 2058.5 L1473.7 2059.6 L1474.3 2060.7 L1474.8 2061.8 L1475.2 2062.9 L1475.6 2063.9 L1475.9 2065 L1476 2066 L1476.1 2066.9 L1476.1 2067.7 L1475.9 2068.4 L1475.7 2069 L1475.4 2069.5 L1475 2069.8 L1365.8 2132.7 Z" fill="#fff" stroke="none" stroke-width="0" stroke-linejoin="round" stroke-linecap="round"/><path d="M1356.3 2116.3 L1465.5 2053.3 L1466 2053.1 L1466.5 2053.1 L1467.2 2053.2 L1467.8 2053.4 L1468.6 2053.8 L1469.3 2054.3 L1470.1 2055 L1470.9 2055.7 L1471.6 2056.6 L1472.3 2057.5 L1473 2058.5 L1473.7 2059.6 L1474.3 2060.7 L1474.8 2061.8 L1475.2 2062.9 L1475.6 2063.9 L1475.9 2065 L1476 2066 L1476.1 2066.9 L1476.1 2067.7 L1475.9 2068.4 L1475.7 2069 L1475.4 2069.5 L1475 2069.8 L1365.8 2132.7" fill="none" stroke="#000" stroke-width="2" stroke-linejoin="round"/><ellipse cx="1361.1" cy="2124.5" rx="4" ry="9.5" transform="rotate(-30 1361.1 2124.5)" fill="#fff" stroke="#000" stroke-width="2"/>
<path d="M1392.7 2095.3 L1393.2 2095.1 L1393.8 2095 L1394.4 2095.1 L1395.1 2095.4 L1395.8 2095.8 L1396.5 2096.3 L1397.3 2096.9 L1398.1 2097.7 L1398.8 2098.5 L1399.6 2099.5 L1400.3 2100.5 L1400.9 2101.5 L1401.5 2102.6 L1402 2103.7 L1402.5 2104.8 L1402.8 2105.9 L1403.1 2106.9 L1403.3 2107.9 L1403.3 2108.8 L1403.3 2109.6 L1403.2 2110.4 L1402.9 2110.9 L1402.6 2111.4 L1402.2 2111.7" fill="none" stroke="#000" stroke-width="2.2"/>
<path d="M1397.9 2092.3 L1398.4 2092.1 L1399 2092.1 L1399.6 2092.2 L1400.3 2092.4 L1401 2092.8 L1401.7 2093.3 L1402.5 2093.9 L1403.3 2094.7 L1404 2095.5 L1404.8 2096.5 L1405.5 2097.5 L1406.1 2098.5 L1406.7 2099.6 L1407.2 2100.7 L1407.7 2101.8 L1408 2102.9 L1408.3 2103.9 L1408.5 2104.9 L1408.5 2105.8 L1408.5 2106.6 L1408.4 2107.4 L1408.1 2108 L1407.8 2108.4 L1407.4 2108.7" fill="none" stroke="#000" stroke-width="2.2"/>
<path d="M1403.1 2089.3 L1403.6 2089.1 L1404.2 2089.1 L1404.8 2089.2 L1405.5 2089.4 L1406.2 2089.8 L1406.9 2090.3 L1407.7 2090.9 L1408.5 2091.7 L1409.2 2092.5 L1410 2093.5 L1410.7 2094.5 L1411.3 2095.5 L1411.9 2096.6 L1412.4 2097.7 L1412.9 2098.8 L1413.2 2099.9 L1413.5 2100.9 L1413.7 2101.9 L1413.7 2102.8 L1413.7 2103.7 L1413.6 2104.4 L1413.3 2105 L1413 2105.4 L1412.6 2105.7" fill="none" stroke="#000" stroke-width="2.2"/>
<path d="M1372.8 2106.8 L1373.3 2106.6 L1373.8 2106.5 L1374.5 2106.6 L1375.2 2106.9 L1375.9 2107.3 L1376.6 2107.8 L1377.4 2108.4 L1378.2 2109.2 L1378.9 2110 L1379.6 2110.9 L1380.3 2112 L1381 2113 L1381.6 2114.1 L1382.1 2115.2 L1382.5 2116.3 L1382.9 2117.4 L1383.2 2118.4 L1383.3 2119.4 L1383.4 2120.3 L1383.4 2121.1 L1383.2 2121.8 L1383 2122.4 L1382.7 2122.9 L1382.3 2123.2" fill="none" stroke="#000" stroke-width="1.6"/>
<path d="M1322.7 2133.9 L1350.4 2118 L1351 2117.7 L1351.6 2117.7 L1352.3 2117.8 L1353.1 2118.1 L1354 2118.5 L1354.8 2119.1 L1355.7 2119.9 L1356.6 2120.7 L1357.5 2121.7 L1358.3 2122.8 L1359.1 2124 L1359.9 2125.2 L1360.6 2126.4 L1361.2 2127.7 L1361.7 2129 L1362.1 2130.3 L1362.4 2131.5 L1362.6 2132.6 L1362.7 2133.6 L1362.6 2134.6 L1362.5 2135.4 L1362.2 2136.1 L1361.8 2136.6 L1361.4 2137 L1333.6 2153 Z" fill="#fff" stroke="none" stroke-width="0" stroke-linejoin="round" stroke-linecap="round"/><path d="M1322.7 2133.9 L1350.4 2118 L1351 2117.7 L1351.6 2117.7 L1352.3 2117.8 L1353.1 2118.1 L1354 2118.5 L1354.8 2119.1 L1355.7 2119.9 L1356.6 2120.7 L1357.5 2121.7 L1358.3 2122.8 L1359.1 2124 L1359.9 2125.2 L1360.6 2126.4 L1361.2 2127.7 L1361.7 2129 L1362.1 2130.3 L1362.4 2131.5 L1362.6 2132.6 L1362.7 2133.6 L1362.6 2134.6 L1362.5 2135.4 L1362.2 2136.1 L1361.8 2136.6 L1361.4 2137 L1333.6 2153" fill="none" stroke="#000" stroke-width="2" stroke-linejoin="round"/><ellipse cx="1328.2" cy="2143.5" rx="4.6" ry="11" transform="rotate(-30 1328.2 2143.5)" fill="#fff" stroke="#000" stroke-width="2"/>
<path d="M1226.4 2191.2 L1325.1 2134.2 L1325.6 2134.1 L1326.2 2134 L1326.8 2134.1 L1327.5 2134.3 L1328.2 2134.7 L1329 2135.2 L1329.7 2135.9 L1330.5 2136.6 L1331.3 2137.5 L1332 2138.4 L1332.7 2139.4 L1333.3 2140.5 L1333.9 2141.6 L1334.5 2142.7 L1334.9 2143.8 L1335.3 2144.9 L1335.5 2145.9 L1335.7 2146.9 L1335.8 2147.8 L1335.7 2148.6 L1335.6 2149.3 L1335.4 2149.9 L1335 2150.4 L1334.6 2150.7 L1235.9 2207.6 Z" fill="#fff" stroke="none" stroke-width="0" stroke-linejoin="round" stroke-linecap="round"/><path d="M1226.4 2191.2 L1325.1 2134.2 L1325.6 2134.1 L1326.2 2134 L1326.8 2134.1 L1327.5 2134.3 L1328.2 2134.7 L1329 2135.2 L1329.7 2135.9 L1330.5 2136.6 L1331.3 2137.5 L1332 2138.4 L1332.7 2139.4 L1333.3 2140.5 L1333.9 2141.6 L1334.5 2142.7 L1334.9 2143.8 L1335.3 2144.9 L1335.5 2145.9 L1335.7 2146.9 L1335.8 2147.8 L1335.7 2148.6 L1335.6 2149.3 L1335.4 2149.9 L1335 2150.4 L1334.6 2150.7 L1235.9 2207.6" fill="none" stroke="#000" stroke-width="2" stroke-linejoin="round"/><ellipse cx="1231.1" cy="2199.4" rx="4" ry="9.5" transform="rotate(-30 1231.1 2199.4)" fill="#fff" stroke="#000" stroke-width="2"/>
<path d="M1273.2 2164.2 L1273.7 2164 L1274.2 2164 L1274.8 2164.1 L1275.5 2164.3 L1276.2 2164.7 L1277 2165.2 L1277.8 2165.9 L1278.5 2166.6 L1279.3 2167.5 L1280 2168.4 L1280.7 2169.4 L1281.4 2170.4 L1282 2171.5 L1282.5 2172.6 L1282.9 2173.7 L1283.3 2174.8 L1283.5 2175.9 L1283.7 2176.9 L1283.8 2177.8 L1283.7 2178.6 L1283.6 2179.3 L1283.4 2179.9 L1283.1 2180.3 L1282.7 2180.7" fill="none" stroke="#000" stroke-width="2.2"/>
<path d="M1278.4 2161.2 L1278.9 2161 L1279.4 2161 L1280 2161.1 L1280.7 2161.3 L1281.4 2161.7 L1282.2 2162.2 L1283 2162.9 L1283.7 2163.6 L1284.5 2164.5 L1285.2 2165.4 L1285.9 2166.4 L1286.6 2167.5 L1287.2 2168.5 L1287.7 2169.6 L1288.1 2170.8 L1288.5 2171.8 L1288.7 2172.9 L1288.9 2173.9 L1289 2174.8 L1288.9 2175.6 L1288.8 2176.3 L1288.6 2176.9 L1288.3 2177.3 L1287.8 2177.7" fill="none" stroke="#000" stroke-width="2.2"/>
<path d="M1283.6 2158.2 L1284 2158 L1284.6 2158 L1285.2 2158.1 L1285.9 2158.3 L1286.6 2158.7 L1287.4 2159.2 L1288.2 2159.9 L1288.9 2160.6 L1289.7 2161.5 L1290.4 2162.4 L1291.1 2163.4 L1291.8 2164.5 L1292.3 2165.5 L1292.9 2166.7 L1293.3 2167.8 L1293.7 2168.8 L1293.9 2169.9 L1294.1 2170.9 L1294.2 2171.8 L1294.1 2172.6 L1294 2173.3 L1293.8 2173.9 L1293.5 2174.3 L1293 2174.7" fill="none" stroke="#000" stroke-width="2.2"/>
<path d="M1255.8 2174.2 L1256.3 2174 L1256.9 2174 L1257.5 2174.1 L1258.2 2174.3 L1258.9 2174.7 L1259.7 2175.2 L1260.4 2175.8 L1261.2 2176.6 L1262 2177.4 L1262.7 2178.4 L1263.4 2179.4 L1264 2180.4 L1264.6 2181.5 L1265.1 2182.6 L1265.6 2183.7 L1265.9 2184.8 L1266.2 2185.9 L1266.4 2186.8 L1266.4 2187.7 L1266.4 2188.6 L1266.3 2189.3 L1266.1 2189.9 L1265.7 2190.3 L1265.3 2190.7" fill="none" stroke="#000" stroke-width="1.6"/>
<path d="M1333.1 2127.9 L1333.6 2127.7 L1334.3 2127.7 L1335 2127.8 L1335.8 2128.1 L1336.6 2128.5 L1337.5 2129.1 L1338.4 2129.8 L1339.3 2130.7 L1340.1 2131.7 L1341 2132.8 L1341.8 2133.9 L1342.6 2135.2 L1343.2 2136.4 L1343.8 2137.7 L1344.3 2139 L1344.8 2140.2 L1345.1 2141.4 L1345.3 2142.6 L1345.3 2143.6 L1345.3 2144.6 L1345.2 2145.4 L1344.9 2146.1 L1344.5 2146.6 L1344 2147" fill="none" stroke="#000" stroke-width="1.6"/>
<path d="M1203.1 2202.9 L1229.1 2187.9 L1229.7 2187.7 L1230.3 2187.6 L1231 2187.7 L1231.8 2188 L1232.7 2188.5 L1233.5 2189 L1234.4 2189.8 L1235.3 2190.7 L1236.2 2191.6 L1237 2192.7 L1237.8 2193.9 L1238.6 2195.1 L1239.3 2196.4 L1239.9 2197.7 L1240.4 2198.9 L1240.8 2200.2 L1241.1 2201.4 L1241.3 2202.5 L1241.4 2203.6 L1241.3 2204.5 L1241.2 2205.3 L1240.9 2206 L1240.6 2206.6 L1240.1 2206.9 L1214.1 2221.9 Z" fill="#fff" stroke="none" stroke-width="0" stroke-linejoin="round" stroke-linecap="round"/><path d="M1203.1 2202.9 L1229.1 2187.9 L1229.7 2187.7 L1230.3 2187.6 L1231 2187.7 L1231.8 2188 L1232.7 2188.5 L1233.5 2189 L1234.4 2189.8 L1235.3 2190.7 L1236.2 2191.6 L1237 2192.7 L1237.8 2193.9 L1238.6 2195.1 L1239.3 2196.4 L1239.9 2197.7 L1240.4 2198.9 L1240.8 2200.2 L1241.1 2201.4 L1241.3 2202.5 L1241.4 2203.6 L1241.3 2204.5 L1241.2 2205.3 L1240.9 2206 L1240.6 2206.6 L1240.1 2206.9 L1214.1 2221.9" fill="none" stroke="#000" stroke-width="2" stroke-linejoin="round"/><ellipse cx="1208.6" cy="2212.4" rx="4.6" ry="11" transform="rotate(-30 1208.6 2212.4)" fill="#fff" stroke="#000" stroke-width="2"/>
<path d="M1218 2219.7 L1204.4 2202.1 M1219.6 2218.8 L1206 2201.2 M1221.2 2217.8 L1207.6 2200.3 M1222.8 2216.9 L1209.2 2199.3 M1224.4 2216 L1210.8 2198.4 M1226 2215 L1212.4 2197.5 M1227.6 2214.1 L1214.1 2196.6 M1229.3 2213.2 L1215.7 2195.6 M1230.9 2212.3 L1217.3 2194.7 M1232.5 2211.3 L1218.9 2193.8 M1234.1 2210.4 L1220.5 2192.8 M1235.7 2209.5 L1222.1 2191.9 M1237.3 2208.6 L1223.7 2191 M1238.9 2207.6 L1225.3 2190.1 M1240.5 2206.7 L1226.9 2189.1 " fill="none" stroke="#000" stroke-width="2.6"/>
<ellipse cx="1208.6" cy="2212.4" rx="4.6" ry="11" transform="rotate(-30 1208.6 2212.4)" fill="#fff" stroke="#000" stroke-width="2"/>
<path d="M1525.2 1982.3 L1561.6 1961.4 L1564.6 1960.1 L1567.9 1959.4 L1571.4 1959.4 L1575 1959.9 L1578.8 1961.1 L1582.7 1962.9 L1586.5 1965.3 L1590.2 1968.1 L1593.8 1971.5 L1597.1 1975.3 L1600.2 1979.4 L1603 1983.9 L1605.4 1988.5 L1607.4 1993.3 L1609 1998.1 L1610 2002.9 L1610.6 2007.5 L1610.7 2012 L1610.3 2016.2 L1609.4 2020.1 L1608 2023.5 L1606.2 2026.5 L1604 2029 L1601.3 2030.9 L1564.8 2051.7 Z" fill="#fff" stroke="none" stroke-width="0" stroke-linejoin="round" stroke-linecap="round"/><path d="M1525.2 1982.3 L1561.6 1961.4 L1564.6 1960.1 L1567.9 1959.4 L1571.4 1959.4 L1575 1959.9 L1578.8 1961.1 L1582.7 1962.9 L1586.5 1965.3 L1590.2 1968.1 L1593.8 1971.5 L1597.1 1975.3 L1600.2 1979.4 L1603 1983.9 L1605.4 1988.5 L1607.4 1993.3 L1609 1998.1 L1610 2002.9 L1610.6 2007.5 L1610.7 2012 L1610.3 2016.2 L1609.4 2020.1 L1608 2023.5 L1606.2 2026.5 L1604 2029 L1601.3 2030.9 L1564.8 2051.7" fill="none" stroke="#000" stroke-width="2" stroke-linejoin="round"/><ellipse cx="1545" cy="2017" rx="24.8" ry="40" transform="rotate(-29.7 1545 2017)" fill="#fff" stroke="#000" stroke-width="2"/>
<ellipse cx="1576" cy="1985.7" rx="8.8" ry="11" transform="rotate(-25 1576 1985.7)" fill="#fff" stroke="#000" stroke-width="2"/>
<ellipse cx="1589.5" cy="2010.5" rx="8.4" ry="10.5" transform="rotate(-25 1589.5 2010.5)" fill="#fff" stroke="#000" stroke-width="2"/>
<ellipse cx="1587.6" cy="2041" rx="7.2" ry="9" transform="rotate(-25 1587.6 2041)" fill="#fff" stroke="#000" stroke-width="2"/>
<ellipse cx="1548" cy="1970.5" rx="5.6" ry="7" transform="rotate(-25 1548 1970.5)" fill="#fff" stroke="#000" stroke-width="2"/>
<ellipse cx="1545" cy="2017" rx="24.8" ry="40" transform="rotate(-29.7 1545 2017)" fill="#fff" stroke="#000" stroke-width="2.2"/>
<ellipse cx="1545" cy="2017" rx="20.5" ry="33" transform="rotate(-29.7 1545 2017)" fill="#fff" stroke="#000" stroke-width="1.6"/>
<ellipse cx="1546.7" cy="2016" rx="14.9" ry="24" transform="rotate(-29.7 1546.7 2016)" fill="#fff" stroke="#000" stroke-width="2.6"/>
<ellipse cx="1548.5" cy="2015" rx="11.2" ry="18" transform="rotate(-29.7 1548.5 2015)" fill="#fff" stroke="#000" stroke-width="1.6"/>
<path d="M1735.9 1902.6 L1791.5 1870.8 L1792.1 1870.5 L1792.7 1870.4 L1793.4 1870.5 L1794.2 1870.6 L1795 1870.9 L1795.8 1871.4 L1796.6 1871.9 L1797.4 1872.6 L1798.2 1873.4 L1798.9 1874.2 L1799.6 1875.2 L1800.2 1876.2 L1800.8 1877.2 L1801.2 1878.3 L1801.6 1879.3 L1801.9 1880.4 L1802 1881.4 L1802.1 1882.4 L1802.1 1883.3 L1801.9 1884.2 L1801.7 1884.9 L1801.3 1885.5 L1800.9 1886 L1800.4 1886.4 L1744.8 1918.2 Z" fill="#fff" stroke="none" stroke-width="0" stroke-linejoin="round" stroke-linecap="round"/><path d="M1735.9 1902.6 L1791.5 1870.8 L1792.1 1870.5 L1792.7 1870.4 L1793.4 1870.5 L1794.2 1870.6 L1795 1870.9 L1795.8 1871.4 L1796.6 1871.9 L1797.4 1872.6 L1798.2 1873.4 L1798.9 1874.2 L1799.6 1875.2 L1800.2 1876.2 L1800.8 1877.2 L1801.2 1878.3 L1801.6 1879.3 L1801.9 1880.4 L1802 1881.4 L1802.1 1882.4 L1802.1 1883.3 L1801.9 1884.2 L1801.7 1884.9 L1801.3 1885.5 L1800.9 1886 L1800.4 1886.4 L1744.8 1918.2" fill="none" stroke="#000" stroke-width="2" stroke-linejoin="round"/><ellipse cx="1740.4" cy="1910.4" rx="5" ry="9" transform="rotate(-29.7 1740.4 1910.4)" fill="#fff" stroke="#000" stroke-width="2"/>
<path d="M1768.7 1904.5 L1757.2 1890.4 M1770.7 1903.4 L1759.2 1889.3 M1772.7 1902.2 L1761.2 1888.1 M1774.7 1901.1 L1763.2 1887 M1776.7 1900 L1765.2 1885.8 M1778.7 1898.8 L1767.2 1884.7 M1780.7 1897.7 L1769.2 1883.5 M1782.7 1896.5 L1771.2 1882.4 M1784.8 1895.4 L1773.2 1881.2 M1786.8 1894.2 L1775.2 1880.1 M1788.8 1893.1 L1777.2 1878.9 M1790.8 1891.9 L1779.2 1877.8 M1792.8 1890.8 L1781.3 1876.6 M1794.8 1889.6 L1783.3 1875.5 M1796.8 1888.5 L1785.3 1874.3 M1798.8 1887.3 L1787.3 1873.2 M1800.8 1886.2 L1789.3 1872 " fill="none" stroke="#000" stroke-width="2.6"/>
<path d="M1743.7 1898.1 L1744.3 1897.8 L1745 1897.7 L1745.7 1897.7 L1746.4 1897.9 L1747.2 1898.2 L1748 1898.6 L1748.9 1899.2 L1749.7 1899.9 L1750.4 1900.6 L1751.2 1901.5 L1751.8 1902.5 L1752.5 1903.4 L1753 1904.5 L1753.5 1905.6 L1753.8 1906.6 L1754.1 1907.7 L1754.3 1908.7 L1754.4 1909.7 L1754.3 1910.6 L1754.2 1911.4 L1753.9 1912.2 L1753.6 1912.8 L1753.2 1913.3 L1752.6 1913.7" fill="none" stroke="#000" stroke-width="1.6"/>
<path d="M1749.8 1894.6 L1750.4 1894.4 L1751 1894.2 L1751.8 1894.3 L1752.5 1894.4 L1753.3 1894.7 L1754.1 1895.2 L1754.9 1895.7 L1755.7 1896.4 L1756.5 1897.2 L1757.2 1898 L1757.9 1899 L1758.5 1900 L1759.1 1901 L1759.6 1902.1 L1759.9 1903.2 L1760.2 1904.2 L1760.4 1905.2 L1760.4 1906.2 L1760.4 1907.1 L1760.3 1908 L1760 1908.7 L1759.7 1909.3 L1759.2 1909.9 L1758.7 1910.2" fill="none" stroke="#000" stroke-width="1.6"/>
<path d="M1721 1908.8 L1738.4 1898.8 L1739.1 1898.5 L1739.9 1898.4 L1740.8 1898.4 L1741.7 1898.6 L1742.7 1899 L1743.7 1899.5 L1744.7 1900.2 L1745.6 1901 L1746.6 1902 L1747.5 1903 L1748.3 1904.2 L1749.1 1905.4 L1749.7 1906.7 L1750.3 1908 L1750.8 1909.3 L1751.1 1910.6 L1751.3 1911.8 L1751.4 1913 L1751.4 1914.1 L1751.2 1915.2 L1750.9 1916.1 L1750.5 1916.8 L1749.9 1917.5 L1749.3 1917.9 L1731.9 1927.9 Z" fill="#fff" stroke="none" stroke-width="0" stroke-linejoin="round" stroke-linecap="round"/><path d="M1721 1908.8 L1738.4 1898.8 L1739.1 1898.5 L1739.9 1898.4 L1740.8 1898.4 L1741.7 1898.6 L1742.7 1899 L1743.7 1899.5 L1744.7 1900.2 L1745.6 1901 L1746.6 1902 L1747.5 1903 L1748.3 1904.2 L1749.1 1905.4 L1749.7 1906.7 L1750.3 1908 L1750.8 1909.3 L1751.1 1910.6 L1751.3 1911.8 L1751.4 1913 L1751.4 1914.1 L1751.2 1915.2 L1750.9 1916.1 L1750.5 1916.8 L1749.9 1917.5 L1749.3 1917.9 L1731.9 1927.9" fill="none" stroke="#000" stroke-width="2" stroke-linejoin="round"/><ellipse cx="1726.5" cy="1918.3" rx="6.1" ry="11" transform="rotate(-29.7 1726.5 1918.3)" fill="#fff" stroke="#000" stroke-width="2"/>
<path d="M1686.9 1899.5 L1721 1900.7 L1722.2 1900.2 L1723.5 1900 L1725 1900 L1726.5 1900.3 L1728.1 1900.9 L1729.7 1901.8 L1731.3 1902.9 L1732.9 1904.3 L1734.5 1905.8 L1735.9 1907.5 L1737.3 1909.4 L1738.5 1911.4 L1739.6 1913.5 L1740.5 1915.6 L1741.3 1917.8 L1741.8 1919.9 L1742.2 1921.9 L1742.3 1923.9 L1742.3 1925.7 L1742 1927.4 L1741.5 1928.9 L1740.8 1930.1 L1739.9 1931.2 L1738.9 1932 L1722.6 1962 Z" fill="#fff" stroke="none" stroke-width="0" stroke-linejoin="round" stroke-linecap="round"/><path d="M1686.9 1899.5 L1721 1900.7 L1722.2 1900.2 L1723.5 1900 L1725 1900 L1726.5 1900.3 L1728.1 1900.9 L1729.7 1901.8 L1731.3 1902.9 L1732.9 1904.3 L1734.5 1905.8 L1735.9 1907.5 L1737.3 1909.4 L1738.5 1911.4 L1739.6 1913.5 L1740.5 1915.6 L1741.3 1917.8 L1741.8 1919.9 L1742.2 1921.9 L1742.3 1923.9 L1742.3 1925.7 L1742 1927.4 L1741.5 1928.9 L1740.8 1930.1 L1739.9 1931.2 L1738.9 1932 L1722.6 1962" fill="none" stroke="#000" stroke-width="2" stroke-linejoin="round"/><ellipse cx="1704.8" cy="1930.7" rx="19.8" ry="36" transform="rotate(-29.7 1704.8 1930.7)" fill="#fff" stroke="#000" stroke-width="2"/>
<path d="M1637.2 1923.3 L1689.2 1893.5 L1691.9 1892.4 L1694.9 1891.9 L1698.1 1892 L1701.5 1892.7 L1705 1894 L1708.6 1896 L1712.2 1898.4 L1715.7 1901.4 L1719.1 1904.9 L1722.4 1908.7 L1725.4 1912.9 L1728.2 1917.3 L1730.6 1921.9 L1732.7 1926.7 L1734.3 1931.4 L1735.6 1936.1 L1736.3 1940.7 L1736.6 1945.1 L1736.5 1949.1 L1735.8 1952.9 L1734.7 1956.1 L1733.2 1959 L1731.3 1961.2 L1728.9 1963 L1676.8 1992.7 Z" fill="#fff" stroke="none" stroke-width="0" stroke-linejoin="round" stroke-linecap="round"/><path d="M1637.2 1923.3 L1689.2 1893.5 L1691.9 1892.4 L1694.9 1891.9 L1698.1 1892 L1701.5 1892.7 L1705 1894 L1708.6 1896 L1712.2 1898.4 L1715.7 1901.4 L1719.1 1904.9 L1722.4 1908.7 L1725.4 1912.9 L1728.2 1917.3 L1730.6 1921.9 L1732.7 1926.7 L1734.3 1931.4 L1735.6 1936.1 L1736.3 1940.7 L1736.6 1945.1 L1736.5 1949.1 L1735.8 1952.9 L1734.7 1956.1 L1733.2 1959 L1731.3 1961.2 L1728.9 1963 L1676.8 1992.7" fill="none" stroke="#000" stroke-width="2" stroke-linejoin="round"/><ellipse cx="1657" cy="1958" rx="22" ry="40" transform="rotate(-29.7 1657 1958)" fill="#fff" stroke="#000" stroke-width="2"/>
<path d="M1645.8 1918.3 L1648.5 1917.2 L1651.5 1916.7 L1654.7 1916.8 L1658 1917.5 L1661.6 1918.8 L1665.2 1920.8 L1668.8 1923.2 L1672.3 1926.2 L1675.7 1929.7 L1679 1933.5 L1682 1937.7 L1684.8 1942.1 L1687.2 1946.8 L1689.3 1951.5 L1690.9 1956.2 L1692.1 1961 L1692.9 1965.5 L1693.2 1969.9 L1693.1 1973.9 L1692.4 1977.7 L1691.3 1980.9 L1689.8 1983.8 L1687.9 1986 L1685.5 1987.8" fill="none" stroke="#000" stroke-width="2.4"/>
<path d="M1651 1915.3 L1653.7 1914.2 L1656.7 1913.7 L1659.9 1913.8 L1663.3 1914.5 L1666.8 1915.9 L1670.4 1917.8 L1674 1920.3 L1677.5 1923.2 L1680.9 1926.7 L1684.2 1930.5 L1687.2 1934.7 L1690 1939.1 L1692.4 1943.8 L1694.5 1948.5 L1696.1 1953.3 L1697.4 1958 L1698.1 1962.5 L1698.4 1966.9 L1698.3 1971 L1697.6 1974.7 L1696.5 1978 L1695 1980.8 L1693.1 1983.1 L1690.7 1984.8" fill="none" stroke="#000" stroke-width="2.4"/>
<path d="M1671.9 1903.4 L1674.5 1902.3 L1677.5 1901.8 L1680.7 1901.9 L1684.1 1902.6 L1687.6 1904 L1691.2 1905.9 L1694.8 1908.4 L1698.3 1911.3 L1701.8 1914.8 L1705 1918.6 L1708.1 1922.8 L1710.8 1927.2 L1713.3 1931.9 L1715.3 1936.6 L1717 1941.4 L1718.2 1946.1 L1719 1950.6 L1719.3 1955 L1719.1 1959.1 L1718.5 1962.8 L1717.4 1966.1 L1715.8 1968.9 L1713.9 1971.2 L1711.6 1972.9" fill="none" stroke="#000" stroke-width="1.6"/>
<ellipse cx="1657" cy="1958" rx="22" ry="40" transform="rotate(-29.7 1657 1958)" fill="#fff" stroke="#000" stroke-width="2.4"/>
<ellipse cx="1657" cy="1958" rx="18.7" ry="34" transform="rotate(-29.7 1657 1958)" fill="#fff" stroke="#000" stroke-width="2"/>
<ellipse cx="1660.5" cy="1956" rx="16" ry="29" transform="rotate(-29.7 1660.5 1956)" fill="#fff" stroke="#000" stroke-width="1.6"/>
<path d="M1065.6 2243 L1107 2224.9 L1109.3 2224.1 L1111.9 2223.9 L1114.8 2224.4 L1118 2225.6 L1121.3 2227.5 L1124.7 2229.9 L1128.1 2233 L1131.6 2236.5 L1135 2240.5 L1138.3 2244.9 L1141.4 2249.7 L1144.3 2254.6 L1147 2259.7 L1149.2 2264.9 L1151.2 2270.1 L1152.7 2275.1 L1153.8 2280 L1154.5 2284.5 L1154.7 2288.7 L1154.5 2292.5 L1153.8 2295.8 L1152.7 2298.5 L1151.2 2300.6 L1149.2 2302.1 L1111.6 2327.2 Z" fill="#fff" stroke="none" stroke-width="0" stroke-linejoin="round" stroke-linecap="round"/><path d="M1065.6 2243 L1107 2224.9 L1109.3 2224.1 L1111.9 2223.9 L1114.8 2224.4 L1118 2225.6 L1121.3 2227.5 L1124.7 2229.9 L1128.1 2233 L1131.6 2236.5 L1135 2240.5 L1138.3 2244.9 L1141.4 2249.7 L1144.3 2254.6 L1147 2259.7 L1149.2 2264.9 L1151.2 2270.1 L1152.7 2275.1 L1153.8 2280 L1154.5 2284.5 L1154.7 2288.7 L1154.5 2292.5 L1153.8 2295.8 L1152.7 2298.5 L1151.2 2300.6 L1149.2 2302.1 L1111.6 2327.2" fill="none" stroke="#000" stroke-width="2" stroke-linejoin="round"/><ellipse cx="1088.6" cy="2285.1" rx="20.2" ry="48" transform="rotate(-28.7 1088.6 2285.1)" fill="#fff" stroke="#000" stroke-width="2"/>
<path d="M1083.2 2233.4 L1085.7 2232.5 L1088.5 2232.3 L1091.7 2232.9 L1095.1 2234.2 L1098.7 2236.2 L1102.4 2238.9 L1106.2 2242.2 L1110 2246 L1113.7 2250.4 L1117.3 2255.2 L1120.7 2260.4 L1123.9 2265.8 L1126.7 2271.4 L1129.2 2277 L1131.3 2282.7 L1133 2288.2 L1134.2 2293.5 L1135 2298.4 L1135.2 2303 L1135 2307.1 L1134.2 2310.7 L1133 2313.7 L1131.3 2316 L1129.2 2317.6" fill="none" stroke="#000" stroke-width="2.4"/>
<path d="M1090.7 2230.4 L1093.1 2229.5 L1095.9 2229.4 L1099 2229.9 L1102.3 2231.2 L1105.9 2233.2 L1109.5 2235.8 L1113.2 2239 L1116.9 2242.8 L1120.6 2247.1 L1124.1 2251.8 L1127.4 2256.9 L1130.5 2262.2 L1133.3 2267.6 L1135.8 2273.2 L1137.8 2278.7 L1139.5 2284.1 L1140.7 2289.2 L1141.4 2294.1 L1141.6 2298.6 L1141.4 2302.6 L1140.7 2306.1 L1139.5 2309 L1137.8 2311.3 L1135.7 2312.9" fill="none" stroke="#000" stroke-width="2.4"/>
<path d="M1045 2267.9 L1067.4 2242 L1069.9 2241.1 L1072.7 2240.9 L1075.9 2241.5 L1079.3 2242.8 L1082.9 2244.8 L1086.6 2247.5 L1090.4 2250.8 L1094.2 2254.7 L1097.9 2259.1 L1101.5 2263.9 L1104.9 2269 L1108.1 2274.4 L1110.9 2280 L1113.4 2285.7 L1115.5 2291.3 L1117.2 2296.8 L1118.4 2302.1 L1119.2 2307.1 L1119.4 2311.6 L1119.2 2315.8 L1118.4 2319.3 L1117.2 2322.3 L1115.5 2324.6 L1113.4 2326.2 L1079.6 2331 Z" fill="#fff" stroke="none" stroke-width="0" stroke-linejoin="round" stroke-linecap="round"/><path d="M1045 2267.9 L1067.4 2242 L1069.9 2241.1 L1072.7 2240.9 L1075.9 2241.5 L1079.3 2242.8 L1082.9 2244.8 L1086.6 2247.5 L1090.4 2250.8 L1094.2 2254.7 L1097.9 2259.1 L1101.5 2263.9 L1104.9 2269 L1108.1 2274.4 L1110.9 2280 L1113.4 2285.7 L1115.5 2291.3 L1117.2 2296.8 L1118.4 2302.1 L1119.2 2307.1 L1119.4 2311.6 L1119.2 2315.8 L1118.4 2319.3 L1117.2 2322.3 L1115.5 2324.6 L1113.4 2326.2 L1079.6 2331" fill="none" stroke="#000" stroke-width="2" stroke-linejoin="round"/><ellipse cx="1062.3" cy="2299.5" rx="15.1" ry="36" transform="rotate(-28.7 1062.3 2299.5)" fill="#fff" stroke="#000" stroke-width="2"/>
<path d="M1038.6 2287.3 L1056.1 2277.8 L1057.3 2277.3 L1058.6 2277.3 L1060 2277.5 L1061.6 2278.1 L1063.3 2279 L1065 2280.3 L1066.7 2281.8 L1068.4 2283.6 L1070.1 2285.6 L1071.8 2287.8 L1073.4 2290.1 L1074.8 2292.6 L1076.1 2295.2 L1077.3 2297.8 L1078.2 2300.4 L1079 2302.9 L1079.5 2305.3 L1079.9 2307.6 L1080 2309.7 L1079.9 2311.6 L1079.5 2313.2 L1079 2314.6 L1078.2 2315.6 L1077.2 2316.4 L1059.7 2326 Z" fill="#fff" stroke="none" stroke-width="0" stroke-linejoin="round" stroke-linecap="round"/><path d="M1038.6 2287.3 L1056.1 2277.8 L1057.3 2277.3 L1058.6 2277.3 L1060 2277.5 L1061.6 2278.1 L1063.3 2279 L1065 2280.3 L1066.7 2281.8 L1068.4 2283.6 L1070.1 2285.6 L1071.8 2287.8 L1073.4 2290.1 L1074.8 2292.6 L1076.1 2295.2 L1077.3 2297.8 L1078.2 2300.4 L1079 2302.9 L1079.5 2305.3 L1079.9 2307.6 L1080 2309.7 L1079.9 2311.6 L1079.5 2313.2 L1079 2314.6 L1078.2 2315.6 L1077.2 2316.4 L1059.7 2326" fill="none" stroke="#000" stroke-width="2" stroke-linejoin="round"/><ellipse cx="1049.1" cy="2306.6" rx="9.2" ry="22" transform="rotate(-28.7 1049.1 2306.6)" fill="#fff" stroke="#000" stroke-width="2"/>
<ellipse cx="1053.5" cy="2304.3" rx="7.6" ry="18" transform="rotate(-28.7 1053.5 2304.3)" fill="#fff" stroke="#000" stroke-width="2.4"/>
<path d="M1000 2321 L1046.5 2295.6 L1047.1 2295.4 L1047.7 2295.3 L1048.5 2295.4 L1049.2 2295.7 L1050.1 2296.2 L1050.9 2296.8 L1051.8 2297.6 L1052.6 2298.5 L1053.5 2299.5 L1054.3 2300.6 L1055.1 2301.8 L1055.8 2303 L1056.5 2304.3 L1057.1 2305.6 L1057.5 2306.9 L1057.9 2308.1 L1058.2 2309.3 L1058.4 2310.5 L1058.4 2311.5 L1058.4 2312.5 L1058.2 2313.3 L1057.9 2314 L1057.5 2314.5 L1057 2314.9 L1010.5 2340.3 Z" fill="#fff" stroke="none" stroke-width="0" stroke-linejoin="round" stroke-linecap="round"/><path d="M1000 2321 L1046.5 2295.6 L1047.1 2295.4 L1047.7 2295.3 L1048.5 2295.4 L1049.2 2295.7 L1050.1 2296.2 L1050.9 2296.8 L1051.8 2297.6 L1052.6 2298.5 L1053.5 2299.5 L1054.3 2300.6 L1055.1 2301.8 L1055.8 2303 L1056.5 2304.3 L1057.1 2305.6 L1057.5 2306.9 L1057.9 2308.1 L1058.2 2309.3 L1058.4 2310.5 L1058.4 2311.5 L1058.4 2312.5 L1058.2 2313.3 L1057.9 2314 L1057.5 2314.5 L1057 2314.9 L1010.5 2340.3" fill="none" stroke="#000" stroke-width="2" stroke-linejoin="round"/><ellipse cx="1005.3" cy="2330.6" rx="4.6" ry="11" transform="rotate(-28.7 1005.3 2330.6)" fill="#fff" stroke="#000" stroke-width="2"/>
<path d="M1017.5 2311.4 L1018.1 2311.2 L1018.8 2311.1 L1019.5 2311.3 L1020.3 2311.6 L1021.1 2312 L1022 2312.6 L1022.8 2313.4 L1023.7 2314.3 L1024.5 2315.3 L1025.4 2316.4 L1026.1 2317.6 L1026.9 2318.8 L1027.5 2320.1 L1028.1 2321.4 L1028.6 2322.7 L1029 2323.9 L1029.2 2325.2 L1029.4 2326.3 L1029.5 2327.3 L1029.4 2328.3 L1029.2 2329.1 L1029 2329.8 L1028.6 2330.3 L1028.1 2330.7" fill="none" stroke="#000" stroke-width="1.6"/>
<path d="M968.8 2336.9 L1003.9 2317.7 L1004.5 2317.5 L1005.2 2317.4 L1006 2317.6 L1006.9 2317.9 L1007.8 2318.4 L1008.7 2319.1 L1009.7 2319.9 L1010.6 2320.9 L1011.5 2322 L1012.4 2323.2 L1013.3 2324.5 L1014.1 2325.8 L1014.8 2327.2 L1015.4 2328.6 L1015.9 2330 L1016.4 2331.4 L1016.7 2332.7 L1016.8 2334 L1016.9 2335.1 L1016.8 2336.1 L1016.7 2337 L1016.4 2337.8 L1015.9 2338.4 L1015.4 2338.8 L980.3 2357.9 Z" fill="#fff" stroke="none" stroke-width="0" stroke-linejoin="round" stroke-linecap="round"/><path d="M968.8 2336.9 L1003.9 2317.7 L1004.5 2317.5 L1005.2 2317.4 L1006 2317.6 L1006.9 2317.9 L1007.8 2318.4 L1008.7 2319.1 L1009.7 2319.9 L1010.6 2320.9 L1011.5 2322 L1012.4 2323.2 L1013.3 2324.5 L1014.1 2325.8 L1014.8 2327.2 L1015.4 2328.6 L1015.9 2330 L1016.4 2331.4 L1016.7 2332.7 L1016.8 2334 L1016.9 2335.1 L1016.8 2336.1 L1016.7 2337 L1016.4 2337.8 L1015.9 2338.4 L1015.4 2338.8 L980.3 2357.9" fill="none" stroke="#000" stroke-width="2" stroke-linejoin="round"/><ellipse cx="974.6" cy="2347.4" rx="5" ry="12" transform="rotate(-28.7 974.6 2347.4)" fill="#fff" stroke="#000" stroke-width="2"/>
<path d="M985.1 2355.3 L971 2335.7 M987.3 2354.1 L973.1 2334.5 M989.4 2353 L975.3 2333.4 M991.5 2351.8 L977.4 2332.2 M993.7 2350.6 L979.5 2331 M995.8 2349.5 L981.6 2329.9 M997.9 2348.3 L983.8 2328.7 M1000 2347.2 L985.9 2327.5 M1002.2 2346 L988 2326.4 M1004.3 2344.8 L990.2 2325.2 M1006.4 2343.7 L992.3 2324 M1008.6 2342.5 L994.4 2322.9 M1010.7 2341.3 L996.6 2321.7 M1012.8 2340.2 L998.7 2320.5 M1015 2339 L1000.8 2319.4 " fill="none" stroke="#000" stroke-width="2.6"/>
<path d="M953.4 2350.4 L972.7 2339.9 L973.1 2339.7 L973.5 2339.7 L974 2339.8 L974.6 2340 L975.1 2340.3 L975.7 2340.7 L976.3 2341.2 L976.9 2341.9 L977.5 2342.5 L978 2343.3 L978.6 2344.1 L979.1 2344.9 L979.5 2345.8 L979.9 2346.7 L980.2 2347.6 L980.5 2348.4 L980.7 2349.3 L980.8 2350 L980.8 2350.8 L980.8 2351.4 L980.7 2352 L980.5 2352.4 L980.2 2352.8 L979.9 2353 L960.6 2363.6 Z" fill="#fff" stroke="none" stroke-width="0" stroke-linejoin="round" stroke-linecap="round"/><path d="M953.4 2350.4 L972.7 2339.9 L973.1 2339.7 L973.5 2339.7 L974 2339.8 L974.6 2340 L975.1 2340.3 L975.7 2340.7 L976.3 2341.2 L976.9 2341.9 L977.5 2342.5 L978 2343.3 L978.6 2344.1 L979.1 2344.9 L979.5 2345.8 L979.9 2346.7 L980.2 2347.6 L980.5 2348.4 L980.7 2349.3 L980.8 2350 L980.8 2350.8 L980.8 2351.4 L980.7 2352 L980.5 2352.4 L980.2 2352.8 L979.9 2353 L960.6 2363.6" fill="none" stroke="#000" stroke-width="2" stroke-linejoin="round"/><ellipse cx="957" cy="2357" rx="3.1" ry="7.5" transform="rotate(-28.7 957 2357)" fill="#fff" stroke="#000" stroke-width="2"/>
<path d="M965.4 2360.9 L955.6 2349.2 M968.2 2359.4 L958.4 2347.7 M971 2357.9 L961.2 2346.2 M973.8 2356.3 L964 2344.6 M976.7 2354.8 L966.8 2343.1 M979.5 2353.3 L969.6 2341.5 " fill="none" stroke="#000" stroke-width="1.8"/>
<ellipse cx="957" cy="2357" rx="3.1" ry="7.5" transform="rotate(-28.7 957 2357)" fill="#fff" stroke="#000" stroke-width="2"/>
<ellipse cx="975" cy="897" rx="29.9" ry="36.9" transform="rotate(-22 975 897)" fill="#fff" stroke="#000" stroke-width="2.2"/><path d="M982.5 934.9 L991.5 929.9 L958.5 864.1 L949.5 869.1 Z" fill="#fff" stroke="none"/><path d="M982.5 934.9 L991.5 929.9 M949.5 869.1 L958.5 864.1" fill="none" stroke="#000" stroke-width="2.2"/><ellipse cx="966" cy="902" rx="29.9" ry="36.9" transform="rotate(-22 966 902)" fill="#fff" stroke="#000" stroke-width="2.4"/>
<ellipse cx="966" cy="902" rx="27.8" ry="34.3" transform="rotate(-22 966 902)" fill="none" stroke="#000" stroke-width="1.4"/>
<ellipse cx="966" cy="902" rx="23.3" ry="28.8" transform="rotate(-22 966 902)" fill="none" stroke="#000" stroke-width="7.8"/>
<circle cx="989.9" cy="901.9" r="2.1" fill="#fff" stroke="none"/>
<circle cx="987.4" cy="918.4" r="2.1" fill="#fff" stroke="none"/>
<circle cx="976.8" cy="928.7" r="2.1" fill="#fff" stroke="none"/>
<circle cx="962" cy="928.7" r="2.1" fill="#fff" stroke="none"/>
<circle cx="948.7" cy="918.6" r="2.1" fill="#fff" stroke="none"/>
<circle cx="942.1" cy="902.1" r="2.1" fill="#fff" stroke="none"/>
<circle cx="944.6" cy="885.6" r="2.1" fill="#fff" stroke="none"/>
<circle cx="955.2" cy="875.3" r="2.1" fill="#fff" stroke="none"/>
<circle cx="970" cy="875.3" r="2.1" fill="#fff" stroke="none"/>
<circle cx="983.3" cy="885.4" r="2.1" fill="#fff" stroke="none"/>
<ellipse cx="967" cy="901.5" rx="18" ry="22.1" transform="rotate(-22 967 901.5)" fill="#fff" stroke="#000" stroke-width="1.6"/>
<ellipse cx="968" cy="901" rx="15" ry="19.2" transform="rotate(-22 968 901)" fill="#fff" stroke="#000" stroke-width="2.4"/>
<ellipse cx="1113" cy="1955" rx="28.7" ry="37.1" transform="rotate(-22 1113 1955)" fill="#fff" stroke="#000" stroke-width="2.2"/><path d="M1120.4 1993.2 L1129.4 1988.2 L1096.6 1921.8 L1087.6 1926.8 Z" fill="#fff" stroke="none"/><path d="M1120.4 1993.2 L1129.4 1988.2 M1087.6 1926.8 L1096.6 1921.8" fill="none" stroke="#000" stroke-width="2.2"/><ellipse cx="1104" cy="1960" rx="28.7" ry="37.1" transform="rotate(-22 1104 1960)" fill="#fff" stroke="#000" stroke-width="2.4"/>
<ellipse cx="1104" cy="1960" rx="26.7" ry="34.5" transform="rotate(-22 1104 1960)" fill="none" stroke="#000" stroke-width="1.4"/>
<ellipse cx="1104" cy="1960" rx="22.4" ry="28.9" transform="rotate(-22 1104 1960)" fill="none" stroke="#000" stroke-width="7.5"/>
<circle cx="1127.1" cy="1960.3" r="2" fill="#fff" stroke="none"/>
<circle cx="1125" cy="1976.8" r="2" fill="#fff" stroke="none"/>
<circle cx="1114.8" cy="1986.8" r="2" fill="#fff" stroke="none"/>
<circle cx="1100.6" cy="1986.6" r="2" fill="#fff" stroke="none"/>
<circle cx="1087.6" cy="1976.3" r="2" fill="#fff" stroke="none"/>
<circle cx="1080.9" cy="1959.7" r="2" fill="#fff" stroke="none"/>
<circle cx="1083" cy="1943.2" r="2" fill="#fff" stroke="none"/>
<circle cx="1093.2" cy="1933.2" r="2" fill="#fff" stroke="none"/>
<circle cx="1107.4" cy="1933.4" r="2" fill="#fff" stroke="none"/>
<circle cx="1120.4" cy="1943.7" r="2" fill="#fff" stroke="none"/>
<ellipse cx="1105" cy="1959.5" rx="17.2" ry="22.2" transform="rotate(-22 1105 1959.5)" fill="#fff" stroke="#000" stroke-width="1.6"/>
<ellipse cx="1106" cy="1959" rx="14.3" ry="19.3" transform="rotate(-22 1106 1959)" fill="#fff" stroke="#000" stroke-width="2.4"/>
<ellipse cx="1260" cy="2511.7" rx="8" ry="11" transform="rotate(-22 1260 2511.7)" fill="#fff" stroke="#000" stroke-width="2.2"/>
<ellipse cx="1322.6" cy="2478" rx="35.7" ry="44.1" transform="rotate(-22 1322.6 2478)" fill="#fff" stroke="#000" stroke-width="2.2"/>
<ellipse cx="1322.6" cy="2478" rx="32.7" ry="41.1" transform="rotate(-22 1322.6 2478)" fill="none" stroke="#000" stroke-width="1.4"/>
<ellipse cx="1534" cy="2356" rx="13.3" ry="17.5" transform="rotate(-22 1534 2356)" fill="#fff" stroke="#000" stroke-width="2"/><path d="M1539.4 2373.3 L1542.4 2371.3 L1525.6 2340.7 L1522.6 2342.7 Z" fill="#fff" stroke="none"/><path d="M1539.4 2373.3 L1542.4 2371.3 M1522.6 2342.7 L1525.6 2340.7" fill="none" stroke="#000" stroke-width="2"/><ellipse cx="1531" cy="2358" rx="13.3" ry="17.5" transform="rotate(-22 1531 2358)" fill="#fff" stroke="#000" stroke-width="2"/>
<ellipse cx="1531" cy="2358" rx="10.8" ry="15" transform="rotate(-22 1531 2358)" fill="none" stroke="#000" stroke-width="1.4"/>
<path d="M1456.9 2388.7 L1479.9 2376.6 L1480.5 2376.4 L1481.2 2376.4 L1482 2376.5 L1482.9 2376.9 L1483.7 2377.4 L1484.7 2378.1 L1485.6 2378.9 L1486.5 2379.9 L1487.4 2381 L1488.3 2382.2 L1489.2 2383.5 L1489.9 2384.9 L1490.6 2386.3 L1491.2 2387.7 L1491.7 2389.1 L1492.1 2390.5 L1492.4 2391.8 L1492.6 2393.1 L1492.6 2394.2 L1492.5 2395.3 L1492.3 2396.2 L1492 2396.9 L1491.6 2397.5 L1491 2397.9 L1468 2409.9 Z" fill="#fff" stroke="none" stroke-width="0" stroke-linejoin="round" stroke-linecap="round"/><path d="M1456.9 2388.7 L1479.9 2376.6 L1480.5 2376.4 L1481.2 2376.4 L1482 2376.5 L1482.9 2376.9 L1483.7 2377.4 L1484.7 2378.1 L1485.6 2378.9 L1486.5 2379.9 L1487.4 2381 L1488.3 2382.2 L1489.2 2383.5 L1489.9 2384.9 L1490.6 2386.3 L1491.2 2387.7 L1491.7 2389.1 L1492.1 2390.5 L1492.4 2391.8 L1492.6 2393.1 L1492.6 2394.2 L1492.5 2395.3 L1492.3 2396.2 L1492 2396.9 L1491.6 2397.5 L1491 2397.9 L1468 2409.9" fill="none" stroke="#000" stroke-width="2" stroke-linejoin="round"/><ellipse cx="1462.4" cy="2399.3" rx="5" ry="12" transform="rotate(-27.7 1462.4 2399.3)" fill="#fff" stroke="#000" stroke-width="2"/>
<path d="M1469.3 2382.2 L1469.9 2382 L1470.6 2381.9 L1471.4 2382.1 L1472.2 2382.4 L1473.1 2383 L1474 2383.6 L1475 2384.5 L1475.9 2385.5 L1476.8 2386.6 L1477.7 2387.8 L1478.5 2389.1 L1479.3 2390.5 L1480 2391.9 L1480.6 2393.3 L1481.1 2394.7 L1481.5 2396.1 L1481.8 2397.4 L1481.9 2398.7 L1482 2399.8 L1481.9 2400.8 L1481.7 2401.7 L1481.4 2402.5 L1480.9 2403 L1480.4 2403.4" fill="none" stroke="#000" stroke-width="2"/>
<path d="M1425.8 2471.6 L1430.7 2467.9 L1436.5 2466 L1440.9 2461.5 L1447.1 2460.5 L1451 2455 L1457.3 2454 L1460.7 2447.7 L1466.5 2445.8 L1469.5 2438.5 L1474.3 2434.9 L1476.4 2425.9 L1478.1 2420.5 L1478.1 2420.5 L1479.2 2419.6 L1480.2 2418.4 L1480.8 2416.8 L1481.3 2414.9 L1481.5 2412.6 L1481.4 2410.2 L1481 2407.4 L1480.4 2404.6 L1479.5 2401.6 L1478.4 2398.5 L1477.1 2395.4 L1475.6 2392.4 L1474 2389.4 L1472.2 2386.6 L1470.3 2384 L1468.3 2381.6 L1466.3 2379.4 L1464.3 2377.6 L1462.3 2376.1 L1460.3 2375 L1458.5 2374.3 L1456.8 2373.9 L1455.3 2374 L1453.9 2374.4 L1453.9 2374.4 L1448.5 2372.8 L1439.9 2369.4 L1434.1 2371.3 L1426.5 2369.6 L1421.7 2373.3 L1414.5 2372.5 L1410.1 2377.1 L1403.4 2377.2 L1399 2381.8 L1392.8 2382.8 L1387.9 2386.5 L1382.2 2388.4 Z" fill="#fff" stroke="#000" stroke-width="2.2" stroke-linejoin="round" stroke-linecap="round"/>
<path d="M1387.9 2386.5 L1390.3 2385.7 L1393.1 2385.5 L1396.1 2386.1 L1399.3 2387.4 L1402.8 2389.4 L1406.3 2392.1 L1409.9 2395.3 L1413.4 2399.1 L1416.9 2403.3 L1420.3 2408 L1423.5 2413 L1426.4 2418.2 L1429.1 2423.6 L1431.4 2429.1 L1433.3 2434.5 L1434.8 2439.8 L1435.9 2444.9 L1436.5 2449.7 L1436.7 2454.1 L1436.4 2458 L1435.6 2461.4 L1434.4 2464.2 L1432.7 2466.4 L1430.7 2467.9" fill="none" stroke="#000" stroke-width="1.6"/>
<path d="M1392.8 2382.8 L1395.2 2382 L1398 2381.9 L1401.1 2382.5 L1404.4 2383.8 L1407.9 2385.8 L1411.5 2388.5 L1415.2 2391.8 L1418.8 2395.7 L1422.4 2400 L1425.9 2404.8 L1429.1 2409.9 L1432.1 2415.2 L1434.8 2420.8 L1437.2 2426.3 L1439.1 2431.9 L1440.7 2437.3 L1441.8 2442.5 L1442.4 2447.4 L1442.6 2451.9 L1442.3 2455.9 L1441.5 2459.4 L1440.3 2462.2 L1438.6 2464.5 L1436.5 2466" fill="none" stroke="#000" stroke-width="3.2"/>
<path d="M1391.5 2385.1 L1393.9 2384.3 L1396.6 2384.2 L1399.6 2384.7 L1402.8 2386 L1406.2 2388 L1409.7 2390.6 L1413.2 2393.8 L1416.8 2397.6 L1420.2 2401.8 L1423.6 2406.4 L1426.7 2411.4 L1429.6 2416.5 L1432.3 2421.9 L1434.5 2427.3 L1436.4 2432.7 L1438 2437.9 L1439 2443 L1439.6 2447.7 L1439.8 2452.1 L1439.5 2456 L1438.7 2459.3 L1437.5 2462.1 L1435.9 2464.3 L1433.9 2465.8" fill="none" stroke="#000" stroke-width="1.4"/>
<path d="M1399 2381.8 L1401.4 2381 L1404.1 2380.9 L1407 2381.5 L1410.2 2382.7 L1413.5 2384.7 L1417 2387.2 L1420.5 2390.4 L1424 2394.1 L1427.4 2398.3 L1430.7 2402.8 L1433.8 2407.7 L1436.7 2412.8 L1439.3 2418.1 L1441.5 2423.5 L1443.4 2428.8 L1444.9 2433.9 L1445.9 2438.9 L1446.6 2443.6 L1446.7 2447.9 L1446.4 2451.7 L1445.7 2455.1 L1444.5 2457.8 L1442.9 2460 L1440.9 2461.5" fill="none" stroke="#000" stroke-width="1.6"/>
<path d="M1403.4 2377.2 L1405.9 2376.4 L1408.7 2376.3 L1411.8 2376.9 L1415.1 2378.2 L1418.6 2380.2 L1422.2 2382.9 L1425.8 2386.2 L1429.5 2390.1 L1433 2394.4 L1436.5 2399.2 L1439.7 2404.3 L1442.7 2409.7 L1445.4 2415.2 L1447.8 2420.8 L1449.8 2426.3 L1451.3 2431.7 L1452.4 2436.9 L1453.1 2441.8 L1453.2 2446.3 L1452.9 2450.3 L1452.1 2453.8 L1450.9 2456.7 L1449.2 2458.9 L1447.1 2460.5" fill="none" stroke="#000" stroke-width="3.2"/>
<path d="M1402.1 2379.5 L1404.5 2378.7 L1407.2 2378.6 L1410.2 2379.2 L1413.4 2380.5 L1416.8 2382.4 L1420.3 2385 L1423.9 2388.2 L1427.4 2392 L1430.9 2396.2 L1434.2 2400.8 L1437.3 2405.8 L1440.3 2411 L1442.9 2416.3 L1445.2 2421.7 L1447.1 2427.1 L1448.6 2432.3 L1449.7 2437.4 L1450.3 2442.1 L1450.4 2446.5 L1450.1 2450.4 L1449.4 2453.8 L1448.2 2456.6 L1446.5 2458.7 L1444.5 2460.2" fill="none" stroke="#000" stroke-width="1.4"/>
<path d="M1410.1 2377.1 L1412.4 2376.3 L1415 2376.2 L1417.9 2376.8 L1421 2378 L1424.3 2379.9 L1427.7 2382.4 L1431.1 2385.5 L1434.5 2389.1 L1437.9 2393.2 L1441.1 2397.7 L1444.1 2402.5 L1446.9 2407.5 L1449.5 2412.6 L1451.7 2417.8 L1453.5 2423 L1455 2428.1 L1456 2433 L1456.6 2437.5 L1456.7 2441.7 L1456.5 2445.5 L1455.7 2448.8 L1454.6 2451.5 L1453 2453.6 L1451 2455" fill="none" stroke="#000" stroke-width="1.6"/>
<path d="M1414.5 2372.5 L1416.9 2371.7 L1419.6 2371.6 L1422.7 2372.2 L1425.9 2373.5 L1429.3 2375.5 L1432.9 2378.1 L1436.4 2381.3 L1440 2385.1 L1443.5 2389.4 L1446.9 2394.1 L1450 2399 L1453 2404.3 L1455.6 2409.7 L1457.9 2415.1 L1459.9 2420.6 L1461.4 2425.9 L1462.5 2430.9 L1463.1 2435.7 L1463.3 2440.1 L1462.9 2444 L1462.2 2447.5 L1461 2450.3 L1459.3 2452.5 L1457.3 2454" fill="none" stroke="#000" stroke-width="3.2"/>
<path d="M1413.2 2374.8 L1415.5 2374 L1418.2 2373.9 L1421.1 2374.5 L1424.3 2375.7 L1427.6 2377.6 L1431 2380.2 L1434.5 2383.3 L1437.9 2387 L1441.3 2391.1 L1444.6 2395.6 L1447.7 2400.5 L1450.5 2405.6 L1453.1 2410.8 L1455.3 2416.1 L1457.2 2421.4 L1458.7 2426.5 L1459.7 2431.4 L1460.3 2436.1 L1460.5 2440.3 L1460.2 2444.1 L1459.4 2447.5 L1458.3 2450.2 L1456.7 2452.3 L1454.7 2453.8" fill="none" stroke="#000" stroke-width="1.4"/>
<path d="M1421.7 2373.3 L1423.9 2372.5 L1426.4 2372.4 L1429.1 2373 L1432.1 2374.2 L1435.2 2376 L1438.4 2378.4 L1441.7 2381.3 L1445 2384.8 L1448.1 2388.7 L1451.2 2392.9 L1454.1 2397.5 L1456.8 2402.3 L1459.2 2407.2 L1461.3 2412.2 L1463.1 2417.1 L1464.5 2422 L1465.5 2426.6 L1466 2431 L1466.2 2435 L1465.9 2438.6 L1465.2 2441.7 L1464.1 2444.3 L1462.6 2446.3 L1460.7 2447.7" fill="none" stroke="#000" stroke-width="1.6"/>
<path d="M1426.5 2369.6 L1428.8 2368.8 L1431.3 2368.7 L1434.2 2369.3 L1437.2 2370.5 L1440.4 2372.4 L1443.7 2374.8 L1447 2377.9 L1450.4 2381.4 L1453.6 2385.4 L1456.8 2389.7 L1459.7 2394.4 L1462.5 2399.3 L1465 2404.3 L1467.1 2409.4 L1468.9 2414.5 L1470.3 2419.5 L1471.4 2424.2 L1471.9 2428.7 L1472.1 2432.8 L1471.8 2436.5 L1471.1 2439.6 L1469.9 2442.3 L1468.4 2444.3 L1466.5 2445.8" fill="none" stroke="#000" stroke-width="3.2"/>
<path d="M1425.2 2371.8 L1427.4 2371 L1429.8 2370.9 L1432.6 2371.5 L1435.5 2372.7 L1438.6 2374.5 L1441.8 2376.8 L1445.1 2379.8 L1448.3 2383.2 L1451.5 2387.1 L1454.5 2391.3 L1457.4 2395.8 L1460.1 2400.6 L1462.5 2405.5 L1464.6 2410.4 L1466.3 2415.3 L1467.7 2420.1 L1468.7 2424.7 L1469.2 2429.1 L1469.4 2433.1 L1469.1 2436.6 L1468.4 2439.7 L1467.3 2442.3 L1465.8 2444.3 L1463.9 2445.6" fill="none" stroke="#000" stroke-width="1.4"/>
<path d="M1434.1 2371.3 L1436.1 2370.6 L1438.4 2370.5 L1440.9 2371 L1443.6 2372.1 L1446.4 2373.7 L1449.3 2375.9 L1452.3 2378.5 L1455.2 2381.7 L1458.1 2385.2 L1460.9 2389 L1463.5 2393.2 L1465.9 2397.5 L1468.1 2401.9 L1470 2406.4 L1471.6 2410.9 L1472.9 2415.3 L1473.8 2419.5 L1474.3 2423.4 L1474.4 2427.1 L1474.2 2430.3 L1473.5 2433.1 L1472.5 2435.5 L1471.2 2437.3 L1469.5 2438.5" fill="none" stroke="#000" stroke-width="1.6"/>
<path d="M1439.9 2369.4 L1441.9 2368.7 L1444.1 2368.6 L1446.5 2369.1 L1449.1 2370.1 L1451.9 2371.7 L1454.7 2373.8 L1457.6 2376.4 L1460.4 2379.5 L1463.3 2382.9 L1466 2386.7 L1468.5 2390.7 L1470.9 2394.9 L1473 2399.2 L1474.9 2403.6 L1476.4 2408 L1477.6 2412.2 L1478.5 2416.3 L1479 2420.2 L1479.1 2423.7 L1478.9 2426.9 L1478.3 2429.6 L1477.3 2431.9 L1476 2433.6 L1474.3 2434.9" fill="none" stroke="#000" stroke-width="1.6"/>
<path d="M1448.5 2372.8 L1450.1 2372.2 L1451.9 2372.1 L1453.8 2372.5 L1455.9 2373.4 L1458.2 2374.7 L1460.5 2376.4 L1462.8 2378.5 L1465.1 2381 L1467.4 2383.7 L1469.6 2386.8 L1471.7 2390 L1473.6 2393.5 L1475.3 2397 L1476.8 2400.5 L1478.1 2404.1 L1479.1 2407.5 L1479.8 2410.8 L1480.2 2414 L1480.3 2416.8 L1480.1 2419.4 L1479.6 2421.6 L1478.8 2423.5 L1477.7 2424.9 L1476.4 2425.9" fill="none" stroke="#000" stroke-width="1.6"/>
<path d="M1382.2 2388.4 L1384.6 2387.5 L1387.4 2387.4 L1390.5 2388 L1393.8 2389.4 L1397.3 2391.4 L1400.9 2394.1 L1404.6 2397.4 L1408.2 2401.2 L1411.8 2405.6 L1415.2 2410.4 L1418.5 2415.5 L1421.5 2420.8 L1424.2 2426.3 L1426.5 2431.9 L1428.5 2437.4 L1430.1 2442.9 L1431.2 2448.1 L1431.8 2452.9 L1432 2457.4 L1431.7 2461.5 L1430.9 2464.9 L1429.6 2467.8 L1427.9 2470.1 L1425.8 2471.6" fill="none" stroke="#000" stroke-width="2.2"/>
<ellipse cx="1404" cy="2430" rx="19.7" ry="47" transform="rotate(-27.7 1404 2430)" fill="#fff" stroke="#000" stroke-width="2.6"/>
<ellipse cx="1404" cy="2430" rx="17.6" ry="42" transform="rotate(-27.7 1404 2430)" fill="#fff" stroke="#000" stroke-width="2"/>
<path d="M1426 2460.7 L1424 2460.6 L1421.7 2460.1 L1419.3 2459.1 L1416.8 2457.7 L1414.2 2455.8 L1411.6 2453.6 L1409 2451 L1406.4 2448 L1403.8 2444.8 L1401.4 2441.3 L1399.1 2437.6 L1397 2433.7 L1395 2429.7 L1393.3 2425.7 L1391.8 2421.7 L1390.5 2417.8 L1389.6 2414 L1388.9 2410.3 L1388.5 2406.9 L1388.5 2403.7 L1388.7 2400.9 L1389.3 2398.3 L1390.1 2396.2 L1391.2 2394.4" fill="none" stroke="#000" stroke-width="2.4"/>
<path d="M1432.3 2455.2 L1430.4 2455.1 L1428.2 2454.6 L1426 2453.7 L1423.6 2452.3 L1421.2 2450.6 L1418.7 2448.4 L1416.2 2445.9 L1413.7 2443.1 L1411.3 2440.1 L1409 2436.8 L1406.8 2433.2 L1404.8 2429.6 L1402.9 2425.8 L1401.3 2422.1 L1399.9 2418.3 L1398.7 2414.5 L1397.8 2410.9 L1397.2 2407.5 L1396.8 2404.2 L1396.7 2401.2 L1397 2398.5 L1397.5 2396.1 L1398.3 2394 L1399.4 2392.4" fill="none" stroke="#000" stroke-width="2.0"/>
<path d="M1438.6 2449.6 L1436.8 2449.6 L1434.8 2449.1 L1432.6 2448.2 L1430.4 2447 L1428.1 2445.3 L1425.7 2443.3 L1423.4 2440.9 L1421 2438.3 L1418.8 2435.4 L1416.6 2432.2 L1414.5 2428.9 L1412.6 2425.5 L1410.9 2421.9 L1409.3 2418.4 L1408 2414.8 L1406.9 2411.3 L1406 2407.8 L1405.4 2404.6 L1405.1 2401.5 L1405 2398.7 L1405.2 2396.1 L1405.7 2393.8 L1406.5 2391.9 L1407.5 2390.4" fill="none" stroke="#000" stroke-width="2.6"/>
<path d="M1444.5 2443.2 L1442.8 2443.2 L1441 2442.7 L1439 2441.9 L1437 2440.8 L1434.9 2439.2 L1432.8 2437.4 L1430.6 2435.3 L1428.5 2432.9 L1426.4 2430.2 L1424.4 2427.3 L1422.6 2424.3 L1420.8 2421.2 L1419.2 2418 L1417.8 2414.7 L1416.6 2411.4 L1415.6 2408.2 L1414.8 2405.1 L1414.2 2402.1 L1413.9 2399.3 L1413.9 2396.7 L1414.1 2394.4 L1414.5 2392.3 L1415.2 2390.6 L1416.1 2389.1" fill="none" stroke="#000" stroke-width="2.0"/>
<path d="M1450 2435.9 L1448.6 2435.8 L1447 2435.4 L1445.3 2434.7 L1443.5 2433.7 L1441.7 2432.4 L1439.8 2430.8 L1437.9 2428.9 L1436.1 2426.8 L1434.3 2424.5 L1432.5 2422 L1430.9 2419.4 L1429.4 2416.7 L1428 2413.9 L1426.8 2411 L1425.7 2408.2 L1424.8 2405.4 L1424.1 2402.7 L1423.7 2400.1 L1423.4 2397.6 L1423.4 2395.4 L1423.5 2393.3 L1423.9 2391.5 L1424.5 2390 L1425.3 2388.8" fill="none" stroke="#000" stroke-width="2.4"/>
<ellipse cx="1608.6" cy="2312" rx="14" ry="17.4" transform="rotate(-22 1608.6 2312)" fill="#fff" stroke="#000" stroke-width="2"/><path d="M1614.2 2329.1 L1617.2 2327.1 L1600 2296.9 L1597 2298.9 Z" fill="#fff" stroke="none"/><path d="M1614.2 2329.1 L1617.2 2327.1 M1597 2298.9 L1600 2296.9" fill="none" stroke="#000" stroke-width="2"/><ellipse cx="1605.6" cy="2314" rx="14" ry="17.4" transform="rotate(-22 1605.6 2314)" fill="#fff" stroke="#000" stroke-width="2"/>
<ellipse cx="1605.6" cy="2314" rx="11.5" ry="14.9" transform="rotate(-22 1605.6 2314)" fill="none" stroke="#000" stroke-width="1.4"/>
<path d="M1661 2309.3 L1668.1 2309.9 L1676.8 2313 L1681.1 2308.4 L1690.7 2313.3 L1695 2308.6 L1703.6 2311.8 L1707.4 2306.3 L1715.1 2307.7 L1718.8 2302.2 L1725.5 2301.9 L1729.3 2296.3 L1735.5 2295.2 L1739.3 2289.6 L1739.3 2289.6 L1741.2 2288.1 L1742.7 2286.1 L1743.7 2283.4 L1744.4 2280.2 L1744.6 2276.5 L1744.3 2272.4 L1743.6 2267.9 L1742.5 2263.2 L1740.9 2258.3 L1739 2253.3 L1736.7 2248.2 L1734.1 2243.3 L1731.2 2238.4 L1728.2 2233.8 L1724.9 2229.6 L1721.5 2225.7 L1718.1 2222.2 L1714.7 2219.3 L1711.3 2216.9 L1708.1 2215.1 L1705 2214 L1702.2 2213.5 L1699.6 2213.7 L1697.4 2214.5 L1697.4 2214.5 L1690.7 2214.8 L1686.4 2219.5 L1679.7 2219.8 L1675.9 2225.3 L1669.2 2225.6 L1666.4 2232.9 L1659.7 2233.2 L1657.9 2242.3 L1651.7 2243.5 L1650.8 2254.2 L1644.6 2255.4 L1642.8 2264.4 L1639.5 2270.9 Z" fill="#fff" stroke="#000" stroke-width="2.2" stroke-linejoin="round" stroke-linecap="round"/>
<path d="M1642.8 2264.4 L1644.2 2263.9 L1645.7 2263.8 L1647.4 2264.1 L1649.3 2264.8 L1651.2 2265.9 L1653.3 2267.3 L1655.3 2269.1 L1657.4 2271.2 L1659.4 2273.5 L1661.4 2276.1 L1663.3 2278.9 L1665 2281.8 L1666.6 2284.8 L1668 2287.9 L1669.1 2290.9 L1670.1 2293.9 L1670.8 2296.8 L1671.2 2299.4 L1671.3 2301.9 L1671.2 2304.2 L1670.8 2306.1 L1670.2 2307.7 L1669.3 2309 L1668.1 2309.9" fill="none" stroke="#000" stroke-width="1.6"/>
<path d="M1644.6 2255.4 L1646.4 2254.8 L1648.3 2254.6 L1650.5 2255 L1652.8 2255.9 L1655.3 2257.3 L1657.9 2259.1 L1660.5 2261.3 L1663.2 2264 L1665.7 2267 L1668.2 2270.2 L1670.6 2273.8 L1672.8 2277.5 L1674.8 2281.3 L1676.6 2285.2 L1678.1 2289 L1679.2 2292.8 L1680.1 2296.4 L1680.6 2299.8 L1680.8 2303 L1680.7 2305.8 L1680.2 2308.3 L1679.4 2310.3 L1678.2 2311.9 L1676.8 2313" fill="none" stroke="#000" stroke-width="3.2"/>
<path d="M1643.2 2257.3 L1644.9 2256.7 L1646.8 2256.6 L1648.9 2257 L1651.2 2257.8 L1653.6 2259.1 L1656.1 2260.9 L1658.6 2263.1 L1661.2 2265.6 L1663.7 2268.5 L1666.1 2271.7 L1668.4 2275.2 L1670.5 2278.7 L1672.5 2282.5 L1674.2 2286.2 L1675.6 2289.9 L1676.8 2293.6 L1677.6 2297.1 L1678.1 2300.4 L1678.3 2303.5 L1678.2 2306.2 L1677.7 2308.6 L1676.9 2310.6 L1675.8 2312.2 L1674.4 2313.3" fill="none" stroke="#000" stroke-width="1.4"/>
<path d="M1650.8 2254.2 L1652.5 2253.6 L1654.3 2253.5 L1656.3 2253.9 L1658.6 2254.7 L1660.9 2256 L1663.3 2257.7 L1665.8 2259.8 L1668.2 2262.3 L1670.7 2265.1 L1673 2268.2 L1675.3 2271.5 L1677.3 2275 L1679.2 2278.5 L1680.8 2282.2 L1682.2 2285.8 L1683.4 2289.3 L1684.2 2292.7 L1684.7 2296 L1684.9 2298.9 L1684.7 2301.6 L1684.3 2303.9 L1683.5 2305.8 L1682.4 2307.3 L1681.1 2308.4" fill="none" stroke="#000" stroke-width="1.6"/>
<path d="M1651.7 2243.5 L1653.8 2242.7 L1656.2 2242.5 L1658.8 2243 L1661.6 2244 L1664.7 2245.7 L1667.8 2247.9 L1671 2250.6 L1674.2 2253.8 L1677.3 2257.4 L1680.3 2261.4 L1683.2 2265.7 L1685.9 2270.2 L1688.3 2274.8 L1690.4 2279.5 L1692.2 2284.2 L1693.6 2288.8 L1694.7 2293.1 L1695.4 2297.3 L1695.6 2301.1 L1695.4 2304.5 L1694.8 2307.5 L1693.8 2310 L1692.4 2311.9 L1690.7 2313.3" fill="none" stroke="#000" stroke-width="3.2"/>
<path d="M1650.4 2245.6 L1652.4 2244.8 L1654.7 2244.7 L1657.2 2245.1 L1660 2246.1 L1662.9 2247.7 L1666 2249.9 L1669.1 2252.5 L1672.1 2255.6 L1675.2 2259.1 L1678.1 2263 L1680.9 2267.2 L1683.5 2271.5 L1685.9 2276 L1687.9 2280.5 L1689.7 2285.1 L1691.1 2289.5 L1692.1 2293.8 L1692.7 2297.8 L1692.9 2301.5 L1692.8 2304.8 L1692.2 2307.7 L1691.2 2310.1 L1689.9 2312 L1688.2 2313.3" fill="none" stroke="#000" stroke-width="1.4"/>
<path d="M1657.9 2242.3 L1659.9 2241.5 L1662.2 2241.4 L1664.7 2241.8 L1667.4 2242.8 L1670.2 2244.4 L1673.2 2246.5 L1676.2 2249.1 L1679.2 2252.1 L1682.2 2255.6 L1685.1 2259.4 L1687.8 2263.4 L1690.4 2267.7 L1692.7 2272.1 L1694.7 2276.5 L1696.4 2281 L1697.8 2285.3 L1698.8 2289.5 L1699.4 2293.4 L1699.6 2297 L1699.4 2300.3 L1698.9 2303.1 L1697.9 2305.5 L1696.6 2307.3 L1695 2308.6" fill="none" stroke="#000" stroke-width="1.6"/>
<path d="M1659.7 2233.2 L1662.1 2232.4 L1664.8 2232.2 L1667.7 2232.7 L1670.9 2233.9 L1674.3 2235.7 L1677.8 2238.2 L1681.4 2241.3 L1685 2244.9 L1688.5 2249 L1691.9 2253.5 L1695.2 2258.3 L1698.2 2263.3 L1700.9 2268.5 L1703.3 2273.8 L1705.3 2279.1 L1706.9 2284.2 L1708.1 2289.1 L1708.9 2293.8 L1709.1 2298.1 L1708.9 2302 L1708.3 2305.3 L1707.1 2308.1 L1705.6 2310.3 L1703.6 2311.8" fill="none" stroke="#000" stroke-width="3.2"/>
<path d="M1658.5 2235.5 L1660.8 2234.6 L1663.3 2234.5 L1666.2 2235 L1669.3 2236.1 L1672.6 2237.9 L1676 2240.3 L1679.5 2243.3 L1683 2246.8 L1686.4 2250.8 L1689.7 2255.1 L1692.8 2259.8 L1695.8 2264.7 L1698.4 2269.7 L1700.7 2274.8 L1702.7 2279.9 L1704.3 2284.9 L1705.4 2289.7 L1706.1 2294.2 L1706.4 2298.4 L1706.2 2302.1 L1705.5 2305.4 L1704.4 2308.1 L1702.9 2310.2 L1701 2311.7" fill="none" stroke="#000" stroke-width="1.4"/>
<path d="M1666.4 2232.9 L1668.6 2232.1 L1671.1 2232 L1673.9 2232.4 L1676.9 2233.5 L1680.1 2235.3 L1683.3 2237.6 L1686.7 2240.5 L1690 2243.8 L1693.3 2247.6 L1696.5 2251.8 L1699.5 2256.3 L1702.3 2261 L1704.9 2265.9 L1707.1 2270.8 L1709 2275.7 L1710.5 2280.5 L1711.6 2285.1 L1712.3 2289.5 L1712.5 2293.5 L1712.3 2297.1 L1711.7 2300.2 L1710.7 2302.8 L1709.2 2304.8 L1707.4 2306.3" fill="none" stroke="#000" stroke-width="1.6"/>
<path d="M1669.2 2225.6 L1671.7 2224.7 L1674.5 2224.6 L1677.6 2225.1 L1680.9 2226.3 L1684.5 2228.3 L1688.1 2230.9 L1691.9 2234.1 L1695.6 2237.8 L1699.3 2242.1 L1702.9 2246.8 L1706.3 2251.8 L1709.4 2257.1 L1712.2 2262.5 L1714.7 2268 L1716.8 2273.5 L1718.5 2278.9 L1719.8 2284 L1720.5 2288.9 L1720.8 2293.4 L1720.6 2297.4 L1719.9 2300.9 L1718.7 2303.8 L1717.1 2306.1 L1715.1 2307.7" fill="none" stroke="#000" stroke-width="3.2"/>
<path d="M1668 2227.9 L1670.4 2227.1 L1673.1 2226.9 L1676.1 2227.4 L1679.3 2228.6 L1682.8 2230.5 L1686.3 2233 L1690 2236.1 L1693.6 2239.8 L1697.2 2243.9 L1700.6 2248.4 L1703.9 2253.3 L1707 2258.4 L1709.7 2263.7 L1712.1 2269 L1714.2 2274.4 L1715.8 2279.6 L1717 2284.6 L1717.8 2289.3 L1718 2293.7 L1717.8 2297.6 L1717.2 2301 L1716 2303.8 L1714.4 2306 L1712.5 2307.6" fill="none" stroke="#000" stroke-width="1.4"/>
<path d="M1675.9 2225.3 L1678.2 2224.5 L1680.9 2224.3 L1683.8 2224.8 L1686.9 2226 L1690.2 2227.8 L1693.6 2230.2 L1697.1 2233.2 L1700.6 2236.7 L1704.1 2240.7 L1707.4 2245.1 L1710.6 2249.8 L1713.5 2254.8 L1716.2 2259.8 L1718.5 2265 L1720.5 2270.1 L1722.1 2275.2 L1723.2 2280 L1724 2284.6 L1724.2 2288.8 L1724 2292.5 L1723.4 2295.8 L1722.3 2298.5 L1720.8 2300.7 L1718.8 2302.2" fill="none" stroke="#000" stroke-width="1.6"/>
<path d="M1679.7 2219.8 L1682.2 2218.9 L1685 2218.7 L1688.1 2219.2 L1691.4 2220.5 L1695 2222.4 L1698.6 2225 L1702.4 2228.2 L1706.1 2232 L1709.8 2236.2 L1713.4 2240.9 L1716.7 2245.9 L1719.9 2251.2 L1722.7 2256.7 L1725.2 2262.2 L1727.3 2267.7 L1729 2273 L1730.3 2278.2 L1731 2283.1 L1731.3 2287.5 L1731.1 2291.6 L1730.4 2295.1 L1729.2 2298 L1727.6 2300.3 L1725.5 2301.9" fill="none" stroke="#000" stroke-width="3.2"/>
<path d="M1678.5 2222.1 L1680.9 2221.2 L1683.6 2221 L1686.6 2221.6 L1689.8 2222.8 L1693.3 2224.6 L1696.8 2227.2 L1700.4 2230.3 L1704.1 2233.9 L1707.7 2238.1 L1711.1 2242.6 L1714.4 2247.5 L1717.4 2252.6 L1720.2 2257.9 L1722.6 2263.2 L1724.7 2268.5 L1726.3 2273.7 L1727.5 2278.7 L1728.2 2283.5 L1728.5 2287.8 L1728.3 2291.7 L1727.6 2295.1 L1726.5 2297.9 L1724.9 2300.2 L1722.9 2301.7" fill="none" stroke="#000" stroke-width="1.4"/>
<path d="M1686.4 2219.5 L1688.7 2218.6 L1691.3 2218.5 L1694.2 2219 L1697.4 2220.1 L1700.7 2221.9 L1704.1 2224.4 L1707.6 2227.4 L1711.1 2230.9 L1714.6 2234.9 L1717.9 2239.3 L1721.1 2244 L1724 2248.9 L1726.7 2254 L1729 2259.2 L1731 2264.3 L1732.6 2269.3 L1733.7 2274.2 L1734.4 2278.7 L1734.7 2282.9 L1734.5 2286.7 L1733.9 2290 L1732.8 2292.7 L1731.2 2294.8 L1729.3 2296.3" fill="none" stroke="#000" stroke-width="1.6"/>
<path d="M1690.7 2214.8 L1693.1 2213.9 L1695.8 2213.7 L1698.9 2214.3 L1702.1 2215.5 L1705.6 2217.4 L1709.2 2219.9 L1712.8 2223.1 L1716.5 2226.7 L1720.1 2230.9 L1723.6 2235.5 L1726.9 2240.4 L1730 2245.6 L1732.8 2250.9 L1735.2 2256.3 L1737.3 2261.7 L1738.9 2266.9 L1740.1 2272 L1740.9 2276.7 L1741.2 2281.1 L1741 2285.1 L1740.3 2288.5 L1739.1 2291.3 L1737.5 2293.6 L1735.5 2295.2" fill="none" stroke="#000" stroke-width="3.2"/>
<path d="M1689.4 2217.1 L1691.8 2216.2 L1694.4 2216.1 L1697.4 2216.6 L1700.5 2217.7 L1703.9 2219.6 L1707.4 2222 L1710.9 2225.1 L1714.5 2228.7 L1718 2232.7 L1721.4 2237.2 L1724.6 2241.9 L1727.6 2246.9 L1730.3 2252.1 L1732.6 2257.3 L1734.6 2262.5 L1736.2 2267.6 L1737.4 2272.5 L1738.1 2277.1 L1738.4 2281.4 L1738.2 2285.2 L1737.5 2288.6 L1736.4 2291.3 L1734.9 2293.5 L1732.9 2295" fill="none" stroke="#000" stroke-width="1.4"/>
<path d="M1639.5 2270.9 L1640.7 2270.4 L1642 2270.4 L1643.4 2270.6 L1645 2271.2 L1646.6 2272.1 L1648.4 2273.3 L1650.1 2274.8 L1651.9 2276.6 L1653.6 2278.6 L1655.3 2280.8 L1656.8 2283.1 L1658.3 2285.6 L1659.6 2288.1 L1660.8 2290.7 L1661.8 2293.3 L1662.6 2295.8 L1663.2 2298.2 L1663.5 2300.5 L1663.7 2302.6 L1663.6 2304.5 L1663.2 2306.1 L1662.7 2307.5 L1661.9 2308.5 L1661 2309.3" fill="none" stroke="#000" stroke-width="2.2"/>
<path d="M1633.2 2280.1 L1643.7 2274.3 L1644.6 2273.9 L1645.6 2273.9 L1646.7 2274.1 L1647.9 2274.5 L1649.2 2275.2 L1650.5 2276.1 L1651.9 2277.3 L1653.2 2278.7 L1654.6 2280.2 L1655.9 2281.9 L1657.1 2283.7 L1658.2 2285.6 L1659.2 2287.6 L1660.2 2289.6 L1660.9 2291.6 L1661.5 2293.5 L1662 2295.4 L1662.3 2297.1 L1662.4 2298.8 L1662.3 2300.2 L1662 2301.5 L1661.6 2302.5 L1661 2303.4 L1660.3 2303.9 L1649.8 2309.8 Z" fill="#fff" stroke="none" stroke-width="0" stroke-linejoin="round" stroke-linecap="round"/><path d="M1633.2 2280.1 L1643.7 2274.3 L1644.6 2273.9 L1645.6 2273.9 L1646.7 2274.1 L1647.9 2274.5 L1649.2 2275.2 L1650.5 2276.1 L1651.9 2277.3 L1653.2 2278.7 L1654.6 2280.2 L1655.9 2281.9 L1657.1 2283.7 L1658.2 2285.6 L1659.2 2287.6 L1660.2 2289.6 L1660.9 2291.6 L1661.5 2293.5 L1662 2295.4 L1662.3 2297.1 L1662.4 2298.8 L1662.3 2300.2 L1662 2301.5 L1661.6 2302.5 L1661 2303.4 L1660.3 2303.9 L1649.8 2309.8" fill="none" stroke="#000" stroke-width="2" stroke-linejoin="round"/><ellipse cx="1641.5" cy="2294.9" rx="7.1" ry="17" transform="rotate(-29.2 1641.5 2294.9)" fill="#fff" stroke="#000" stroke-width="2"/>
<ellipse cx="1641.5" cy="2294.9" rx="7.1" ry="17" transform="rotate(-29.2 1641.5 2294.9)" fill="#fff" stroke="#000" stroke-width="2.8"/>
<ellipse cx="1641.5" cy="2294.9" rx="5" ry="12" transform="rotate(-29.2 1641.5 2294.9)" fill="#fff" stroke="#000" stroke-width="2"/>
<ellipse cx="1642.4" cy="2294.5" rx="3.8" ry="9" transform="rotate(-29.2 1642.4 2294.5)" fill="#fff" stroke="#000" stroke-width="1.6"/>
<ellipse cx="1774" cy="2215" rx="23.7" ry="31.7" transform="rotate(-22 1774 2215)" fill="#fff" stroke="#000" stroke-width="2.2"/>
<ellipse cx="1844" cy="2175.6" rx="33.1" ry="43" transform="rotate(-22 1844 2175.6)" fill="#fff" stroke="#000" stroke-width="2.2"/>
<ellipse cx="1844" cy="2175.6" rx="30.1" ry="40" transform="rotate(-22 1844 2175.6)" fill="none" stroke="#000" stroke-width="1.4"/>
<ellipse cx="1906" cy="2142" rx="8.6" ry="12.8" transform="rotate(-22 1906 2142)" fill="#fff" stroke="#000" stroke-width="2.2"/>
<ellipse cx="1906" cy="2142" rx="5.6" ry="9.5" transform="rotate(-22 1906 2142)" fill="none" stroke="#000" stroke-width="1.3"/>
<path d="M352.9 446.4 L366.2 436.9 L366.2 461.4 L354.3 469 Z" fill="#000" stroke="#000" stroke-width="1.5" stroke-linejoin="round" stroke-linecap="round"/>
<path d="M354.3 469 L366.2 461.4 L460 513.8 L447.1 521.4 Z" fill="#000" stroke="#000" stroke-width="1.5" stroke-linejoin="round" stroke-linecap="round"/>
<path d="M447.1 521.4 L460 513.8 L460 567.9 L447.1 573.3 Z" fill="#000" stroke="#000" stroke-width="1.5" stroke-linejoin="round" stroke-linecap="round"/>
<path d="M354.3 520.2 L366.2 526.2 L366.2 536.9 L352.9 542.4 Z" fill="#000" stroke="#000" stroke-width="1.5" stroke-linejoin="round" stroke-linecap="round"/>
<path d="M326.7 475.7 L352.9 446.4 L354.3 469 L447.1 521.4 L447.1 573.3 L354.3 520.2 L352.9 542.4 Z" fill="#fff" stroke="#000" stroke-width="2.2" stroke-linejoin="round" stroke-linecap="round"/>
<text transform="matrix(0.5 0.2835 0 1 343 499.0)" font-size="39" font-weight="bold" style="font-family:'Liberation Sans',sans-serif">F</text>
<text transform="matrix(0.5 0.2835 0 1 364.3 511.1)" font-size="39" font-weight="bold" style="font-family:'Liberation Sans',sans-serif">R</text>
<text transform="matrix(0.5 0.2835 0 1 385.7 523.2)" font-size="39" font-weight="bold" style="font-family:'Liberation Sans',sans-serif">O</text>
<text transform="matrix(0.5 0.2835 0 1 409.5 536.7)" font-size="39" font-weight="bold" style="font-family:'Liberation Sans',sans-serif">N</text>
<text transform="matrix(0.5 0.2835 0 1 432 549.5)" font-size="39" font-weight="bold" style="font-family:'Liberation Sans',sans-serif">T</text>
<text x="1809" y="405" font-size="27" textLength="77.1" lengthAdjust="spacingAndGlyphs" class="lb">E3136</text>
<text x="1362.5" y="433.6" font-size="32.5" textLength="105.5" lengthAdjust="spacingAndGlyphs" class="lb">92037A</text>
<text x="1362.5" y="475" font-size="32.5" textLength="105.5" lengthAdjust="spacingAndGlyphs" class="lb">92037A</text>
<text x="1059" y="482.5" font-size="32.5" textLength="82.1" lengthAdjust="spacingAndGlyphs" class="lb">92191</text>
<text x="1578.6" y="402" font-size="32.5" textLength="48.2" lengthAdjust="spacingAndGlyphs" class="lb">120</text>
<text x="1608" y="632.5" font-size="32.5" textLength="104.5" lengthAdjust="spacingAndGlyphs" class="lb">92049A</text>
<text x="1056" y="581" font-size="32.5" textLength="85.1" lengthAdjust="spacingAndGlyphs" class="lb">92037</text>
<text x="1392" y="541" font-size="32.5" textLength="86.7" lengthAdjust="spacingAndGlyphs" class="lb">92033</text>
<text x="1276" y="588" font-size="32.5" textLength="105.1" lengthAdjust="spacingAndGlyphs" class="lb">92055D</text>
<text x="792" y="613.6" font-size="32.5" textLength="85.6" lengthAdjust="spacingAndGlyphs" class="lb">92066</text>
<text x="1064" y="624" font-size="32.5" textLength="85.1" lengthAdjust="spacingAndGlyphs" class="lb">92005</text>
<text x="785.7" y="655.7" font-size="32.5" textLength="104.3" lengthAdjust="spacingAndGlyphs" class="lb">92055A</text>
<text x="1537.5" y="686" font-size="32.5" textLength="85.5" lengthAdjust="spacingAndGlyphs" class="lb">11012</text>
<text x="1448" y="719" font-size="32.5" textLength="88.1" lengthAdjust="spacingAndGlyphs" class="lb">92143</text>
<text x="473" y="675" font-size="32.5" textLength="83.1" lengthAdjust="spacingAndGlyphs" class="lb">13101</text>
<text x="1350" y="770" font-size="32.5" textLength="102" lengthAdjust="spacingAndGlyphs" class="lb">92026A</text>
<text x="1556" y="833" font-size="32.5" textLength="87.1" lengthAdjust="spacingAndGlyphs" class="lb">92067</text>
<text x="1489" y="867.5" font-size="32.5" textLength="89.1" lengthAdjust="spacingAndGlyphs" class="lb">92065</text>
<text x="447" y="820" font-size="32.5" textLength="88.1" lengthAdjust="spacingAndGlyphs" class="lb">92144</text>
<text x="334" y="887" font-size="32.5" textLength="84.1" lengthAdjust="spacingAndGlyphs" class="lb">13089</text>
<text x="655" y="950" font-size="32.5" textLength="86.1" lengthAdjust="spacingAndGlyphs" class="lb">92150</text>
<text x="490" y="997" font-size="32.5" textLength="160" lengthAdjust="spacingAndGlyphs" class="lb">92180/A~D</text>
<text x="402" y="1071" font-size="32.5" textLength="102" lengthAdjust="spacingAndGlyphs" class="lb">13088A</text>
<text x="1363.6" y="887" font-size="32.5" textLength="86.5" lengthAdjust="spacingAndGlyphs" class="lb">92055</text>
<text x="1462.5" y="938" font-size="32.5" textLength="87.6" lengthAdjust="spacingAndGlyphs" class="lb">92026</text>
<text x="1557" y="973" font-size="32.5" textLength="105.6" lengthAdjust="spacingAndGlyphs" class="lb">92055C</text>
<text x="957" y="1031" font-size="32.5" textLength="47" lengthAdjust="spacingAndGlyphs" class="lb">601</text>
<text x="1091" y="1037" font-size="32.5" textLength="84.1" lengthAdjust="spacingAndGlyphs" class="lb">14055</text>
<text x="1253.6" y="1060" font-size="32.5" textLength="50" lengthAdjust="spacingAndGlyphs" class="lb">172</text>
<text x="1643.6" y="1012" font-size="32.5" textLength="140.4" lengthAdjust="spacingAndGlyphs" class="lb">92025K~P</text>
<text x="1814" y="1083" font-size="32.5" textLength="86.1" lengthAdjust="spacingAndGlyphs" class="lb">41046</text>
<text x="1388.6" y="1116" font-size="32.5" textLength="85.4" lengthAdjust="spacingAndGlyphs" class="lb">92116</text>
<text x="297.5" y="1135" font-size="32.5" textLength="84.6" lengthAdjust="spacingAndGlyphs" class="lb">13088</text>
<text x="628" y="1141" font-size="32.5" textLength="86.1" lengthAdjust="spacingAndGlyphs" class="lb">49035</text>
<text x="1454" y="1160" font-size="32.5" textLength="159.7" lengthAdjust="spacingAndGlyphs" class="lb">92027/A~J</text>
<text x="1170.7" y="1219.6" font-size="32.5" textLength="83" lengthAdjust="spacingAndGlyphs" class="lb">13088</text>
<text x="1445.7" y="1217" font-size="32.5" textLength="85.3" lengthAdjust="spacingAndGlyphs" class="lb">92116</text>
<text x="412.5" y="1257" font-size="32.5" textLength="85.6" lengthAdjust="spacingAndGlyphs" class="lb">92022</text>
<text x="1060" y="1278.6" font-size="32.5" textLength="102.5" lengthAdjust="spacingAndGlyphs" class="lb">13088A</text>
<text x="1560.7" y="1308" font-size="32.5" textLength="104.3" lengthAdjust="spacingAndGlyphs" class="lb">92055B</text>
<text x="913.6" y="1352" font-size="32.5" textLength="159.4" lengthAdjust="spacingAndGlyphs" class="lb">92180/A~D</text>
<text x="1649" y="1350" font-size="32.5" textLength="104" lengthAdjust="spacingAndGlyphs" class="lb">92022A</text>
<text x="1725" y="1398" font-size="32.5" textLength="106" lengthAdjust="spacingAndGlyphs" class="lb">92015A</text>
<text x="1337.5" y="1402" font-size="32.5" textLength="157.1" lengthAdjust="spacingAndGlyphs" class="lb">92025/A~E</text>
<text x="1861.6" y="1428.6" font-size="32.5" textLength="85.5" lengthAdjust="spacingAndGlyphs" class="lb">92015</text>
<text x="740" y="1446" font-size="32.5" textLength="87.1" lengthAdjust="spacingAndGlyphs" class="lb">92022</text>
<text x="1138.6" y="1470.7" font-size="32.5" textLength="83.5" lengthAdjust="spacingAndGlyphs" class="lb">13089</text>
<text x="1494.6" y="1487.5" font-size="32.5" textLength="86.5" lengthAdjust="spacingAndGlyphs" class="lb">92049</text>
<text x="480" y="1493" font-size="32.5" textLength="105" lengthAdjust="spacingAndGlyphs" class="lb">13101A</text>
<text x="1035.7" y="1528.6" font-size="32.5" textLength="85.4" lengthAdjust="spacingAndGlyphs" class="lb">92144</text>
<text x="1591" y="1528" font-size="32.5" textLength="84.8" lengthAdjust="spacingAndGlyphs" class="lb">92028</text>
<text x="972" y="1577" font-size="32.5" textLength="88.1" lengthAdjust="spacingAndGlyphs" class="lb">92150</text>
<text x="1675" y="1582" font-size="32.5" textLength="103" lengthAdjust="spacingAndGlyphs" class="lb">92022B</text>
<text x="851" y="1637.5" font-size="32.5" textLength="86.6" lengthAdjust="spacingAndGlyphs" class="lb">92043</text>
<text x="339.6" y="1671" font-size="32.5" textLength="67.3" lengthAdjust="spacingAndGlyphs" class="lb">130A</text>
<text x="1468" y="1716.4" font-size="32.5" textLength="86.7" lengthAdjust="spacingAndGlyphs" class="lb">59266</text>
<text x="1097" y="1854" font-size="32.5" textLength="45.5" lengthAdjust="spacingAndGlyphs" class="lb">601</text>
<text x="953" y="1864" font-size="32.5" textLength="104.5" lengthAdjust="spacingAndGlyphs" class="lb">92055E</text>
<text x="768.8" y="1918" font-size="32.5" textLength="104.1" lengthAdjust="spacingAndGlyphs" class="lb">11012A</text>
<text x="658" y="1935.4" font-size="32.5" textLength="49" lengthAdjust="spacingAndGlyphs" class="lb">130</text>
<text x="1117.5" y="2037.5" font-size="32.5" textLength="137.5" lengthAdjust="spacingAndGlyphs" class="lb">92025F~J</text>
<text x="656" y="2071" font-size="32.5" textLength="48" lengthAdjust="spacingAndGlyphs" class="lb">130</text>
<text x="530" y="2162.5" font-size="32.5" textLength="103" lengthAdjust="spacingAndGlyphs" class="lb">92026A</text>
<text x="456" y="2209" font-size="32.5" textLength="88.1" lengthAdjust="spacingAndGlyphs" class="lb">92143</text>
<text x="1350" y="2235.4" font-size="32.5" textLength="85.5" lengthAdjust="spacingAndGlyphs" class="lb">49006</text>
<text x="351" y="2246" font-size="32.5" textLength="47" lengthAdjust="spacingAndGlyphs" class="lb">120</text>
<text x="729" y="2314.6" font-size="32.5" textLength="51.1" lengthAdjust="spacingAndGlyphs" class="lb">115</text>
<text x="601" y="2351" font-size="32.5" textLength="103.1" lengthAdjust="spacingAndGlyphs" class="lb">92055D</text>
<text x="808" y="2373" font-size="32.5" textLength="67.9" lengthAdjust="spacingAndGlyphs" class="lb">130A</text>
<text x="512.5" y="2392.5" font-size="32.5" textLength="87.6" lengthAdjust="spacingAndGlyphs" class="lb">92033</text>
<text x="761.7" y="2426" font-size="32.5" textLength="88.4" lengthAdjust="spacingAndGlyphs" class="lb">59266</text>
<text x="441" y="2459" font-size="32.5" textLength="85" lengthAdjust="spacingAndGlyphs" class="lb">11012</text>
<text x="1713" y="2474.6" font-size="32.5" textLength="106" lengthAdjust="spacingAndGlyphs" class="lb">49006A</text>
<text x="341.7" y="2498" font-size="32.5" textLength="104.3" lengthAdjust="spacingAndGlyphs" class="lb">92049A</text>
<circle cx="1720" cy="468" r="22" class="s"/>
<text x="1720" y="479" font-size="32" text-anchor="middle" class="lb">B</text>
<circle cx="1338.6" cy="931" r="22" class="s"/>
<text x="1338.6" y="942" font-size="32" text-anchor="middle" class="lb">A</text>
<circle cx="712.5" cy="1729" r="21.7" class="s"/>
<text x="712.5" y="1740" font-size="32" text-anchor="middle" class="lb">A</text>
<circle cx="1919" cy="1805.6" r="22.4" class="s"/>
<text x="1919" y="1816.6" font-size="32" text-anchor="middle" class="lb">C</text>
<circle cx="1323.6" cy="1945.7" r="21.4" class="s"/>
<text x="1323.6" y="1956.7" font-size="32" text-anchor="middle" class="lb">B</text>
<circle cx="311.7" cy="2416.7" r="21.7" class="s"/>
<text x="311.7" y="2427.7" font-size="32" text-anchor="middle" class="lb">C</text>
<path d="M1602 409V472" class="s"/>
<path d="M1660 541.4V604" class="s"/>
<path d="M1580 595V657.5" class="s"/>
<path d="M1492 627V690" class="s"/>
<path d="M1435 548.6V609" class="s"/>
<path d="M1400 680.7V743" class="s"/>
<path d="M1329 595V656" class="s"/>
<path d="M490 827V888" class="s"/>
<path d="M375.7 893V954" class="s"/>
<path d="M698 859V922" class="s"/>
<path d="M572.5 902V968" class="s"/>
<path d="M451 977V1041" class="s"/>
<path d="M339 1043V1106" class="s"/>
<path d="M455 1168V1228.6" class="s"/>
<path d="M1599 740.7V803" class="s"/>
<path d="M1533 776V839" class="s"/>
<path d="M1406 894V955" class="s"/>
<path d="M1504.6 944V1007" class="s"/>
<path d="M1610 979V1042.5" class="s"/>
<path d="M1713.6 1018.6V1080" class="s"/>
<path d="M1856 1089V1152" class="s"/>
<path d="M983 937V1003" class="s"/>
<path d="M1133 946V1007" class="s"/>
<path d="M1277 973V1033.5" class="s"/>
<path d="M1431 1030V1086" class="s"/>
<path d="M1534.6 1069.6V1130" class="s"/>
<path d="M1488.6 1223V1286" class="s"/>
<path d="M1415 1310.7V1375" class="s"/>
<path d="M1613 1314V1377" class="s"/>
<path d="M1536 1400V1459" class="s"/>
<path d="M1634 1428.6V1498" class="s"/>
<path d="M1700 1356V1418" class="s"/>
<path d="M1725.7 1487.5V1552" class="s"/>
<path d="M1776.8 1405V1466" class="s"/>
<path d="M1903.6 1338V1398" class="s"/>
<path d="M1210.7 1227V1293" class="s"/>
<path d="M1110 1285.7V1350" class="s"/>
<path d="M993.6 1357V1420" class="s"/>
<path d="M784.6 1350V1416" class="s"/>
<path d="M1179.6 1378.6V1442" class="s"/>
<path d="M1077.5 1441V1500" class="s"/>
<path d="M533 1499V1562.5" class="s"/>
<path d="M371.7 1677V1741.7" class="s"/>
<path d="M1510 1723V1784" class="s"/>
<path d="M1121 1861V1920" class="s"/>
<path d="M1005 1871V1930" class="s"/>
<path d="M1187 1948V2009" class="s"/>
<path d="M820 1925V1987.5" class="s"/>
<path d="M681 1942.5V2006" class="s"/>
<path d="M679 2078V2141.7" class="s"/>
<path d="M582 2169V2231" class="s"/>
<path d="M499 2216V2279" class="s"/>
<path d="M373.8 2252V2310" class="s"/>
<path d="M754 2223V2285" class="s"/>
<path d="M652 2256V2321.7" class="s"/>
<path d="M841.7 2279V2344" class="s"/>
<path d="M557.5 2294V2364.6" class="s"/>
<path d="M481 2364.6V2428" class="s"/>
<path d="M393.8 2404V2469" class="s"/>
<path d="M1393.5 2241.7V2302.8" class="s"/>
<path d="M1763 2382.6V2444" class="s"/>
<path d="M1220.7 636V808" class="s"/>
<path d="M1297.6 421.4H1362" class="s"/>
<path d="M1297.6 464H1362" class="s"/>
<path d="M1146 471H1211" class="s"/>
<path d="M1146 570H1211" class="s"/>
<path d="M1152.5 613.6H1214" class="s"/>
<path d="M880 602H944.6" class="s"/>
<path d="M893 644H957" class="s"/>
<path d="M562.5 1129H625.7" class="s"/>
<path d="M907 1564H969.6" class="s"/>
<path d="M789 1626.8H848" class="s"/>
<path d="M852 2414H914.6" class="s"/>
<path d="M514.5 681 L514.5 743" class="s"/>
<path d="M517.5 681 L517.5 743" class="s"/>
<path d="M263.6 743 L767 743" class="s"/>
<path d="M263.6 743 L263.6 1260.7 L775 1557" class="s"/>
<path d="M809 1577 L837.5 1594.6 L1295.7 1594.6 L1295.7 1169.6 L1116 1169.6 L767 969 L767 785" class="s"/>
<path d="M685.7 809 L887.5 693.6 L838.6 976 L948 915.7" class="s"/>
<path d="M978.6 646.8 L984 671.8 L1025 662.9 L1046 748.6" class="s"/>
<path d="M1269 728.6 L1343 688" class="s"/>
<path d="M1269 807 L1308 788 L1400 840.7 L1519.6 771" class="s"/>
<path d="M1542 758 L1575 739" class="s"/>
<path d="M1253.6 883.6 L1317.9 919" class="s"/>
<path d="M1225 933.6 L1257 951" class="s"/>
<path d="M1668 498.6 L1700 481" class="s"/>
<path d="M1545 510 L1564 500" class="s"/>
<path d="M629 1077 L951.8 1106.4 L891 1140" class="s"/>
<path d="M312.5 1049 L278 1045 L325 1021" class="s"/>
<path d="M564 1328.6 L503.6 1361 L560 1357" class="s"/>
<path d="M1246 1306 L1280 1286 L1261 1287.5" class="s"/>
<path d="M658 1645 L892 1512.5" class="s"/>
<path d="M662.5 1687.5 L771 1627" class="s"/>
<path d="M460 1741.7 L460 1562.5 L604 1562.5 L685 1610" class="s"/>
<path d="M710 1627 L731 1637.5" class="s"/>
<path d="M756 1652 L908 1737.5 L908 1860 L644 1860 L477 1764.6" class="s"/>
<path d="M477 1823.8 L350 1823.8 L552 1708" class="s"/>
<path d="M418.8 1725.8 L537.5 1662.5" class="s"/>
<path d="M733 1739.6 L758 1754" class="s"/>
<path d="M723 1991.7 L741.7 1982.5 L791.7 2010" class="s"/>
<path d="M718.8 2129 L766.7 2104" class="s"/>
<path d="M749 2112.5 L749 2039.6 L766.7 2029" class="s"/>
<path d="M671 2208 L808 2131" class="s"/>
<path d="M783 2196.7 L819 2179" class="s"/>
<path d="M877 2244 L904 2229 L904 2196" class="s"/>
<path d="M808 2183 L862.5 2221" class="s"/>
<path d="M1201 1903.6 L1358.6 1814 L1207 1816" class="s"/>
<path d="M1346 1932 L1382 1912.5" class="s"/>
<path d="M333 2404 L359 2389.6" class="s"/>
<path d="M1897 1822.5 L1814.7 1865.7" class="s"/>
<path d="M1810.7 1268.8 L1893.8 1318" class="s"/>
<path d="M1530 1247.5 L1889 1247.5 L1846 1218" class="s"/>
<path d="M1440 1247.5 L1354 1247.5 L1405 1277" class="s"/>
<path d="M914.2 2537.5 L914.2 2287.5 L1755.8 1803.6 L1822.6 1842" class="s"/>
<path d="M1854 1860.6 L1956 1917.6 L1956 2537.5 L914.2 2537.5" class="s"/>
<path d="M1258.5 2500 L1258.5 2379 L1525 2228.7 L1525 2363.7" class="s"/>
<path d="M1302 2354.5 L1302 2434.6" class="s"/>
<path d="M1414 2291.3 L1414 2374" class="s"/>
<path d="M1616.7 2331 L1616.7 2467 L1913 2296 L1913 2155" class="s"/>
<path d="M1721 2406.8 L1721 2297" class="s"/>
<path d="M1795 2364 L1795 2245" class="s"/>
<path d="M1858.8 2327.3 L1858.8 2217.6" class="s"/>
<path d="M514.8 1155 L541 1141" class="s"/>
</svg>
</body></html>
